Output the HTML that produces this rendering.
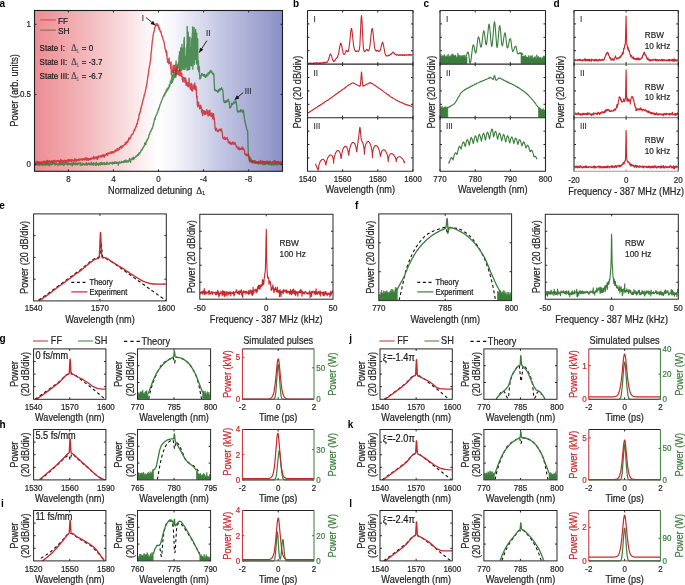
<!DOCTYPE html><html><head><meta charset="utf-8"><style>html,body{margin:0;padding:0;background:#fff;}svg{display:block;will-change:transform;font-family:"Liberation Sans", sans-serif;}</style></head><body><svg width="685" height="585" viewBox="0 0 685 585"><rect width="685" height="585" fill="#fff"/><defs><linearGradient id="ga" x1="0" y1="0" x2="1" y2="0"><stop offset="0" stop-color="#ec8d93"/><stop offset="0.2" stop-color="#f2b5b9"/><stop offset="0.35" stop-color="#f8d9db"/><stop offset="0.45" stop-color="#fdf3f4"/><stop offset="0.5" stop-color="#ffffff"/><stop offset="0.56" stop-color="#f6f6fb"/><stop offset="0.75" stop-color="#c4c7e3"/><stop offset="1" stop-color="#8a90c6"/></linearGradient></defs>
<rect x="34.5" y="10.5" width="248.0" height="160.8" fill="url(#ga)"/>
<polyline points="35.1,164.2 35.4,164.8 35.6,163.0 36.1,165.0 36.6,163.7 36.9,163.9 37.1,162.9 37.4,163.2 37.6,164.6 37.9,164.2 38.1,165.1 38.4,164.0 38.6,164.1 38.9,162.3 39.4,165.6 39.6,164.6 39.9,164.1 40.1,165.0 40.6,164.4 40.9,163.9 41.4,164.8 41.6,163.6 41.9,164.5 42.1,164.5 42.4,165.1 42.6,164.7 42.9,163.7 43.1,165.2 43.4,164.2 43.6,163.6 43.9,164.4 44.1,163.9 44.4,164.9 44.6,163.2 44.9,163.3 45.1,163.9 45.4,165.3 45.6,164.8 45.9,163.4 46.1,162.9 46.4,163.9 46.6,163.2 46.9,164.5 47.6,163.8 47.9,165.1 48.1,163.4 48.4,163.1 48.6,164.9 48.9,165.0 49.1,163.8 49.4,164.5 49.6,165.7 49.9,163.5 50.4,164.4 50.6,162.6 50.9,163.9 51.1,164.6 51.4,164.0 51.6,164.8 51.9,164.6 52.1,163.7 52.4,164.4 52.6,164.3 52.9,162.8 53.1,163.4 53.9,163.7 54.1,163.0 54.4,164.0 54.6,162.7 54.9,164.7 55.1,164.2 55.4,165.0 56.1,163.0 56.4,164.4 56.6,164.0 57.4,164.8 57.6,163.9 57.9,165.2 58.1,163.9 58.4,164.0 58.6,164.4 59.1,164.9 59.4,162.7 59.6,164.9 59.9,162.9 60.6,164.8 60.9,163.2 61.1,162.7 61.4,164.6 61.6,164.2 61.9,163.2 62.1,163.7 62.4,162.5 62.6,164.3 62.9,163.6 63.1,164.8 63.4,162.5 63.6,164.5 63.9,165.5 64.1,164.0 64.3,164.0 64.6,162.6 64.8,164.2 65.3,163.5 65.6,162.8 65.8,164.0 66.1,163.2 66.6,164.1 66.8,163.9 67.1,163.9 67.3,164.6 67.6,163.1 67.8,164.9 68.1,163.1 68.3,163.3 68.8,164.5 69.3,163.6 69.6,163.4 69.8,163.7 70.1,163.2 70.3,164.3 70.6,163.8 70.8,165.0 71.1,163.4 71.6,164.2 71.8,163.1 72.1,163.5 72.3,165.9 72.6,163.9 72.8,165.0 73.1,163.2 73.3,162.2 73.6,164.3 73.8,163.9 74.1,164.1 74.8,163.0 75.1,164.6 75.3,162.8 75.6,164.6 76.1,163.1 76.3,163.4 76.6,164.6 77.1,164.3 77.3,164.0 77.6,163.1 77.8,164.8 78.1,163.6 78.3,163.5 78.8,163.6 79.1,162.9 79.3,163.6 79.6,163.3 79.8,163.5 80.1,162.7 80.3,165.3 80.6,163.0 80.8,164.1 81.1,164.1 81.6,165.2 81.8,164.2 82.1,164.4 82.3,163.6 82.6,165.0 82.8,162.9 83.1,163.7 83.6,164.4 83.8,164.5 84.1,164.7 84.6,163.9 84.8,164.1 85.1,164.9 85.3,164.1 85.6,164.6 86.1,162.6 86.8,165.1 87.1,164.9 87.3,165.1 87.6,163.4 87.8,164.5 88.1,163.9 88.3,164.4 88.6,163.9 88.8,163.0 89.1,164.4 89.3,164.2 89.6,164.5 89.8,163.3 90.1,164.7 90.6,164.9 90.8,164.9 91.3,162.1 91.6,164.6 91.8,163.3 92.1,163.8 92.3,164.7 92.6,164.1 92.8,164.1 93.1,164.4 93.3,162.6 93.6,165.3 93.8,163.7 94.1,163.7 94.3,164.3 94.8,163.3 95.1,163.8 95.6,163.5 95.8,165.4 96.1,162.9 96.3,162.3 96.6,163.3 96.8,163.2 97.1,164.9 97.3,164.0 97.6,164.5 97.8,164.4 98.1,163.3 98.3,164.5 98.6,164.0 98.8,165.3 99.1,164.1 99.3,163.9 99.6,164.4 99.8,164.4 100.1,162.6 100.3,164.8 100.8,164.5 101.1,163.1 101.3,162.4 101.6,163.7 101.8,164.4 102.1,164.2 102.3,163.1 102.6,164.5 102.8,162.8 103.1,162.8 103.3,163.8 103.6,163.3 103.8,163.3 104.1,162.7 104.3,164.5 104.6,162.9 104.8,164.0 105.1,164.2 105.3,163.6 105.6,163.8 106.1,164.7 106.3,164.2 106.6,162.5 106.8,162.1 107.1,163.0 107.3,162.6 107.6,163.8 108.1,163.2 108.3,164.1 108.6,164.0 108.8,163.3 109.1,163.5 109.3,164.0 109.6,163.0 109.8,163.4 110.1,162.5 110.3,163.2 110.6,163.4 110.8,163.0 111.3,163.6 111.6,163.3 111.8,162.5 112.1,162.6 112.3,162.1 112.6,164.2 112.8,163.2 113.1,163.2 113.3,162.8 113.6,163.2 113.8,163.2 114.1,162.3 114.3,162.7 114.6,163.6 114.8,161.9 115.1,162.1 115.3,163.2 115.6,162.2 115.8,163.3 116.1,161.9 116.3,162.9 116.6,163.2 116.8,162.9 117.1,163.2 117.3,162.5 117.8,162.6 118.1,163.0 118.3,165.1 118.6,162.5 118.8,163.9 119.1,162.3 119.3,161.7 119.8,162.7 120.3,162.5 120.6,162.8 120.8,162.8 121.1,163.0 121.3,161.5 121.6,162.3 121.8,161.6 122.1,162.4 122.3,162.1 122.6,162.3 123.1,161.5 123.6,162.5 123.8,162.5 124.1,160.8 124.3,162.1 124.6,162.1 124.8,160.8 125.3,161.4 125.6,162.0 125.8,160.0 126.1,161.3 126.3,161.1 126.6,161.5 126.8,162.3 127.1,162.2 127.3,160.9 127.6,160.8 128.1,161.8 128.3,161.9 128.6,161.0 128.8,161.7 129.1,159.9 129.3,159.7 129.6,158.4 130.1,160.6 130.3,160.6 130.6,162.3 130.8,160.2 131.1,159.8 131.3,158.9 131.6,159.0 131.8,158.9 132.1,159.0 132.6,157.9 132.8,159.5 133.1,159.0 133.3,159.5 133.6,157.2 133.8,157.3 134.1,157.5 134.3,158.8 134.6,157.6 134.8,157.8 135.1,157.4 135.3,157.4 135.6,156.7 135.8,157.1 136.1,156.0 136.6,156.4 136.8,156.0 137.1,156.0 137.3,154.9 137.6,155.3 137.8,154.7 138.1,154.9 138.3,155.3 138.6,153.4 138.8,154.4 139.1,152.9 139.3,152.8 139.6,153.9 140.1,152.4 140.6,152.2 140.8,150.6 141.1,150.9 141.3,150.1 141.6,150.4 141.8,149.5 142.1,149.9 142.6,148.2 143.3,148.1 143.6,146.8 143.8,146.3 144.3,146.2 144.8,142.9 145.1,144.4 145.3,143.5 145.6,143.0 145.8,144.6 146.1,142.2 146.3,142.3 146.6,140.3 146.8,140.9 147.1,140.8 147.6,139.1 147.8,139.0 148.1,138.1 148.3,138.5 149.1,134.4 149.3,134.7 149.6,134.4 149.8,133.1 150.1,132.6 150.3,131.5 150.6,131.3 150.8,131.5 151.8,128.5 152.1,128.5 152.3,128.7 152.6,126.9 152.8,127.1 153.1,124.9 153.3,124.2 153.6,124.6 153.8,122.1 154.1,121.2 154.3,121.0 154.6,119.1 154.8,118.2 155.1,119.6 155.3,117.2 155.6,116.9 156.1,115.1 156.3,115.5 157.1,113.4 157.3,112.3 157.6,112.5 157.8,111.6 158.1,109.8 158.3,109.5 158.6,108.6 158.8,109.5 159.1,108.0 159.6,106.2 159.8,106.0 160.1,104.3 160.3,104.3 160.8,103.0 161.1,101.9 161.3,102.1 161.6,100.4 161.8,100.2 162.3,99.3 162.8,97.5 163.1,96.9 163.3,96.8 163.6,95.9 163.8,95.8 164.1,94.5 164.3,94.9 164.6,95.8 164.8,92.9 165.3,93.8 165.6,92.7 165.8,92.7 166.1,90.2 166.6,91.9 166.8,89.9 167.1,90.1 167.3,88.1 167.6,89.7 167.8,90.1 168.1,88.0 168.3,87.9 168.6,87.5 168.8,88.3 169.1,86.0 169.3,84.7 169.6,86.8 169.8,84.2 170.0,85.1 170.2,82.8 170.3,82.8 170.5,81.3 170.7,81.9 171.0,80.0 171.2,79.9 171.5,83.4 171.7,78.4 172.0,75.7 172.2,81.1 172.4,82.3 172.7,74.8 172.9,81.0 173.1,76.1 173.2,78.3 173.4,70.1 173.6,77.3 173.7,79.0 173.9,71.7 174.1,77.1 174.2,76.0 174.4,77.4 174.6,75.6 174.8,77.4 174.9,76.8 175.1,71.3 175.3,75.3 175.6,63.9 175.9,75.4 176.1,60.9 176.3,74.4 176.8,66.2 177.0,70.7 177.1,69.1 177.3,64.8 177.6,69.4 177.8,67.0 178.0,68.0 178.2,68.2 178.3,62.7 178.7,66.0 179.0,55.8 179.3,67.9 179.5,51.6 179.7,71.1 179.9,55.1 180.0,66.5 180.2,64.9 180.4,53.0 180.5,58.1 180.7,48.0 180.9,50.7 181.0,69.9 181.4,53.7 181.6,70.3 181.9,44.4 182.1,68.0 182.2,69.0 182.4,65.9 182.6,64.8 182.7,65.4 182.9,61.9 183.1,48.2 183.3,59.2 183.4,55.5 183.6,69.6 183.8,69.0 183.9,39.9 184.1,62.1 184.3,37.4 184.4,62.4 184.6,49.8 184.8,47.8 185.0,68.9 185.1,69.6 185.3,56.5 185.5,66.9 185.6,62.4 185.8,66.2 186.1,56.1 186.3,61.4 186.5,61.7 186.8,45.0 187.0,70.1 187.2,26.5 187.3,56.9 187.5,30.8 187.7,69.4 187.8,70.0 188.0,68.2 188.2,32.4 188.4,58.0 188.5,37.1 188.7,46.0 188.9,69.6 189.0,60.6 189.2,61.6 189.4,56.6 189.5,44.6 189.7,69.3 189.9,37.1 190.1,57.9 190.2,62.3 190.4,48.5 190.6,64.2 190.7,48.0 190.9,59.3 191.1,56.2 191.2,65.9 191.4,64.9 191.6,38.6 191.8,52.3 191.9,57.1 192.3,33.2 192.4,65.9 192.6,26.9 192.8,69.2 192.9,46.8 193.1,61.9 193.3,62.3 193.6,46.8 193.8,54.9 194.1,27.5 194.3,64.6 194.5,61.4 194.6,46.9 194.8,56.1 195.0,59.3 195.5,30.9 195.7,29.5 195.8,37.3 196.0,59.4 196.2,34.8 196.5,63.9 196.7,33.1 196.9,62.1 197.0,47.0 197.2,47.4 197.4,38.4 197.5,50.4 197.7,39.2 197.9,68.9 198.0,69.3 198.2,67.5 198.4,60.6 198.7,71.7 198.9,69.9 199.1,66.2 199.2,69.4 199.4,67.4 199.6,75.4 199.8,78.9 200.1,78.8 200.3,78.4 200.6,78.2 200.8,77.7 201.1,75.4 201.3,75.8 201.8,73.5 202.3,74.7 202.6,73.9 202.8,75.4 203.1,74.7 203.3,75.4 203.6,75.8 203.8,75.1 204.1,76.3 204.3,74.4 204.6,76.3 204.8,74.7 205.1,77.0 205.3,76.0 205.6,77.4 205.8,77.3 206.1,76.0 206.3,75.3 206.6,76.4 206.8,74.5 207.1,75.6 207.3,74.7 207.8,73.8 208.1,75.3 208.3,72.6 208.8,73.4 209.3,73.6 209.6,73.0 209.8,71.3 210.3,72.0 210.6,71.7 210.8,70.4 211.1,72.0 211.3,72.3 211.6,71.2 212.6,74.0 212.8,73.9 213.1,73.6 213.3,73.6 213.6,73.4 213.8,74.3 214.6,89.5 214.8,90.5 215.1,89.6 215.3,90.1 215.8,90.0 216.1,90.9 216.3,91.1 216.6,90.6 216.8,90.6 217.1,91.4 217.3,90.8 217.8,92.3 218.1,91.4 218.3,89.9 218.6,91.5 218.8,90.0 219.3,89.4 219.6,90.8 219.8,88.6 220.1,89.7 220.3,89.8 220.6,89.6 220.8,88.8 221.1,89.0 221.3,89.0 221.6,87.8 221.8,89.1 222.1,89.8 222.3,89.1 222.6,89.8 222.8,90.2 223.3,96.3 223.6,100.8 223.8,100.0 224.1,102.2 224.3,101.2 224.6,101.7 224.8,102.7 225.1,102.2 225.3,101.0 225.6,102.2 225.8,102.4 226.1,101.3 226.6,100.9 226.8,102.0 227.3,100.3 227.6,101.4 227.8,101.3 228.3,99.1 228.6,100.6 228.8,101.2 229.1,101.3 229.8,107.9 230.1,108.0 230.3,107.9 230.6,106.8 230.8,107.2 231.1,106.1 231.3,106.0 231.6,103.2 232.1,104.8 232.3,104.4 232.6,103.6 232.8,104.2 233.1,103.4 233.3,103.3 233.6,102.0 233.8,102.8 234.3,103.2 234.6,103.0 234.8,102.1 235.1,102.0 235.3,101.0 235.6,102.1 235.8,100.9 236.3,102.4 237.3,111.1 237.6,111.8 237.8,111.4 238.1,112.1 238.3,112.0 238.6,112.1 238.8,110.9 239.3,111.6 239.6,111.6 239.8,110.9 240.1,111.0 240.3,111.8 240.6,109.9 240.8,110.9 241.1,111.1 241.3,110.0 241.6,110.3 241.8,111.1 242.1,110.6 242.3,111.7 242.6,111.4 242.8,112.5 243.1,110.0 243.3,112.2 243.6,111.1 244.1,116.1 244.8,120.8 245.1,121.5 245.3,123.4 245.6,123.9 245.8,125.8 246.1,125.8 246.6,128.4 247.6,131.3 247.8,134.9 248.3,154.3 248.6,156.9 248.8,157.0 249.1,156.3 249.3,159.9 249.6,158.8 249.8,158.1 250.1,160.1 250.3,157.4 250.6,161.4 250.8,158.7 251.1,158.9 251.6,160.5 251.8,160.3 252.1,161.4 252.3,160.3 252.6,161.8 253.1,160.6 253.3,162.3 253.8,161.7 254.1,162.9 254.3,161.2 254.6,161.9 254.8,163.3 255.1,162.3 255.3,162.9 255.6,163.0 255.8,162.5 256.1,163.2 256.4,162.1 256.6,163.4 256.9,162.3 257.1,163.1 257.4,162.5 257.6,163.6 257.9,163.7 258.1,164.2 258.4,163.0 258.6,162.7 258.9,161.9 259.4,163.2 259.6,163.6 259.9,163.1 260.1,163.4 260.4,162.4 260.6,162.8 260.9,164.0 261.1,163.9 261.4,162.5 261.6,163.2 261.9,163.6 262.1,162.6 262.4,163.7 262.6,163.7 262.9,163.8 263.1,164.8 263.4,162.9 263.6,164.3 263.9,163.9 264.1,164.0 264.4,163.0 264.6,163.5 264.9,163.5 265.1,164.7 265.4,163.6 265.6,164.5 265.9,163.3 266.1,163.3 266.4,163.5 266.6,162.1 266.9,163.2 267.1,163.1 267.6,163.7 267.9,162.9 268.1,162.8 268.4,164.5 268.6,162.8 268.9,163.2 269.1,162.9 269.4,163.2 269.6,164.4 269.9,164.4 270.1,162.3 270.6,164.6 270.9,163.4 271.1,163.9 271.4,164.9 271.6,165.2 271.9,164.7 272.1,163.4 272.6,163.8 273.1,163.2 273.4,165.1 273.6,163.9 274.1,164.5 274.6,163.7 274.9,163.9 275.1,164.7 275.4,164.0 275.6,162.3 275.9,164.4 276.1,164.9 276.4,163.5 276.6,163.3 276.9,163.4 277.1,164.5 277.4,163.0 277.6,164.3 277.9,164.5 278.4,163.8 278.6,163.2 278.9,163.3 279.1,163.8 279.4,163.1 279.6,163.7 279.9,163.1 280.1,164.7 280.4,164.9 280.6,163.2 280.9,164.7 281.1,164.0 281.4,163.8 281.6,164.1 281.9,164.1 282.1,162.8" fill="none" stroke="#2f7a35" stroke-width="1.35" stroke-linejoin="round" stroke-opacity="0.82"/>
<polyline points="35.1,162.2 35.4,162.0 35.9,162.8 36.1,162.5 36.4,162.9 36.9,161.2 37.1,162.5 37.4,162.6 37.6,161.8 38.1,162.1 38.4,162.8 38.9,161.6 39.1,163.1 39.4,162.4 39.6,163.4 39.9,163.0 40.1,163.4 40.4,162.2 40.6,162.9 40.9,161.9 41.1,161.9 41.4,162.2 41.6,163.8 41.9,162.4 42.1,162.0 42.4,161.9 42.6,163.1 42.9,162.3 43.1,162.6 43.4,162.5 43.6,161.2 43.9,162.5 44.4,161.3 44.6,162.3 44.9,162.0 45.1,161.8 45.4,161.8 45.6,162.7 46.1,160.9 46.4,162.9 46.6,161.2 47.1,162.2 47.4,160.4 47.9,162.6 48.1,161.7 48.4,161.3 48.6,161.8 48.9,161.2 49.1,161.7 49.6,160.7 49.9,162.1 50.1,161.5 50.4,161.9 50.6,161.5 50.9,162.4 51.4,161.7 51.6,160.9 51.9,160.7 52.1,162.5 52.4,162.1 52.6,161.1 52.9,162.9 53.1,161.8 53.4,161.5 53.6,160.6 53.9,161.0 54.1,161.7 54.4,161.7 54.6,161.6 54.9,160.3 55.1,161.7 55.4,161.6 55.6,161.1 55.9,161.4 56.1,161.4 56.4,162.1 56.6,161.3 56.9,161.6 57.1,160.4 57.6,161.2 57.9,160.7 58.1,161.4 58.4,160.4 58.6,161.2 58.9,160.7 59.1,162.0 59.4,160.9 59.6,162.3 59.9,162.5 60.1,161.3 60.4,161.7 60.6,160.9 60.9,159.5 61.1,161.6 61.4,161.4 61.6,160.8 61.9,160.6 62.1,161.1 62.4,161.1 62.6,160.4 62.9,160.5 63.1,161.6 63.4,160.9 63.6,160.8 63.9,161.6 64.1,160.7 64.3,161.4 64.6,160.1 64.8,160.7 65.1,160.7 65.3,161.2 65.6,160.8 65.8,162.1 66.1,161.5 66.3,160.4 66.6,162.2 66.8,160.1 67.1,161.9 67.3,160.1 67.6,161.2 67.8,160.1 68.1,160.5 68.3,161.6 68.6,159.7 68.8,159.5 69.1,160.6 69.3,160.7 69.6,160.6 69.8,161.2 70.1,159.7 70.3,160.8 70.6,160.5 70.8,161.0 71.1,160.8 71.3,161.3 71.6,159.5 71.8,160.4 72.1,159.6 72.6,160.8 72.8,160.5 73.1,160.6 73.3,160.2 73.6,160.5 73.8,160.4 74.1,161.1 74.3,160.7 74.6,159.0 74.8,160.6 75.1,160.8 75.6,159.1 75.8,161.1 76.1,160.2 76.3,160.5 76.6,161.2 76.8,159.5 77.1,160.0 77.3,159.9 77.6,160.4 77.8,159.6 78.1,160.2 78.3,159.9 78.6,160.6 78.8,160.7 79.1,158.8 79.3,160.1 79.6,159.5 80.1,160.0 80.3,160.0 80.6,159.2 80.8,159.8 81.3,159.6 81.6,158.7 82.1,159.2 82.6,160.4 82.8,158.8 83.1,158.7 83.3,159.5 83.6,159.0 83.8,158.8 84.3,158.6 84.6,159.6 84.8,158.2 85.1,160.1 85.3,158.6 85.6,158.8 85.8,158.5 86.1,157.8 86.3,158.0 86.6,159.8 86.8,160.2 87.1,158.4 87.3,159.7 87.8,158.3 88.1,160.0 88.3,160.3 88.6,158.6 89.1,158.9 89.3,158.6 89.8,159.7 90.1,158.7 90.6,159.6 90.8,158.1 91.1,158.4 91.3,158.1 91.6,159.0 91.8,158.7 92.1,158.9 92.3,158.8 92.6,158.0 92.8,158.6 93.1,157.8 93.3,157.8 93.6,156.5 93.8,158.9 94.1,157.2 94.3,157.9 94.6,157.8 94.8,158.7 95.3,157.1 95.6,157.6 95.8,157.4 96.1,157.7 96.3,156.6 96.6,157.4 96.8,158.8 97.1,157.7 97.6,159.4 98.1,156.1 98.6,157.7 98.8,157.5 99.1,156.0 99.3,156.6 99.8,156.7 100.1,156.5 100.3,155.9 100.6,156.0 100.8,156.2 101.1,157.0 101.3,155.9 101.6,156.6 101.8,155.3 102.1,156.9 102.3,156.0 102.6,155.9 102.8,156.7 103.1,154.5 103.3,154.6 103.6,155.9 103.8,154.9 104.1,155.1 104.3,157.2 104.6,155.1 104.8,155.2 105.1,155.0 105.3,155.7 105.6,155.1 105.8,154.9 106.1,153.9 106.3,154.4 106.6,154.6 106.8,153.4 107.1,154.8 107.3,154.6 107.6,155.5 107.8,153.0 108.1,153.3 108.3,153.3 108.6,153.3 108.8,153.6 109.1,153.5 109.3,153.7 109.8,153.3 110.1,152.2 110.6,153.1 110.8,153.4 111.1,153.3 111.3,151.6 111.6,152.3 112.1,152.7 112.3,153.1 112.8,151.5 113.1,152.3 113.6,151.9 113.8,151.6 114.1,152.7 114.3,151.6 114.6,151.9 114.8,150.6 115.1,151.6 115.6,149.8 115.8,150.9 116.1,151.0 116.3,150.3 116.6,150.3 116.8,150.9 117.3,148.5 117.6,149.9 117.8,149.8 118.1,150.2 118.3,149.1 118.6,150.0 118.8,149.8 119.1,148.0 119.3,149.3 119.6,147.8 119.8,147.3 120.1,148.0 120.3,147.6 120.6,146.5 120.8,147.8 121.1,147.9 121.3,148.3 121.8,145.9 122.1,146.1 122.3,147.2 122.8,146.5 123.1,145.7 123.3,145.9 123.6,145.4 123.8,145.1 124.1,145.3 124.6,144.4 124.8,144.4 125.1,143.7 125.3,142.5 125.6,143.1 125.8,143.2 126.1,144.2 126.3,142.4 126.6,143.8 126.8,143.1 127.1,141.2 127.3,141.0 127.6,141.3 127.8,142.1 128.1,140.8 128.3,140.7 128.8,137.9 129.1,139.0 129.3,139.4 129.6,139.3 129.8,138.1 130.1,137.9 130.3,138.2 130.6,136.9 130.8,137.4 131.1,135.5 131.6,134.7 131.8,135.3 132.1,134.2 132.3,134.2 132.6,133.9 132.8,133.5 133.1,133.7 133.3,133.3 133.6,131.2 133.8,131.4 134.3,129.6 134.6,130.9 135.1,128.5 135.3,127.8 135.6,127.8 135.8,126.3 136.1,126.2 136.3,126.6 136.6,125.8 136.8,123.9 137.1,123.4 137.3,124.3 137.6,121.3 137.8,120.9 138.1,119.5 138.3,119.7 138.6,118.6 138.8,118.1 139.1,114.4 139.3,115.2 139.6,112.9 139.8,113.4 140.1,111.8 140.3,112.1 140.8,108.2 141.1,108.7 141.3,106.0 141.6,105.5 141.8,105.5 142.6,101.7 143.1,100.2 143.3,98.9 143.6,98.5 143.8,97.8 144.3,94.4 144.6,95.2 144.8,93.2 145.3,91.9 145.6,89.6 145.8,89.4 146.1,86.8 146.3,87.2 146.6,85.0 147.1,82.7 147.3,80.1 147.6,78.9 147.8,76.7 148.3,74.3 149.1,67.8 149.3,67.6 149.6,65.5 149.8,65.1 150.1,61.8 150.3,61.2 150.6,59.8 151.1,53.0 151.3,52.2 152.3,41.1 152.6,39.8 153.1,35.2 153.3,34.7 153.6,32.6 153.8,32.4 154.1,31.5 154.3,31.0 154.6,27.6 154.8,28.3 155.1,27.1 155.6,25.7 155.8,25.3 156.1,23.7 156.3,25.5 156.6,25.6 156.8,25.1 157.1,25.2 157.3,23.8 157.6,24.0 157.8,25.6 158.1,26.4 158.3,26.1 158.6,25.4 158.8,29.0 159.1,27.3 159.3,29.1 159.6,28.2 159.8,30.3 160.1,30.4 160.3,31.9 160.6,32.1 160.8,31.1 161.8,36.2 162.1,35.9 162.3,36.4 162.8,38.2 163.1,39.9 163.3,40.1 163.6,41.1 163.8,41.2 164.1,41.9 164.6,46.0 164.8,46.6 165.3,49.4 165.6,50.1 165.8,52.0 166.1,49.9 166.3,50.6 166.6,55.4 166.8,51.8 167.1,58.5 167.3,58.7 167.6,62.3 167.8,60.7 168.1,60.4 168.3,59.7 168.6,63.8 168.8,58.7 169.1,57.9 169.3,62.3 169.6,63.3 169.8,63.4 170.1,63.6 170.3,62.9 170.6,68.2 170.8,67.2 171.1,61.9 171.3,74.8 171.6,69.1 171.8,71.7 172.1,72.7 172.3,69.2 172.6,71.8 172.8,69.3 173.1,65.2 173.3,72.3 173.6,69.8 173.8,71.1 174.1,65.7 174.3,65.5 174.6,70.1 174.8,68.3 175.1,70.3 175.3,69.0 175.6,69.3 175.8,77.3 176.1,69.0 176.3,73.6 176.6,71.3 176.8,66.8 177.1,73.7 177.3,74.2 177.6,70.0 177.8,71.0 178.1,70.4 178.3,73.9 178.6,74.8 179.1,70.5 179.3,72.0 179.6,69.8 179.8,75.7 180.3,71.0 180.6,69.9 180.8,76.1 181.1,74.4 181.3,75.7 181.6,76.1 181.8,73.2 182.1,77.6 182.3,79.7 182.6,76.7 182.8,81.8 183.1,82.0 183.3,77.3 183.6,81.0 183.8,78.0 184.1,77.4 184.3,78.0 184.6,80.6 184.8,79.4 185.1,82.6 185.3,81.6 185.6,77.9 185.8,79.4 186.1,85.4 186.3,80.8 186.6,84.6 186.8,85.1 187.1,85.2 187.3,82.7 187.6,82.6 187.8,86.5 188.1,84.4 188.3,85.7 188.6,83.7 188.8,86.9 189.1,78.1 189.3,85.8 189.6,85.1 189.8,83.5 190.1,84.7 190.3,89.1 190.6,85.4 190.8,86.2 191.1,89.4 191.3,84.5 191.6,83.3 191.8,90.8 192.1,89.8 192.3,91.0 192.6,90.9 192.8,87.0 193.1,87.6 193.3,84.8 193.6,88.6 194.1,85.4 194.3,89.1 194.6,85.2 194.8,83.0 195.3,89.6 195.8,90.1 196.1,86.3 196.6,96.5 196.8,98.1 197.1,96.2 197.3,105.2 197.6,101.4 197.8,106.7 198.1,103.0 198.3,104.9 198.6,102.3 198.8,106.4 199.1,105.4 199.6,108.8 199.8,106.3 200.1,106.8 200.3,105.1 200.6,108.4 200.8,105.5 201.1,107.2 201.3,107.1 201.6,112.3 201.8,110.3 202.1,109.7 202.3,111.5 202.6,115.7 202.8,110.0 203.1,111.9 203.3,113.0 203.6,113.3 203.8,113.2 204.1,110.7 204.3,114.6 204.6,113.7 204.8,111.4 205.1,111.5 205.3,113.1 205.6,112.9 205.8,114.4 206.3,111.0 206.6,113.3 206.8,109.7 207.3,113.2 207.6,111.1 208.1,116.2 208.3,115.1 208.8,110.9 209.1,112.3 209.3,112.0 209.6,115.2 209.8,110.1 210.1,115.3 210.6,113.3 210.8,115.3 211.3,116.5 211.6,113.4 211.8,112.9 212.1,113.9 212.6,118.3 213.1,115.3 213.3,119.2 213.6,113.6 213.8,117.4 214.1,119.0 214.3,117.9 215.1,128.6 215.3,128.8 215.6,130.5 215.8,128.4 216.1,129.3 216.6,128.3 217.1,131.2 217.3,130.7 217.6,131.0 218.1,130.4 218.3,131.7 218.6,129.9 218.8,131.0 219.1,129.6 219.3,129.7 219.6,129.7 219.8,129.3 220.3,129.9 220.6,130.9 221.1,128.8 221.3,129.0 221.8,130.3 222.1,132.9 222.3,133.3 222.6,136.3 222.8,137.9 223.1,138.2 223.3,138.0 223.6,138.5 223.8,138.4 224.1,139.2 224.3,138.8 224.6,137.1 224.8,138.8 225.1,139.0 225.3,138.4 225.6,138.2 225.8,139.5 226.3,138.0 226.6,138.4 226.8,138.4 227.1,137.4 227.3,139.0 227.6,139.1 227.8,140.2 228.1,139.5 228.3,142.5 228.6,142.3 228.8,142.7 229.1,142.0 229.3,142.1 229.6,141.6 229.8,143.7 230.1,142.2 230.3,143.0 230.6,143.3 230.8,142.5 231.3,144.5 231.6,143.3 231.8,144.2 232.3,142.9 232.6,142.9 232.8,142.0 233.3,144.1 233.6,143.5 234.1,143.7 234.3,142.6 234.8,144.2 235.1,142.6 235.3,143.9 235.6,144.3 235.8,145.2 236.1,145.6 236.3,146.8 236.6,146.2 236.8,146.9 237.3,147.2 237.6,148.6 237.8,147.8 238.1,148.0 238.3,147.8 238.6,149.0 238.8,147.1 239.3,149.3 239.6,149.8 239.8,148.9 240.1,148.9 240.3,149.3 240.6,148.7 240.8,149.2 241.1,148.4 241.3,149.3 241.8,148.0 242.1,146.9 242.3,149.4 242.6,149.0 242.8,149.3 243.1,148.1 243.3,149.5 243.8,148.7 244.6,151.2 244.8,153.7 245.1,154.6 245.3,154.5 245.6,154.2 245.8,154.5 246.1,155.7 246.6,154.0 246.8,154.3 247.3,155.5 247.6,154.5 247.8,155.4 248.1,155.9 248.3,155.7 248.6,154.2 248.8,156.6 249.1,157.5 249.3,160.2 249.6,160.8 249.8,161.9 250.1,161.6 250.3,159.8 250.8,161.9 251.3,161.4 251.6,160.8 252.1,163.0 252.3,162.0 252.6,161.8 252.8,161.8 253.1,160.9 253.3,161.7 253.6,161.4 253.8,162.7 254.3,160.6 254.6,161.5 254.8,161.9 255.1,162.0 255.3,160.9 255.6,162.8 256.1,161.8 256.4,161.6 256.6,162.4 256.9,161.9 257.1,162.3 257.4,162.0 257.6,162.2 257.9,162.9 258.4,161.5 258.6,162.8 259.1,161.7 259.4,162.9 259.6,162.0 259.9,162.9 260.1,161.3 260.4,160.5 260.6,160.7 260.9,162.3 261.1,161.6 261.4,162.1 261.6,162.1 261.9,161.1 262.1,163.1 262.4,161.4 262.6,162.2 262.9,161.2 263.4,162.6 263.6,162.0 263.9,161.6 264.1,162.1 264.4,161.8 264.9,163.7 265.1,161.5 265.4,161.7 265.6,162.1 265.9,162.1 266.1,161.4 266.4,162.5 266.6,162.7 266.9,162.3 267.1,161.3 267.4,163.2 267.6,161.3 267.9,162.6 268.1,163.0 268.4,161.3 268.9,163.1 269.4,161.5 269.6,161.4 269.9,162.5 270.1,161.9 270.4,161.7 270.6,162.6 270.9,161.9 271.4,162.6 271.6,162.5 271.9,162.2 272.1,162.2 272.4,162.6 272.6,162.5 272.9,161.4 273.1,162.1 273.4,161.6 273.6,161.4 273.9,161.8 274.1,160.6 274.4,162.8 274.6,161.6 274.9,162.4 275.1,160.9 275.4,161.0 275.6,163.6 276.1,161.8 276.4,161.7 276.6,161.7 276.9,162.3 277.1,161.9 277.4,161.8 277.6,162.3 277.9,161.5 278.1,163.8 278.4,161.8 278.6,163.0 278.9,161.6 279.1,162.4 279.4,162.9 279.6,162.0 279.9,162.9 280.1,162.9 280.4,163.3 280.6,162.3 281.1,161.5 281.4,162.4 281.6,161.5 281.9,162.2 282.1,162.3" fill="none" stroke="#cc2229" stroke-width="1.35" stroke-linejoin="round" stroke-opacity="0.82"/>
<rect x="34.5" y="10.5" width="248" height="160.8" stroke="#1c1c1c" stroke-width="1.1" fill="none"/>
<line x1="68.34" y1="171.3" x2="68.34" y2="169.3" stroke="#262626" stroke-width="1.0" />
<line x1="68.34" y1="10.5" x2="68.34" y2="12.5" stroke="#262626" stroke-width="1.0" />
<line x1="113.42" y1="171.3" x2="113.42" y2="169.3" stroke="#262626" stroke-width="1.0" />
<line x1="113.42" y1="10.5" x2="113.42" y2="12.5" stroke="#262626" stroke-width="1.0" />
<line x1="158.5" y1="171.3" x2="158.5" y2="169.3" stroke="#262626" stroke-width="1.0" />
<line x1="158.5" y1="10.5" x2="158.5" y2="12.5" stroke="#262626" stroke-width="1.0" />
<line x1="203.58" y1="171.3" x2="203.58" y2="169.3" stroke="#262626" stroke-width="1.0" />
<line x1="203.58" y1="10.5" x2="203.58" y2="12.5" stroke="#262626" stroke-width="1.0" />
<line x1="248.66" y1="171.3" x2="248.66" y2="169.3" stroke="#262626" stroke-width="1.0" />
<line x1="248.66" y1="10.5" x2="248.66" y2="12.5" stroke="#262626" stroke-width="1.0" />
<line x1="34.5" y1="164.5" x2="36.5" y2="164.5" stroke="#262626" stroke-width="1.0" />
<line x1="282.5" y1="164.5" x2="280.5" y2="164.5" stroke="#262626" stroke-width="1.0" />
<line x1="34.5" y1="94.4" x2="36.5" y2="94.4" stroke="#262626" stroke-width="1.0" />
<line x1="282.5" y1="94.4" x2="280.5" y2="94.4" stroke="#262626" stroke-width="1.0" />
<line x1="34.5" y1="24.3" x2="36.5" y2="24.3" stroke="#262626" stroke-width="1.0" />
<line x1="282.5" y1="24.3" x2="280.5" y2="24.3" stroke="#262626" stroke-width="1.0" />
<text transform="translate(68.34 182) scale(1 1.1)" font-size="8" text-anchor="middle" fill="#262626" font-weight="normal" stroke="#262626" stroke-width="0.2" >8</text>
<text transform="translate(113.42 182) scale(1 1.1)" font-size="8" text-anchor="middle" fill="#262626" font-weight="normal" stroke="#262626" stroke-width="0.2" >4</text>
<text transform="translate(158.5 182) scale(1 1.1)" font-size="8" text-anchor="middle" fill="#262626" font-weight="normal" stroke="#262626" stroke-width="0.2" >0</text>
<text transform="translate(203.58 182) scale(1 1.1)" font-size="8" text-anchor="middle" fill="#262626" font-weight="normal" stroke="#262626" stroke-width="0.2" >-4</text>
<text transform="translate(248.66 182) scale(1 1.1)" font-size="8" text-anchor="middle" fill="#262626" font-weight="normal" stroke="#262626" stroke-width="0.2" >-8</text>
<text transform="translate(31 167.3) scale(1 1.1)" font-size="8" text-anchor="end" fill="#262626" font-weight="normal" stroke="#262626" stroke-width="0.2" >0</text>
<text transform="translate(31 97.2) scale(1 1.1)" font-size="8" text-anchor="end" fill="#262626" font-weight="normal" stroke="#262626" stroke-width="0.2" >0.5</text>
<text transform="translate(31 27.1) scale(1 1.1)" font-size="8" text-anchor="end" fill="#262626" font-weight="normal" stroke="#262626" stroke-width="0.2" >1</text>
<text transform="translate(156.5 193.5) scale(1 1.1)" font-size="9.2" text-anchor="middle" fill="#262626" font-weight="normal" stroke="#262626" stroke-width="0.2" >Normalized detuning <tspan font-family="Liberation Serif" dx="1.5">&#916;</tspan><tspan font-size="5" dy="1.2">1</tspan></text>
<text transform="translate(17.8 90.4) rotate(-90) scale(1 1.1)" font-size="9.2" text-anchor="middle" fill="#262626" font-weight="normal" stroke="#262626" stroke-width="0.2" >Power (arb. units)</text>
<line x1="40.1" y1="19.9" x2="55.9" y2="19.9" stroke="#de6268" stroke-width="1.6" />
<line x1="40.1" y1="30.2" x2="55.9" y2="30.2" stroke="#a07f62" stroke-width="1.6" />
<text transform="translate(57.9 23.9) scale(1 1.1)" font-size="8.4" text-anchor="start" fill="#1a1a1a" font-weight="normal" stroke="#1a1a1a" stroke-width="0.2" >FF</text>
<text transform="translate(57.9 34.2) scale(1 1.1)" font-size="8.4" text-anchor="start" fill="#1a1a1a" font-weight="normal" stroke="#1a1a1a" stroke-width="0.2" >SH</text>
<text transform="translate(39.6 51.2) scale(1 1.1)" font-size="8" text-anchor="start" fill="#1a1a1a" font-weight="normal" stroke="#1a1a1a" stroke-width="0.2" >State I:</text>
<text transform="translate(71.3 51.2) scale(1 1.1)" font-size="8.5" text-anchor="start" fill="#444" font-weight="normal" stroke="#444" stroke-width="0.2" font-family="Liberation Serif">&#916;</text>
<text transform="translate(76.6 53) scale(1 1.1)" font-size="4.5" text-anchor="start" fill="#777" font-weight="normal" stroke="#777" stroke-width="0.2" >1</text>
<text transform="translate(81.8 51.2) scale(1 1.1)" font-size="8" text-anchor="start" fill="#1a1a1a" font-weight="normal" stroke="#1a1a1a" stroke-width="0.2" >= 0</text>
<text transform="translate(39.6 65) scale(1 1.1)" font-size="8" text-anchor="start" fill="#1a1a1a" font-weight="normal" stroke="#1a1a1a" stroke-width="0.2" >State II:</text>
<text transform="translate(71.3 65) scale(1 1.1)" font-size="8.5" text-anchor="start" fill="#444" font-weight="normal" stroke="#444" stroke-width="0.2" font-family="Liberation Serif">&#916;</text>
<text transform="translate(76.6 66.8) scale(1 1.1)" font-size="4.5" text-anchor="start" fill="#777" font-weight="normal" stroke="#777" stroke-width="0.2" >1</text>
<text transform="translate(81.8 65) scale(1 1.1)" font-size="8" text-anchor="start" fill="#1a1a1a" font-weight="normal" stroke="#1a1a1a" stroke-width="0.2" >= -3.7</text>
<text transform="translate(39.6 78.8) scale(1 1.1)" font-size="8" text-anchor="start" fill="#1a1a1a" font-weight="normal" stroke="#1a1a1a" stroke-width="0.2" >State III:</text>
<text transform="translate(71.3 78.8) scale(1 1.1)" font-size="8.5" text-anchor="start" fill="#444" font-weight="normal" stroke="#444" stroke-width="0.2" font-family="Liberation Serif">&#916;</text>
<text transform="translate(76.6 80.6) scale(1 1.1)" font-size="4.5" text-anchor="start" fill="#777" font-weight="normal" stroke="#777" stroke-width="0.2" >1</text>
<text transform="translate(81.8 78.8) scale(1 1.1)" font-size="8" text-anchor="start" fill="#1a1a1a" font-weight="normal" stroke="#1a1a1a" stroke-width="0.2" >= -6.7</text>
<text transform="translate(142.9 21) scale(1 1.1)" font-size="8" text-anchor="middle" fill="#1a1a1a" font-weight="normal" stroke="#1a1a1a" stroke-width="0.08" >I</text>
<line x1="146.1" y1="17.6" x2="155.3" y2="25.3" stroke="#111" stroke-width="0.9" />
<polygon points="155.30,25.30 150.49,23.88 153.06,20.81" fill="#111"/>
<text transform="translate(208.3 36.4) scale(1 1.1)" font-size="8" text-anchor="middle" fill="#1a1a1a" font-weight="normal" stroke="#1a1a1a" stroke-width="0.08" >II</text>
<line x1="206.9" y1="40.6" x2="199.2" y2="52.6" stroke="#111" stroke-width="0.9" />
<polygon points="199.20,52.60 200.00,47.65 203.37,49.81" fill="#111"/>
<text transform="translate(248.1 93.8) scale(1 1.1)" font-size="8" text-anchor="middle" fill="#1a1a1a" font-weight="normal" stroke="#1a1a1a" stroke-width="0.08" >III</text>
<line x1="243.2" y1="92.6" x2="234.6" y2="99.8" stroke="#111" stroke-width="0.9" />
<polygon points="234.60,99.80 236.84,95.31 239.41,98.38" fill="#111"/>
<text transform="translate(2.2 7) scale(1 1.1)" font-size="10" text-anchor="middle" fill="#000" font-weight="bold" >a</text>
<polyline points="308.1,63.5 308.4,63.4 308.6,63.5 308.9,63.5 309.1,63.1 309.4,63.5 309.9,63.5 310.1,63.1 310.4,63.5 310.9,63.1 311.1,63.5 311.6,63.2 312.1,63.5 312.4,63.5 312.6,63.4 313.1,63.5 313.4,62.9 313.6,63.1 313.9,63.0 314.4,63.5 314.6,63.4 314.9,62.9 315.4,63.4 315.6,63.0 316.1,63.2 316.4,62.7 316.6,63.3 316.9,63.2 317.1,63.3 317.4,62.9 317.9,62.9 318.1,63.1 318.6,63.1 318.9,63.5 319.1,63.4 319.4,62.8 319.6,62.9 319.9,63.4 320.1,62.9 320.4,63.3 320.6,63.4 320.9,62.8 321.4,63.0 321.6,62.7 321.9,62.7 322.1,62.8 322.4,63.1 322.6,62.8 322.9,62.8 323.1,62.7 323.4,62.5 323.6,63.1 323.9,62.2 324.4,62.8 324.6,62.3 324.9,62.8 325.1,62.9 325.4,62.3 325.6,62.5 325.9,62.2 326.1,62.5 326.6,62.3 326.9,62.5 327.1,62.1 327.4,62.1 327.6,61.6 327.9,60.8 328.1,60.6 328.4,60.0 328.6,58.8 328.9,58.6 329.6,55.3 330.4,54.0 330.6,54.2 330.9,54.0 331.1,55.4 331.4,55.5 331.6,56.1 332.4,59.3 332.6,59.5 332.9,60.3 333.1,60.4 333.4,61.4 333.6,61.1 333.9,61.6 334.1,60.8 334.4,61.1 334.6,60.6 334.9,60.7 335.1,60.4 335.4,59.5 335.6,59.3 336.1,58.5 336.4,58.4 336.9,57.5 337.1,57.6 337.4,57.3 337.6,56.4 338.1,55.3 338.9,52.1 339.6,47.3 339.9,46.5 340.4,43.8 340.6,43.3 340.9,43.6 341.1,43.5 341.9,46.6 342.6,50.5 342.9,51.3 343.1,53.2 343.6,54.1 343.9,54.2 344.1,54.5 344.4,54.5 344.9,53.9 345.1,53.0 345.4,52.8 345.9,51.1 346.1,50.6 346.6,50.8 346.9,50.4 347.1,51.4 347.4,51.7 347.6,51.5 347.9,51.5 348.1,51.4 348.4,51.2 349.1,47.3 349.9,40.7 350.6,32.8 351.1,29.3 351.4,28.4 351.6,28.7 351.9,29.7 353.6,45.6 354.1,48.2 354.6,50.1 355.4,50.9 355.6,51.4 355.9,51.1 356.1,51.6 356.4,51.5 356.6,51.2 356.9,51.4 357.4,51.0 357.6,51.2 357.9,51.0 358.1,51.4 358.4,51.2 358.6,51.3 358.9,51.1 359.1,49.6 359.4,49.4 359.9,44.8 361.1,19.1 361.4,16.2 361.6,15.5 362.1,22.9 362.9,40.8 363.1,44.2 363.6,49.1 363.9,50.5 364.4,51.5 364.6,51.3 364.9,51.7 365.4,50.8 365.9,50.3 366.1,50.2 366.6,49.4 366.9,49.4 367.1,49.5 367.4,50.2 367.6,49.9 367.9,50.5 368.1,50.8 368.4,50.4 368.6,50.6 368.9,50.3 369.4,48.8 369.9,46.1 370.6,39.7 370.9,36.2 371.6,30.0 371.9,29.0 372.1,28.4 372.4,29.0 372.9,31.6 373.9,41.4 374.6,47.6 375.1,49.6 375.4,49.7 375.6,50.7 375.9,50.4 376.1,50.7 376.4,51.2 376.6,50.4 376.9,50.8 377.6,50.4 377.9,50.9 378.1,50.8 378.4,51.3 378.6,51.5 378.9,51.0 379.1,51.2 379.4,51.3 379.9,50.7 380.1,50.6 381.1,47.3 381.6,44.6 381.9,44.2 382.4,42.2 382.6,42.2 382.9,43.0 383.1,43.3 383.9,47.6 384.1,48.3 384.9,53.0 385.1,53.6 385.4,53.9 385.6,54.9 385.9,55.4 386.4,55.6 386.9,56.1 387.1,55.9 387.4,56.0 388.1,55.5 388.4,55.7 388.6,55.4 388.9,55.4 389.1,55.6 389.4,55.3 389.6,55.3 389.9,54.6 390.1,55.0 390.4,54.6 390.9,54.1 391.1,54.4 391.9,53.0 392.1,53.0 392.4,52.7 392.6,53.0 392.9,52.2 393.1,52.0 393.4,52.5 393.9,52.9 394.4,53.9 394.6,53.6 394.9,53.8 395.1,53.7 395.4,54.4 395.6,54.8 395.9,54.6 396.1,55.1 396.4,54.9 396.6,55.3 397.1,54.7 397.4,54.8 397.6,54.6 397.9,54.6 398.1,55.1 398.6,55.5 398.9,55.0 399.1,54.9 399.4,54.7 399.6,55.2 400.1,54.9 400.4,55.2 400.6,55.1 400.9,54.5 401.1,55.2 401.6,54.9 401.9,54.9 402.1,55.4 402.4,55.4 402.6,55.5 402.9,54.7 403.1,54.8 403.4,55.2 403.6,54.7 403.9,54.8 404.1,54.5 404.4,55.5 405.4,54.9 405.6,54.9 405.9,55.2 406.1,54.8 406.4,55.3 406.6,54.9 406.9,54.8 407.1,55.3 407.4,55.0 407.6,55.1 407.9,54.9 408.1,54.4 408.4,55.1 408.6,54.7 408.9,55.3 409.1,54.6 409.4,54.5 409.6,55.1 410.1,55.0 410.4,54.7 410.6,55.2 410.9,54.6 411.1,54.9 411.4,54.8 411.6,54.9 411.9,55.2 412.1,54.8 412.4,55.1" fill="none" stroke="#c8282d" stroke-width="1.1" stroke-linejoin="round" />
<polyline points="308.1,113.1 308.4,112.6 309.4,112.2 309.6,111.8 309.9,111.9 310.1,111.8 310.6,111.2 310.9,111.2 311.1,111.0 311.4,110.9 311.6,110.7 311.9,110.6 312.1,110.3 312.4,110.4 312.6,109.8 313.1,109.8 313.4,109.4 313.6,109.5 313.9,109.1 314.1,109.1 314.4,108.8 314.9,108.6 315.4,108.2 315.6,108.3 316.1,107.6 316.4,107.7 317.1,107.3 317.4,106.8 317.6,106.9 318.4,106.3 318.6,105.8 319.1,106.0 319.4,105.4 320.4,105.2 320.6,104.6 321.1,104.6 321.4,104.2 321.9,104.2 322.4,103.7 322.6,103.2 322.9,103.3 323.6,102.8 323.9,103.0 324.1,102.5 324.4,102.2 324.6,102.2 325.1,101.8 325.6,101.6 326.1,101.0 326.6,100.9 326.9,100.6 327.1,100.7 327.6,100.1 328.1,100.1 328.6,99.5 328.9,99.5 329.4,98.9 329.6,98.9 330.6,98.2 330.9,97.9 331.4,97.7 331.6,97.4 331.9,97.4 332.1,96.9 332.4,96.8 332.6,96.9 332.9,96.8 333.6,95.9 333.9,95.9 334.1,95.7 334.4,95.3 334.6,95.4 335.1,95.0 335.4,94.6 335.6,94.6 335.9,94.2 336.1,94.4 336.6,93.7 336.9,93.8 337.1,93.6 337.4,93.2 337.6,93.4 337.9,92.8 338.4,92.7 338.6,92.1 338.9,92.3 339.6,91.6 339.9,91.5 340.1,91.2 340.6,90.9 340.9,90.6 341.1,90.8 341.4,90.3 342.4,89.8 343.1,89.1 343.9,88.7 344.4,88.0 344.6,88.3 345.9,87.0 346.4,86.8 346.9,86.3 347.4,86.1 347.6,85.8 347.9,85.7 348.1,85.3 348.4,85.4 349.1,84.7 349.4,84.8 349.6,84.5 349.9,84.5 350.1,84.3 350.4,84.2 350.9,83.7 351.1,83.7 351.4,83.5 351.6,83.5 351.9,83.2 352.6,82.9 352.9,82.7 354.6,83.6 354.9,84.0 355.1,83.9 356.1,84.5 356.6,84.5 356.9,84.9 357.1,84.8 357.4,85.1 358.1,85.7 358.9,85.7 359.4,86.1 359.6,85.9 359.9,86.2 360.1,86.0 360.4,85.3 360.6,83.4 361.4,72.5 361.6,72.0 362.4,82.8 362.6,84.9 363.1,86.2 363.4,85.9 363.6,86.0 364.1,85.5 364.4,85.6 364.6,85.4 365.1,85.2 365.6,84.8 365.9,84.8 366.9,84.1 367.9,83.9 368.1,83.5 368.4,83.6 368.6,83.2 369.1,83.2 369.4,82.8 369.6,82.8 369.9,82.9 370.6,82.6 370.9,83.1 371.1,83.0 371.4,83.0 371.6,83.5 372.1,83.6 372.4,83.9 372.6,83.9 373.1,84.2 373.4,84.2 373.6,84.6 374.1,84.7 374.6,85.3 374.9,85.3 375.4,85.7 375.6,85.8 375.9,85.8 376.1,86.2 376.9,86.9 377.1,86.9 377.6,87.4 377.9,87.3 378.1,87.7 378.6,87.9 378.9,88.2 379.4,88.3 379.6,88.7 380.4,89.1 380.6,89.4 381.1,89.6 381.6,90.1 381.9,90.1 382.6,90.7 383.4,91.6 384.4,92.3 384.6,92.3 384.9,92.6 386.1,93.4 386.4,93.4 386.6,93.8 387.6,94.6 387.9,94.6 388.1,94.8 388.6,94.9 388.9,95.2 389.1,95.8 389.4,95.5 389.9,96.3 390.1,96.2 390.4,96.7 390.6,96.8 390.9,96.9 391.1,97.2 391.6,97.2 391.9,97.5 392.4,97.6 392.6,97.7 392.9,98.3 393.1,98.1 393.9,98.7 394.9,99.1 395.6,100.0 395.9,100.0 396.1,100.2 396.9,100.2 397.1,100.5 397.4,100.4 397.9,101.1 398.1,101.1 398.4,101.3 398.9,101.2 399.4,101.6 399.9,102.2 400.1,102.0 400.6,102.2 401.1,102.3 401.4,102.6 401.9,102.9 402.1,102.8 402.4,103.0 402.6,102.9 402.9,103.3 403.1,103.2 403.4,103.4 404.4,103.7 404.6,104.2 404.9,104.1 405.1,104.2 405.4,104.6 405.6,104.4 405.9,104.6 406.1,104.6 406.4,104.9 407.1,104.9 407.6,105.2 407.9,104.9 408.1,105.2 408.6,105.4 408.9,105.3 409.1,105.7 409.4,105.6 409.6,105.7 410.1,105.7 410.4,105.9 410.6,105.8 411.1,106.2 411.9,106.4 412.1,106.8 412.4,106.7" fill="none" stroke="#c8282d" stroke-width="1.1" stroke-linejoin="round" />
<polyline points="315.4,164.0 318.2,170.2 318.6,166.6 319.0,164.8 319.8,162.4 320.4,161.2 321.0,160.4 321.6,159.8 322.4,159.4 323.2,159.4 323.8,159.8 324.4,160.4 325.0,161.5 325.4,162.7 325.8,164.9 326.0,164.9 326.2,163.3 326.6,161.3 327.2,159.3 327.8,157.8 328.4,156.7 329.0,155.9 329.8,155.2 330.4,155.0 330.8,155.0 331.2,155.1 331.8,155.6 332.4,156.5 332.8,157.5 333.2,158.9 333.4,160.0 333.6,163.2 333.8,159.8 334.4,156.6 335.4,153.5 336.4,151.6 337.2,150.7 337.8,150.5 338.2,150.5 338.6,150.7 339.2,151.3 339.8,152.5 340.2,153.6 340.6,155.3 341.0,158.5 341.2,158.4 341.4,156.3 341.8,153.8 342.2,152.0 342.8,149.9 343.4,148.4 344.0,147.3 344.6,146.6 345.2,146.3 345.8,146.4 346.2,146.6 346.8,147.4 347.2,148.2 347.6,149.3 348.0,150.8 348.4,153.1 348.6,155.1 348.8,155.1 349.0,152.9 349.4,150.3 349.8,148.4 350.4,146.3 351.0,144.7 351.6,143.6 352.2,142.8 352.8,142.5 353.4,142.5 354.0,142.8 354.6,143.6 355.2,144.8 356.0,147.5 356.4,149.8 356.6,151.8 356.8,151.7 357.0,149.5 359.0,134.4 359.6,128.5 359.8,127.3 360.0,127.3 360.2,128.6 360.8,135.8 361.2,139.0 361.6,140.4 362.8,143.0 363.6,145.9 364.2,149.8 364.4,154.3 364.6,150.0 365.0,147.3 365.4,145.6 366.0,143.8 366.8,142.4 367.4,141.7 367.8,141.5 368.2,141.5 368.6,141.6 369.0,141.9 369.8,143.0 370.6,144.9 371.2,147.0 371.8,149.9 372.2,153.0 372.4,157.6 372.6,153.1 373.0,150.5 373.4,148.8 374.0,147.2 374.6,146.2 375.2,145.6 375.6,145.5 376.0,145.4 376.6,145.7 377.4,146.5 378.0,147.4 378.6,148.7 379.2,150.4 379.8,152.6 380.2,154.8 380.4,156.5 380.6,156.5 381.0,153.9 381.4,152.4 381.8,151.4 382.4,150.4 383.0,149.9 383.4,149.7 383.8,149.7 384.6,150.0 385.4,150.8 386.4,152.6 387.4,155.4 388.0,158.4 388.2,161.6 388.4,158.5 388.6,157.4 389.0,156.1 389.4,155.2 390.0,154.3 390.6,153.8 391.4,153.5 392.2,153.7 393.0,154.2 393.8,155.1 394.6,156.2 395.2,157.3 395.8,158.8 396.0,159.6 396.2,161.6 396.4,159.7 396.6,159.0 397.0,158.2 397.4,157.6 398.0,157.1 398.4,156.9 399.0,156.7 399.8,156.8 400.6,157.1 401.6,157.9 402.4,158.7 403.2,159.8 403.8,161.0 404.0,161.6 404.2,163.0 404.4,161.7 404.8,160.9" fill="none" stroke="#c8282d" stroke-width="1.1" stroke-linejoin="round" />
<line x1="307.5" y1="23.9" x2="309.5" y2="23.9" stroke="#262626" stroke-width="1.0" />
<line x1="413" y1="23.9" x2="411" y2="23.9" stroke="#262626" stroke-width="1.0" />
<line x1="307.5" y1="37.3" x2="309.5" y2="37.3" stroke="#262626" stroke-width="1.0" />
<line x1="413" y1="37.3" x2="411" y2="37.3" stroke="#262626" stroke-width="1.0" />
<line x1="307.5" y1="50.7" x2="309.5" y2="50.7" stroke="#262626" stroke-width="1.0" />
<line x1="413" y1="50.7" x2="411" y2="50.7" stroke="#262626" stroke-width="1.0" />
<line x1="307.5" y1="77.5" x2="309.5" y2="77.5" stroke="#262626" stroke-width="1.0" />
<line x1="413" y1="77.5" x2="411" y2="77.5" stroke="#262626" stroke-width="1.0" />
<line x1="307.5" y1="90.9" x2="309.5" y2="90.9" stroke="#262626" stroke-width="1.0" />
<line x1="413" y1="90.9" x2="411" y2="90.9" stroke="#262626" stroke-width="1.0" />
<line x1="307.5" y1="104.3" x2="309.5" y2="104.3" stroke="#262626" stroke-width="1.0" />
<line x1="413" y1="104.3" x2="411" y2="104.3" stroke="#262626" stroke-width="1.0" />
<line x1="307.5" y1="131.1" x2="309.5" y2="131.1" stroke="#262626" stroke-width="1.0" />
<line x1="413" y1="131.1" x2="411" y2="131.1" stroke="#262626" stroke-width="1.0" />
<line x1="307.5" y1="144.5" x2="309.5" y2="144.5" stroke="#262626" stroke-width="1.0" />
<line x1="413" y1="144.5" x2="411" y2="144.5" stroke="#262626" stroke-width="1.0" />
<line x1="307.5" y1="157.9" x2="309.5" y2="157.9" stroke="#262626" stroke-width="1.0" />
<line x1="413" y1="157.9" x2="411" y2="157.9" stroke="#262626" stroke-width="1.0" />
<line x1="307.5" y1="64.1" x2="413" y2="64.1" stroke="#262626" stroke-width="1.1" />
<line x1="307.5" y1="64.1" x2="307.5" y2="62.1" stroke="#262626" stroke-width="1.0" />
<line x1="307.5" y1="64.1" x2="307.5" y2="66.1" stroke="#262626" stroke-width="1.0" />
<line x1="342.6" y1="64.1" x2="342.6" y2="62.1" stroke="#262626" stroke-width="1.0" />
<line x1="342.6" y1="64.1" x2="342.6" y2="66.1" stroke="#262626" stroke-width="1.0" />
<line x1="377.8" y1="64.1" x2="377.8" y2="62.1" stroke="#262626" stroke-width="1.0" />
<line x1="377.8" y1="64.1" x2="377.8" y2="66.1" stroke="#262626" stroke-width="1.0" />
<line x1="413" y1="64.1" x2="413" y2="62.1" stroke="#262626" stroke-width="1.0" />
<line x1="413" y1="64.1" x2="413" y2="66.1" stroke="#262626" stroke-width="1.0" />
<line x1="307.5" y1="117.7" x2="413" y2="117.7" stroke="#262626" stroke-width="1.1" />
<line x1="307.5" y1="117.7" x2="307.5" y2="115.7" stroke="#262626" stroke-width="1.0" />
<line x1="307.5" y1="117.7" x2="307.5" y2="119.7" stroke="#262626" stroke-width="1.0" />
<line x1="342.6" y1="117.7" x2="342.6" y2="115.7" stroke="#262626" stroke-width="1.0" />
<line x1="342.6" y1="117.7" x2="342.6" y2="119.7" stroke="#262626" stroke-width="1.0" />
<line x1="377.8" y1="117.7" x2="377.8" y2="115.7" stroke="#262626" stroke-width="1.0" />
<line x1="377.8" y1="117.7" x2="377.8" y2="119.7" stroke="#262626" stroke-width="1.0" />
<line x1="413" y1="117.7" x2="413" y2="115.7" stroke="#262626" stroke-width="1.0" />
<line x1="413" y1="117.7" x2="413" y2="119.7" stroke="#262626" stroke-width="1.0" />
<line x1="307.5" y1="10.5" x2="413" y2="10.5" stroke="#262626" stroke-width="1.1" />
<line x1="307.5" y1="171.3" x2="413" y2="171.3" stroke="#262626" stroke-width="1.1" />
<line x1="307.5" y1="10.5" x2="307.5" y2="171.3" stroke="#262626" stroke-width="1.1" />
<line x1="413" y1="10.5" x2="413" y2="171.3" stroke="#262626" stroke-width="1.1" />
<line x1="307.5" y1="10.5" x2="307.5" y2="12.5" stroke="#262626" stroke-width="1.0" />
<line x1="307.5" y1="171.3" x2="307.5" y2="169.3" stroke="#262626" stroke-width="1.0" />
<line x1="342.6" y1="10.5" x2="342.6" y2="12.5" stroke="#262626" stroke-width="1.0" />
<line x1="342.6" y1="171.3" x2="342.6" y2="169.3" stroke="#262626" stroke-width="1.0" />
<line x1="377.8" y1="10.5" x2="377.8" y2="12.5" stroke="#262626" stroke-width="1.0" />
<line x1="377.8" y1="171.3" x2="377.8" y2="169.3" stroke="#262626" stroke-width="1.0" />
<line x1="413" y1="10.5" x2="413" y2="12.5" stroke="#262626" stroke-width="1.0" />
<line x1="413" y1="171.3" x2="413" y2="169.3" stroke="#262626" stroke-width="1.0" />
<text transform="translate(307.5 181.8) scale(1 1.1)" font-size="8" text-anchor="middle" fill="#262626" font-weight="normal" stroke="#262626" stroke-width="0.2" >1540</text>
<text transform="translate(342.6 181.8) scale(1 1.1)" font-size="8" text-anchor="middle" fill="#262626" font-weight="normal" stroke="#262626" stroke-width="0.2" >1560</text>
<text transform="translate(377.8 181.8) scale(1 1.1)" font-size="8" text-anchor="middle" fill="#262626" font-weight="normal" stroke="#262626" stroke-width="0.2" >1580</text>
<text transform="translate(413 181.8) scale(1 1.1)" font-size="8" text-anchor="middle" fill="#262626" font-weight="normal" stroke="#262626" stroke-width="0.2" >1600</text>
<text transform="translate(360.25 193.4) scale(1 1.1)" font-size="9.2" text-anchor="middle" fill="#262626" font-weight="normal" stroke="#262626" stroke-width="0.2" >Wavelength (nm)</text>
<text transform="translate(301.4 92.1) rotate(-90) scale(1 1.1)" font-size="9.2" text-anchor="middle" fill="#262626" font-weight="normal" stroke="#262626" stroke-width="0.2" >Power (20 dB/div)</text>
<text transform="translate(296 7.2) scale(1 1.1)" font-size="10" text-anchor="middle" fill="#000" font-weight="bold" >b</text>
<text transform="translate(313.4 21.9) scale(1 1.1)" font-size="8.2" text-anchor="start" fill="#262626" font-weight="normal" stroke="#262626" stroke-width="0.08" >I</text>
<text transform="translate(313.4 75.5) scale(1 1.1)" font-size="8.2" text-anchor="start" fill="#262626" font-weight="normal" stroke="#262626" stroke-width="0.08" >II</text>
<text transform="translate(313.4 129.1) scale(1 1.1)" font-size="8.2" text-anchor="start" fill="#262626" font-weight="normal" stroke="#262626" stroke-width="0.08" >III</text>
<polygon points="440.60,63.50 440.60,55.31 441.00,54.34 441.40,56.88 441.80,56.35 442.20,56.37 442.60,55.33 443.00,56.41 443.40,55.87 443.80,56.36 444.20,54.29 444.60,55.03 445.00,55.39 445.40,58.36 445.80,56.16 446.20,56.75 446.60,56.57 447.00,55.18 447.40,56.25 447.80,56.81 448.20,53.83 448.60,57.43 449.00,56.41 449.40,56.40 449.80,55.71 450.20,55.89 450.60,57.99 451.00,54.63 451.40,54.78 451.80,56.11 452.20,53.90 452.60,53.82 453.00,55.96 453.40,54.45 453.80,55.56 454.20,55.41 454.60,55.54 455.00,55.94 455.40,54.82 455.80,55.58 456.20,56.56 456.60,57.21 457.00,57.54 457.40,57.33 457.80,52.89 458.20,54.48 458.60,55.05 459.00,56.61 459.40,54.92 459.80,57.72 460.20,56.79 460.60,55.42 461.00,56.80 461.40,55.86 461.80,55.43 462.20,56.98 462.60,55.75 463.00,55.12 463.40,56.14 463.80,55.54 464.20,55.38 464.60,56.59 465.00,54.85 465.40,58.18 465.80,57.61 466.20,55.90 466.60,56.49 467.00,57.62 467.00,63.50" fill="#3b7d3b" stroke="#3b7d3b" stroke-width="0.6" stroke-linejoin="round"/>
<polygon points="521.00,63.50 521.00,53.22 521.40,53.39 521.80,55.51 522.20,55.89 522.60,55.90 523.00,57.29 523.40,55.85 523.80,56.08 524.20,55.80 524.60,55.96 525.00,57.29 525.40,54.96 525.80,56.23 526.20,56.29 526.60,57.67 527.00,57.04 527.40,57.76 527.80,57.04 528.20,56.72 528.60,55.52 529.00,55.78 529.40,57.39 529.80,58.95 530.20,55.56 530.60,59.05 531.00,56.98 531.40,55.87 531.80,56.30 532.20,55.22 532.60,58.14 533.00,58.33 533.40,57.62 533.80,58.94 534.20,56.65 534.60,57.21 535.00,58.49 535.40,56.43 535.80,58.87 536.20,59.08 536.60,54.72 537.00,54.89 537.40,57.39 537.80,58.46 538.20,55.92 538.60,57.69 539.00,56.85 539.40,57.76 539.80,57.66 540.20,57.57 540.60,57.32 541.00,57.64 541.40,59.93 541.80,58.23 542.20,57.27 542.60,57.43 543.00,58.92 543.40,55.82 543.80,58.06 544.20,56.51 544.60,55.84 545.00,58.91 545.00,63.50" fill="#3b7d3b" stroke="#3b7d3b" stroke-width="0.6" stroke-linejoin="round"/>
<polyline points="466.5,55.8 466.9,54.0 467.1,53.8 467.5,52.4 467.9,52.1 468.3,52.3 468.7,54.2 469.7,62.3 469.9,63.2 470.1,63.3 470.5,62.5 470.7,61.8 471.3,57.6 472.3,49.2 472.9,45.5 473.1,45.7 473.3,44.7 473.7,45.3 474.1,46.7 475.1,52.1 475.3,52.2 475.5,53.0 475.9,52.8 476.3,51.1 476.5,49.8 477.5,41.4 477.9,38.7 478.3,37.2 478.5,36.9 478.7,37.0 479.3,38.8 480.3,45.4 480.7,46.9 480.9,47.2 481.1,47.0 481.5,46.0 481.7,44.8 482.1,42.0 483.1,33.3 483.3,32.0 483.5,31.7 483.7,30.5 484.1,31.5 484.5,33.5 485.3,40.4 485.9,44.4 486.3,44.9 486.7,43.4 487.1,40.3 488.5,26.7 488.9,24.5 489.1,24.1 489.3,24.7 489.7,27.0 490.5,35.8 490.7,39.0 491.3,44.6 491.7,46.7 492.1,45.4 492.3,44.2 492.7,40.3 493.9,24.9 494.3,22.0 494.5,21.7 494.9,23.3 495.1,25.1 496.7,46.1 496.9,47.2 497.1,47.5 497.3,46.9 497.7,44.6 499.1,28.3 499.3,26.9 499.7,25.6 499.9,26.0 500.3,28.6 500.7,32.2 501.1,37.6 501.7,43.8 502.1,45.5 502.3,45.8 502.7,44.7 503.3,41.5 503.7,38.2 503.9,37.4 504.3,34.7 504.5,34.2 504.7,33.0 504.9,33.3 505.1,32.8 505.7,35.7 506.5,43.5 506.9,46.5 507.1,47.6 507.3,48.0 507.9,47.5 508.1,46.8 508.5,44.7 508.7,44.3 508.9,42.7 509.1,42.1 509.5,39.9 509.9,38.9 510.3,38.9 510.5,38.7 511.1,41.7 511.5,45.3 512.1,49.3 512.3,50.4 512.7,51.5 512.9,51.6 513.3,50.5 513.5,50.4 513.7,49.7 514.3,48.8 514.7,47.2 514.9,47.1 515.1,46.2 515.3,46.2 515.5,46.5 515.9,46.3 516.1,46.9 516.9,51.1 517.3,52.4 517.5,53.6 517.7,53.6 518.1,53.5 518.3,53.8 518.5,53.5 518.7,53.7 518.9,53.5 519.1,53.7 519.7,52.8 519.9,52.9 520.3,53.6 520.5,52.8 520.7,52.8 520.9,53.1 521.1,53.1 521.3,53.0 521.5,53.2 521.7,53.0 522.3,54.1 522.5,53.9 522.7,54.1 523.1,54.7 523.3,54.8" fill="none" stroke="#3b7d3b" stroke-width="1.1" stroke-linejoin="round" />
<polygon points="440.60,117.20 440.60,106.35 441.00,107.39 441.40,107.99 441.80,106.54 442.20,106.03 442.60,107.73 443.00,107.65 443.40,108.24 443.80,107.51 444.20,106.90 444.60,107.14 445.00,106.66 445.40,106.78 445.80,107.17 446.20,107.29 446.60,108.78 447.00,106.73 447.40,107.84 447.80,107.40 447.80,117.20" fill="#3b7d3b" stroke="#3b7d3b" stroke-width="0.6" stroke-linejoin="round"/>
<polygon points="538.50,117.20 538.50,108.96 538.90,108.01 539.30,107.58 539.70,108.79 540.10,108.26 540.50,107.92 540.90,109.87 541.30,109.27 541.70,110.33 542.10,109.96 542.50,109.76 542.90,109.33 543.30,108.38 543.70,110.13 544.10,109.70 544.50,110.38 544.90,109.92 544.90,117.20" fill="#3b7d3b" stroke="#3b7d3b" stroke-width="0.6" stroke-linejoin="round"/>
<polyline points="446.0,108.4 446.2,108.2 446.5,108.4 446.8,108.4 447.0,108.0 447.5,108.0 447.8,107.6 448.0,107.5 448.2,107.3 448.5,107.5 449.2,106.7 449.8,106.9 450.0,106.5 450.2,106.4 450.5,106.4 450.8,106.0 451.2,105.9 451.5,105.6 451.8,105.4 452.0,105.4 453.0,104.7 453.2,104.3 454.2,103.9 454.5,103.3 454.8,103.3 455.2,102.5 456.0,101.7 456.2,100.9 456.5,100.7 457.0,99.7 457.2,99.5 457.8,98.2 458.2,97.5 458.5,96.8 458.8,96.7 459.5,95.3 459.8,95.1 460.2,93.9 460.5,93.9 460.8,93.2 461.2,92.4 461.5,92.5 461.8,92.1 463.0,90.9 463.2,90.8 463.5,90.6 463.8,90.7 464.0,90.1 464.5,89.8 464.8,90.0 465.0,89.4 465.2,89.6 465.5,89.5 465.8,89.2 466.0,89.1 466.2,88.6 466.5,88.7 466.8,88.4 467.0,88.5 467.5,88.1 467.8,88.3 468.8,87.4 469.0,87.5 469.2,87.7 469.5,87.1 469.8,87.1 470.0,86.9 470.2,86.9 470.8,86.5 471.0,86.1 471.5,86.3 471.8,86.0 472.0,86.0 472.5,85.4 472.8,85.6 473.2,85.2 473.8,85.0 474.0,84.8 474.2,84.8 474.5,84.6 474.8,84.2 475.0,84.4 475.5,84.0 475.8,84.1 476.0,83.8 476.5,83.8 477.0,83.2 477.5,83.3 478.0,82.8 478.5,82.8 479.0,82.6 479.2,82.2 480.0,82.0 480.2,81.6 480.5,81.7 480.8,81.4 481.0,81.7 481.2,81.6 481.5,81.5 482.0,81.0 482.2,81.1 482.5,80.8 482.8,80.8 483.0,80.5 483.2,80.4 483.8,80.6 484.0,80.2 484.2,80.4 484.5,80.4 484.8,79.7 485.0,79.8 485.2,79.5 485.5,79.5 485.8,79.4 486.2,79.4 486.5,79.3 487.0,79.0 488.2,78.5 488.5,78.1 488.8,78.3 489.0,78.4 489.5,77.7 489.8,78.1 490.2,77.3 490.5,77.7 490.8,77.8 491.0,77.8 491.8,78.2 492.0,78.2 492.8,79.5 493.2,79.3 493.5,78.9 494.0,76.5 494.2,75.8 494.5,75.6 494.8,75.9 495.0,76.7 495.2,78.3 495.8,80.0 496.0,80.2 496.2,80.3 496.5,80.3 496.8,79.9 497.0,79.9 497.2,79.7 497.5,79.2 497.8,79.1 498.0,78.6 498.2,78.6 498.8,78.0 499.0,78.1 499.5,78.0 500.0,78.4 500.2,78.2 500.5,78.4 500.8,78.2 501.2,78.9 502.2,79.1 502.5,79.3 502.8,79.3 503.0,79.5 503.2,79.9 503.5,79.8 503.8,80.4 504.0,80.0 504.2,80.4 504.5,80.4 504.8,80.7 505.0,80.6 505.2,80.9 505.8,81.1 506.2,81.6 506.5,81.4 506.8,81.8 507.2,81.9 507.5,82.3 507.8,81.8 508.0,82.1 508.2,82.1 508.5,82.4 508.8,82.5 509.0,83.3 509.2,82.9 509.5,83.2 509.8,83.2 510.0,83.1 510.5,83.7 510.8,83.6 511.2,83.8 511.5,83.7 512.2,84.4 512.5,84.3 513.5,85.0 514.0,85.2 514.2,85.1 514.8,85.6 515.0,85.5 515.2,85.9 515.8,86.0 516.0,86.4 516.2,86.4 516.5,86.5 517.0,86.9 517.2,87.4 517.5,86.9 517.8,87.3 518.0,87.4 518.2,87.8 518.8,87.6 519.0,88.3 519.2,88.1 519.5,88.4 519.8,88.4 520.2,88.8 520.5,89.2 520.8,89.3 521.0,89.3 521.2,89.6 521.5,89.6 522.2,90.3 522.5,90.3 523.0,90.8 523.5,91.0 523.8,91.5 524.0,91.4 524.2,91.8 524.5,91.9 524.8,92.2 525.0,91.9 525.2,92.7 525.5,92.6 525.8,92.7 526.2,93.6 526.8,93.5 527.2,94.3 527.5,94.2 528.0,94.8 528.2,95.4 528.5,95.3 528.8,95.8 529.0,95.8 529.2,96.0 529.5,96.5 529.8,96.7 530.0,96.7 530.2,97.3 530.5,97.6 530.8,97.7 531.2,98.4 531.5,98.6 532.2,99.5 532.5,99.6 532.8,100.1 533.0,100.2 533.2,100.7 533.8,101.2 534.2,102.2 534.5,102.4 534.8,102.3 535.0,103.0 535.8,103.8 536.2,104.8 537.0,105.6 537.8,107.0 538.0,106.9 538.2,107.4 538.8,107.9 539.0,108.4 539.2,108.7 539.5,108.7 539.8,109.1 540.0,109.7 540.2,109.8" fill="none" stroke="#3b7d3b" stroke-width="1.1" stroke-linejoin="round" />
<polyline points="448.4,162.5 448.5,162.4 448.8,163.0 449.1,162.8 449.2,162.7 449.4,161.9 449.5,162.0 449.7,160.8 450.2,159.7 450.3,159.0 450.4,158.7 450.6,158.9 450.7,158.5 450.9,158.1 451.0,158.2 451.2,157.6 451.3,158.0 451.4,157.6 451.6,158.0 451.8,157.6 451.9,158.0 452.0,158.0 452.2,158.4 452.4,158.3 452.5,158.5 452.7,159.3 453.0,159.1 453.1,159.9 453.4,158.0 453.7,157.3 453.8,156.6 453.9,156.7 454.3,154.9 454.9,153.5 455.1,153.2 455.2,153.3 455.5,152.7 455.7,153.2 455.8,152.8 456.3,153.5 456.4,153.4 456.7,154.1 457.0,154.6 457.4,153.4 457.8,151.2 458.1,149.7 458.2,149.5 458.7,147.6 458.8,147.7 459.0,147.0 459.1,146.9 459.2,146.4 459.7,146.4 459.9,147.0 460.0,146.8 460.3,147.2 460.4,148.0 460.6,148.1 460.8,148.4 460.9,148.4 461.1,149.1 461.6,147.4 461.8,145.8 462.1,145.4 462.4,143.5 462.6,143.6 462.8,142.5 462.9,142.5 463.0,142.8 463.2,142.1 463.3,141.9 463.4,142.3 463.5,142.3 463.6,142.6 463.8,142.2 463.9,142.4 464.4,144.1 464.5,144.0 464.8,145.7 465.1,146.2 465.2,146.4 465.3,146.4 465.6,145.7 465.9,143.3 466.4,141.4 466.8,140.3 466.9,140.3 467.0,139.9 467.1,139.8 467.2,140.0 467.4,139.7 467.5,139.8 467.7,140.0 467.8,140.3 468.0,140.3 468.2,141.5 468.6,142.2 468.9,144.1 469.3,145.3 470.4,139.7 470.5,139.6 470.8,138.2 471.3,137.4 471.4,137.8 471.7,137.8 472.0,139.1 472.2,138.9 472.4,140.4 472.5,140.5 472.6,141.3 472.8,141.0 472.9,142.3 473.1,142.6 473.2,143.5 473.4,143.6 474.3,138.6 474.7,137.4 474.8,137.4 474.9,137.1 475.0,136.2 475.3,135.8 475.4,135.8 475.5,136.2 475.6,136.0 475.8,136.2 476.2,137.6 477.3,142.3 477.4,141.7 477.6,141.6 477.7,140.6 477.8,140.4 478.2,138.1 478.6,136.3 478.8,135.5 479.0,135.1 479.1,134.5 479.2,134.8 479.5,134.2 479.8,135.2 480.0,135.2 480.1,135.9 480.7,137.9 480.9,139.3 481.3,140.4 481.4,141.3 482.2,137.2 482.4,136.1 482.8,134.8 483.0,133.8 483.1,133.9 483.4,133.8 483.6,133.3 483.7,133.5 483.8,133.5 483.9,134.1 484.0,134.0 484.2,134.8 484.4,135.6 484.5,135.6 484.8,137.3 484.9,137.4 485.2,139.6 485.5,140.1 486.2,136.6 486.3,135.5 486.4,135.5 486.6,134.6 486.8,133.7 487.0,133.2 487.2,132.5 487.4,132.3 487.5,132.3 487.6,132.0 487.8,132.4 488.2,133.2 488.6,135.3 488.7,135.3 489.2,137.9 489.4,138.8 489.6,138.9 489.8,138.1 490.0,136.1 490.2,135.9 490.5,133.5 490.6,133.0 490.8,132.9 491.1,131.1 491.2,130.8 491.4,130.7 491.5,129.9 491.6,129.6 491.7,129.7 491.8,129.0 492.1,129.4 492.2,129.2 492.3,129.3 492.6,129.9 493.4,136.1 493.6,136.8 494.1,135.5 494.2,134.7 494.6,133.5 494.7,132.8 494.8,132.9 495.0,132.2 495.4,131.3 495.6,131.8 495.7,131.6 495.8,131.7 495.9,132.2 496.0,132.1 496.2,132.7 496.4,133.3 496.9,135.7 497.1,137.4 497.6,139.4 498.1,137.7 498.2,136.6 498.4,136.0 498.7,134.8 498.8,134.7 498.9,133.9 499.2,133.9 499.3,133.0 499.4,133.3 499.8,133.2 499.9,133.5 500.0,133.5 500.2,134.6 500.4,134.8 501.1,138.3 501.3,139.0 501.6,141.0 502.0,139.7 502.8,136.3 502.9,136.2 503.2,135.0 503.4,135.1 503.5,134.6 503.6,134.8 503.7,134.2 504.0,135.2 504.1,135.2 504.2,135.6 504.3,135.6 504.4,136.6 504.7,137.3 505.0,139.3 505.3,139.9 505.6,142.0 505.9,141.6 506.2,139.6 506.7,137.9 506.8,137.8 507.0,137.0 507.2,136.3 507.7,135.5 507.8,136.2 507.9,136.1 508.0,136.5 508.2,136.5 508.3,136.8 508.5,137.7 508.6,137.8 508.8,138.8 508.9,138.9 509.1,140.7 509.2,140.8 509.4,141.7 509.5,141.9 509.7,143.0 509.8,142.9 510.2,141.4 510.3,140.5 510.6,139.9 510.9,138.2 511.4,137.3 511.5,137.5 511.8,136.7 511.9,137.2 512.1,137.5 512.2,137.4 512.4,138.2 512.7,138.9 513.1,141.0 513.3,141.5 513.7,143.4 513.8,143.4 513.9,143.3 514.2,142.4 515.0,138.9 515.2,139.0 515.4,138.6 515.8,138.0 516.0,138.5 516.2,138.7 516.6,139.5 517.0,141.1 517.3,142.3 517.5,142.8 517.6,143.7 517.8,143.7 517.9,144.7 518.4,142.6 518.7,141.4 519.1,140.7 519.3,139.7 519.4,139.9 519.6,139.7 519.8,140.1 519.9,140.1 520.0,140.0 520.3,140.6 520.4,140.5 521.0,142.3 521.6,145.0 521.7,145.4 521.8,145.4 522.0,145.9 522.1,145.3 522.2,145.3 522.7,143.6 523.2,142.6 523.3,142.2 523.4,142.3 523.5,141.9 523.6,142.2 523.8,142.1 523.9,142.2 524.0,142.1 524.1,142.9 524.2,142.4 524.5,142.8 524.6,143.6 524.7,143.6 524.8,144.2 525.0,144.3 525.7,147.2 525.8,147.3 526.0,148.0 526.2,147.2 526.3,147.5 526.5,146.6 526.8,146.4 526.9,145.9 527.0,145.8 527.1,145.8 527.5,145.2 527.6,145.1 527.7,145.2 527.8,145.5 528.1,145.7 528.2,146.1 528.3,146.0 528.4,146.3 528.7,147.4 528.8,147.0 529.3,149.6 529.6,150.3 529.8,151.0 530.0,151.7 530.1,151.7 530.2,151.4 530.5,151.5 530.8,150.4 531.0,150.8 531.3,150.3 531.4,150.5 531.6,150.2 531.7,150.6 531.8,150.3 532.0,150.8 532.2,150.7 532.4,151.6 532.5,151.5 532.6,152.2 532.8,152.3 532.9,152.9 533.4,154.1 533.7,156.0 533.8,156.3 534.0,156.3 534.1,156.9 534.3,156.6 534.6,156.7 534.7,156.4 534.9,156.4 535.0,156.2 535.2,156.4 535.5,156.3 535.8,156.9 536.0,156.8 536.1,157.4 536.2,157.5 536.5,158.2 536.6,158.1 537.0,159.2" fill="none" stroke="#3b7d3b" stroke-width="1.1" stroke-linejoin="round" />
<line x1="440" y1="23.9" x2="442" y2="23.9" stroke="#262626" stroke-width="1.0" />
<line x1="545.5" y1="23.9" x2="543.5" y2="23.9" stroke="#262626" stroke-width="1.0" />
<line x1="440" y1="37.3" x2="442" y2="37.3" stroke="#262626" stroke-width="1.0" />
<line x1="545.5" y1="37.3" x2="543.5" y2="37.3" stroke="#262626" stroke-width="1.0" />
<line x1="440" y1="50.7" x2="442" y2="50.7" stroke="#262626" stroke-width="1.0" />
<line x1="545.5" y1="50.7" x2="543.5" y2="50.7" stroke="#262626" stroke-width="1.0" />
<line x1="440" y1="77.5" x2="442" y2="77.5" stroke="#262626" stroke-width="1.0" />
<line x1="545.5" y1="77.5" x2="543.5" y2="77.5" stroke="#262626" stroke-width="1.0" />
<line x1="440" y1="90.9" x2="442" y2="90.9" stroke="#262626" stroke-width="1.0" />
<line x1="545.5" y1="90.9" x2="543.5" y2="90.9" stroke="#262626" stroke-width="1.0" />
<line x1="440" y1="104.3" x2="442" y2="104.3" stroke="#262626" stroke-width="1.0" />
<line x1="545.5" y1="104.3" x2="543.5" y2="104.3" stroke="#262626" stroke-width="1.0" />
<line x1="440" y1="131.1" x2="442" y2="131.1" stroke="#262626" stroke-width="1.0" />
<line x1="545.5" y1="131.1" x2="543.5" y2="131.1" stroke="#262626" stroke-width="1.0" />
<line x1="440" y1="144.5" x2="442" y2="144.5" stroke="#262626" stroke-width="1.0" />
<line x1="545.5" y1="144.5" x2="543.5" y2="144.5" stroke="#262626" stroke-width="1.0" />
<line x1="440" y1="157.9" x2="442" y2="157.9" stroke="#262626" stroke-width="1.0" />
<line x1="545.5" y1="157.9" x2="543.5" y2="157.9" stroke="#262626" stroke-width="1.0" />
<line x1="440" y1="64.1" x2="545.5" y2="64.1" stroke="#262626" stroke-width="1.1" />
<line x1="440" y1="64.1" x2="440" y2="62.1" stroke="#262626" stroke-width="1.0" />
<line x1="440" y1="64.1" x2="440" y2="66.1" stroke="#262626" stroke-width="1.0" />
<line x1="475.2" y1="64.1" x2="475.2" y2="62.1" stroke="#262626" stroke-width="1.0" />
<line x1="475.2" y1="64.1" x2="475.2" y2="66.1" stroke="#262626" stroke-width="1.0" />
<line x1="510.3" y1="64.1" x2="510.3" y2="62.1" stroke="#262626" stroke-width="1.0" />
<line x1="510.3" y1="64.1" x2="510.3" y2="66.1" stroke="#262626" stroke-width="1.0" />
<line x1="545.5" y1="64.1" x2="545.5" y2="62.1" stroke="#262626" stroke-width="1.0" />
<line x1="545.5" y1="64.1" x2="545.5" y2="66.1" stroke="#262626" stroke-width="1.0" />
<line x1="440" y1="117.7" x2="545.5" y2="117.7" stroke="#262626" stroke-width="1.1" />
<line x1="440" y1="117.7" x2="440" y2="115.7" stroke="#262626" stroke-width="1.0" />
<line x1="440" y1="117.7" x2="440" y2="119.7" stroke="#262626" stroke-width="1.0" />
<line x1="475.2" y1="117.7" x2="475.2" y2="115.7" stroke="#262626" stroke-width="1.0" />
<line x1="475.2" y1="117.7" x2="475.2" y2="119.7" stroke="#262626" stroke-width="1.0" />
<line x1="510.3" y1="117.7" x2="510.3" y2="115.7" stroke="#262626" stroke-width="1.0" />
<line x1="510.3" y1="117.7" x2="510.3" y2="119.7" stroke="#262626" stroke-width="1.0" />
<line x1="545.5" y1="117.7" x2="545.5" y2="115.7" stroke="#262626" stroke-width="1.0" />
<line x1="545.5" y1="117.7" x2="545.5" y2="119.7" stroke="#262626" stroke-width="1.0" />
<line x1="440" y1="10.5" x2="545.5" y2="10.5" stroke="#262626" stroke-width="1.1" />
<line x1="440" y1="171.3" x2="545.5" y2="171.3" stroke="#262626" stroke-width="1.1" />
<line x1="440" y1="10.5" x2="440" y2="171.3" stroke="#262626" stroke-width="1.1" />
<line x1="545.5" y1="10.5" x2="545.5" y2="171.3" stroke="#262626" stroke-width="1.1" />
<line x1="440" y1="10.5" x2="440" y2="12.5" stroke="#262626" stroke-width="1.0" />
<line x1="440" y1="171.3" x2="440" y2="169.3" stroke="#262626" stroke-width="1.0" />
<line x1="475.2" y1="10.5" x2="475.2" y2="12.5" stroke="#262626" stroke-width="1.0" />
<line x1="475.2" y1="171.3" x2="475.2" y2="169.3" stroke="#262626" stroke-width="1.0" />
<line x1="510.3" y1="10.5" x2="510.3" y2="12.5" stroke="#262626" stroke-width="1.0" />
<line x1="510.3" y1="171.3" x2="510.3" y2="169.3" stroke="#262626" stroke-width="1.0" />
<line x1="545.5" y1="10.5" x2="545.5" y2="12.5" stroke="#262626" stroke-width="1.0" />
<line x1="545.5" y1="171.3" x2="545.5" y2="169.3" stroke="#262626" stroke-width="1.0" />
<text transform="translate(440 181.8) scale(1 1.1)" font-size="8" text-anchor="middle" fill="#262626" font-weight="normal" stroke="#262626" stroke-width="0.2" >770</text>
<text transform="translate(475.2 181.8) scale(1 1.1)" font-size="8" text-anchor="middle" fill="#262626" font-weight="normal" stroke="#262626" stroke-width="0.2" >780</text>
<text transform="translate(510.3 181.8) scale(1 1.1)" font-size="8" text-anchor="middle" fill="#262626" font-weight="normal" stroke="#262626" stroke-width="0.2" >790</text>
<text transform="translate(545.5 181.8) scale(1 1.1)" font-size="8" text-anchor="middle" fill="#262626" font-weight="normal" stroke="#262626" stroke-width="0.2" >800</text>
<text transform="translate(492.75 193.4) scale(1 1.1)" font-size="9.2" text-anchor="middle" fill="#262626" font-weight="normal" stroke="#262626" stroke-width="0.2" >Wavelength (nm)</text>
<text transform="translate(434.8 92.1) rotate(-90) scale(1 1.1)" font-size="9.2" text-anchor="middle" fill="#262626" font-weight="normal" stroke="#262626" stroke-width="0.2" >Power (20 dB/div)</text>
<text transform="translate(426.4 7.2) scale(1 1.1)" font-size="10" text-anchor="middle" fill="#000" font-weight="bold" >c</text>
<text transform="translate(445.9 21.9) scale(1 1.1)" font-size="8.2" text-anchor="start" fill="#262626" font-weight="normal" stroke="#262626" stroke-width="0.08" >I</text>
<text transform="translate(445.9 75.5) scale(1 1.1)" font-size="8.2" text-anchor="start" fill="#262626" font-weight="normal" stroke="#262626" stroke-width="0.08" >II</text>
<text transform="translate(445.9 129.1) scale(1 1.1)" font-size="8.2" text-anchor="start" fill="#262626" font-weight="normal" stroke="#262626" stroke-width="0.08" >III</text>
<polyline points="574.6,61.2 574.8,60.6 575.0,59.2 575.3,60.4 575.5,59.9 575.7,60.7 575.9,60.2 576.1,60.1 576.6,60.3 577.0,60.0 577.2,60.1 577.5,60.4 577.7,59.6 577.9,60.1 578.3,59.9 578.6,60.5 578.8,59.5 579.0,59.9 579.2,59.7 579.4,60.4 579.7,59.9 580.1,60.3 580.3,59.3 580.5,60.4 580.8,59.7 581.0,60.0 581.2,60.1 581.4,60.5 581.6,60.5 581.9,61.0 582.1,60.2 582.3,59.9 582.5,59.9 583.0,60.9 583.4,59.8 583.6,60.3 584.1,60.1 584.3,59.7 584.5,58.8 584.9,60.7 585.2,60.2 585.4,59.0 585.6,60.1 585.8,59.2 586.0,61.1 586.5,59.5 586.7,60.5 586.9,59.7 587.1,60.4 587.4,60.1 587.6,59.5 587.8,60.4 588.0,59.4 588.2,60.8 588.9,59.2 589.1,60.9 589.3,60.8 589.6,59.4 589.8,60.9 590.0,60.2 590.2,60.0 590.4,60.0 590.7,59.9 590.9,60.8 591.3,59.1 591.5,61.2 592.0,59.5 592.2,59.9 592.4,59.6 592.6,60.1 592.9,60.3 593.1,60.2 593.3,59.8 593.5,59.7 593.7,60.5 594.0,60.0 594.2,61.2 594.4,59.6 594.6,60.5 595.1,59.7 595.3,60.8 595.7,59.6 595.9,59.9 596.2,60.6 596.4,59.4 596.6,60.7 597.0,59.9 597.3,60.7 597.5,60.9 597.7,60.3 597.9,60.1 598.1,61.0 598.4,60.8 598.6,59.5 598.8,59.9 599.0,59.9 599.2,59.8 599.5,59.2 599.7,60.5 599.9,60.0 600.1,60.0 600.3,60.7 600.6,59.7 601.0,60.1 601.2,59.7 601.4,59.9 601.7,60.3 601.9,59.9 602.1,60.6 602.3,59.5 602.5,60.0 602.8,59.1 603.0,59.7 603.2,59.3 603.4,60.3 603.9,59.5 604.1,59.9 604.5,58.7 605.0,56.7 605.2,57.0 605.6,55.5 605.8,55.1 606.1,53.8 606.3,54.9 606.5,53.1 606.7,52.9 606.9,53.3 607.2,52.0 607.4,53.3 607.6,53.4 607.8,53.0 608.0,52.9 608.3,53.7 608.5,53.5 608.7,55.7 608.9,55.6 609.1,55.7 609.4,56.2 609.8,58.4 610.0,57.4 610.2,58.1 610.5,57.7 610.7,59.2 610.9,59.1 611.1,60.4 611.3,59.2 611.8,59.0 612.0,59.9 612.2,58.6 612.4,59.8 613.1,58.9 613.3,59.9 613.5,60.3 613.8,59.1 614.2,60.2 614.4,58.9 614.6,58.9 615.3,56.2 615.5,56.0 615.7,57.0 616.2,58.1 616.4,58.3 616.6,59.1 616.8,58.4 617.1,58.2 617.3,58.9 617.5,58.8 617.7,58.0 617.9,58.0 618.2,58.5 618.4,58.3 618.6,57.6 618.8,58.0 619.0,57.7 619.3,58.2 619.5,57.0 619.7,57.8 619.9,57.4 620.1,56.4 620.4,57.3 620.6,57.0 620.8,55.6 621.0,57.1 621.2,55.1 621.5,54.9 621.7,54.9 621.9,55.1 622.1,54.9 622.3,52.4 622.6,54.7 622.8,53.4 623.0,53.4 623.2,53.8 623.7,48.4 623.9,49.5 624.1,49.1 624.5,47.1 624.8,44.6 625.0,45.7 625.2,44.0 625.4,42.0 626.1,16.1 626.5,35.6 626.7,42.6 627.0,45.5 627.2,45.1 627.4,47.0 627.8,49.3 628.1,47.0 628.5,50.8 628.7,50.4 628.9,49.6 629.2,52.0 629.4,51.1 629.8,53.9 630.0,53.9 630.3,54.5 630.5,56.4 630.7,56.0 630.9,55.0 631.1,55.9 631.4,55.6 631.6,55.6 632.0,58.2 632.2,57.9 632.5,57.3 632.7,57.2 633.1,58.3 633.3,57.1 633.6,57.0 633.8,59.1 634.0,58.3 634.2,59.1 634.4,58.5 634.7,59.2 634.9,58.2 635.3,59.5 635.5,59.3 635.8,58.5 636.0,59.3 636.2,58.5 636.4,58.2 636.6,59.3 636.9,59.8 637.1,59.6 637.3,58.4 637.5,59.6 637.7,59.6 638.0,59.0 638.2,57.9 638.4,59.8 638.6,59.8 638.8,59.6 639.1,58.4 639.3,58.6 639.5,59.9 639.9,59.6 640.2,59.1 640.4,59.4 640.6,58.8 640.8,58.8 641.0,58.3 641.3,58.7 641.5,58.0 641.7,58.4 641.9,57.9 642.1,56.6 642.4,57.6 642.6,55.4 642.8,55.8 643.0,55.6 643.2,55.2 643.5,52.9 643.7,54.3 644.1,54.1 644.3,52.1 644.6,53.0 644.8,53.5 645.0,53.7 645.2,55.0 645.4,54.4 645.7,56.0 645.9,56.2 646.1,55.6 647.0,58.8 647.2,58.5 647.4,59.4 647.6,58.3 647.9,57.7 648.1,59.3 648.3,59.9 648.7,59.2 649.2,60.9 649.4,59.8 649.6,59.5 649.8,59.5 650.1,61.0 650.3,59.9 650.7,60.6 650.9,60.6 651.2,59.5 651.4,60.5 651.8,60.3 652.0,60.5 652.3,59.7 652.5,60.0 652.7,59.7 652.9,60.4 653.1,59.6 653.4,60.2 653.6,59.4 653.8,59.9 654.0,59.8 654.5,60.1 654.7,59.9 654.9,59.9 655.1,58.9 655.3,60.6 655.6,59.7 655.8,59.9 656.0,59.6 656.2,60.6 656.4,59.5 656.7,60.3 657.1,61.0 657.5,60.4 657.8,59.4 658.0,60.8 658.4,60.5 658.6,60.5 659.1,59.8 659.3,60.7 659.5,60.8 659.7,59.5 660.0,60.6 660.2,60.2 660.4,60.6 660.6,60.2 660.8,60.7 661.3,60.6 661.5,59.3 661.7,60.5 662.2,59.5 662.4,60.5 662.6,59.4 662.8,60.6 663.0,61.0 663.3,59.8 663.5,60.6 663.7,60.4 663.9,60.5 664.1,59.4 664.4,60.4 664.6,60.2 664.8,60.5 665.0,60.1 665.2,60.7 665.5,60.3 665.9,60.9 666.1,60.2 666.3,60.7 666.6,60.3 666.8,60.4 667.0,59.8 667.2,60.6 667.4,60.8 667.7,60.1 667.9,60.6 668.1,60.4 668.3,59.5 668.8,60.9 669.2,59.2 669.4,60.3 669.6,59.8 669.9,61.2 670.1,60.1 670.3,60.1 670.5,59.8 670.7,60.3 671.0,59.8 671.2,59.7 671.4,60.1 671.6,59.7 671.8,60.9 672.1,59.5 672.3,60.1 672.7,59.4 672.9,61.1 673.2,59.0 673.4,60.9 673.6,59.4 674.0,61.4 674.3,59.0 674.5,59.4 674.7,60.9 675.1,59.9 675.4,60.1 675.6,59.6 676.0,61.0 676.2,60.0 676.5,60.2 676.9,61.2 677.1,59.8 677.3,60.3 677.6,59.9 677.8,59.8" fill="none" stroke="#c8282d" stroke-width="1.1" stroke-linejoin="round" />
<polyline points="574.6,114.0 574.8,114.1 575.3,113.9 575.7,112.9 575.9,114.3 576.1,114.8 576.4,113.7 576.6,114.5 576.8,114.0 577.0,114.3 577.2,113.8 577.5,114.1 577.7,114.1 577.9,112.9 578.1,114.3 578.3,114.1 578.6,112.9 578.8,114.5 579.0,114.2 579.4,114.4 579.9,113.6 580.1,113.9 580.3,113.9 580.5,115.3 580.8,115.1 581.0,113.9 581.2,113.9 581.4,114.3 581.6,114.5 581.9,113.8 582.1,113.6 582.3,115.2 582.5,114.7 582.7,113.3 583.0,113.2 583.4,114.3 583.6,114.4 584.1,113.3 584.3,114.2 584.5,114.4 584.9,113.9 585.2,114.4 585.6,113.5 585.8,114.2 586.0,113.4 586.3,114.6 586.5,114.3 586.7,113.6 587.1,114.8 587.4,112.9 587.8,115.0 588.0,113.2 588.2,114.0 588.5,113.3 588.7,114.0 588.9,112.8 589.6,114.1 590.0,114.3 590.2,114.6 590.4,114.4 590.7,114.4 590.9,113.5 591.1,113.9 591.3,115.7 591.8,114.4 592.0,114.4 592.2,114.5 592.4,113.8 592.6,115.0 592.9,113.8 593.1,113.9 593.3,115.1 593.5,112.8 593.7,114.1 594.0,113.0 594.2,113.6 594.4,113.9 594.6,113.7 594.8,114.0 595.1,113.5 595.3,113.8 595.5,113.3 595.7,113.7 595.9,113.1 596.2,114.2 596.4,113.2 596.6,114.2 596.8,113.6 597.0,113.6 597.3,114.4 597.5,113.8 597.7,112.7 597.9,113.9 598.1,112.0 598.4,113.7 598.8,112.7 599.0,113.4 599.2,113.2 599.5,114.4 599.7,113.0 599.9,114.2 600.1,113.8 600.3,112.7 600.6,112.5 600.8,113.6 601.0,112.7 601.2,112.8 601.4,112.5 601.7,111.9 601.9,112.3 602.3,111.6 602.8,113.2 603.0,113.1 603.2,112.1 603.6,112.2 603.9,112.6 604.3,111.4 604.5,111.3 605.0,112.7 605.2,110.8 605.4,109.9 605.6,111.4 605.8,110.8 606.1,110.8 606.3,111.3 606.7,109.7 606.9,109.3 607.2,110.3 607.4,109.6 607.6,110.4 607.8,109.5 608.0,110.0 608.3,109.4 608.5,110.0 608.7,110.0 609.1,111.1 609.4,110.3 609.6,110.0 609.8,111.6 610.0,110.8 610.5,111.1 610.7,111.6 611.1,111.3 611.3,111.3 611.6,110.5 612.0,110.9 612.2,111.0 612.4,111.0 612.7,111.1 613.1,110.5 613.3,109.8 613.5,111.0 613.8,110.8 614.0,109.9 614.2,110.5 614.6,110.0 614.9,108.8 615.3,109.1 615.5,110.1 615.7,108.5 616.2,108.4 616.6,107.1 616.8,105.1 617.1,104.5 617.3,107.5 617.7,104.4 617.9,104.8 618.2,103.2 618.4,100.4 618.6,100.5 618.8,99.8 619.3,96.5 619.5,98.0 619.7,97.2 619.9,97.3 620.1,97.9 620.4,97.7 620.6,99.5 620.8,99.8 621.0,100.8 621.2,99.3 621.5,101.9 621.9,101.3 622.1,102.2 622.3,101.5 622.6,101.8 622.8,101.7 623.4,100.5 623.7,98.8 623.9,100.8 624.1,100.5 624.3,101.3 624.5,101.5 624.8,100.4 625.0,100.0 625.2,98.7 625.4,99.1 625.6,94.4 626.1,69.7 626.3,76.8 626.5,95.0 627.0,100.9 627.2,101.2 627.4,98.0 627.6,99.1 627.8,101.2 628.1,98.9 628.3,101.1 628.7,99.7 628.9,100.9 629.2,100.4 629.4,100.7 629.8,99.8 630.3,104.1 630.5,99.7 630.7,100.7 630.9,99.8 631.1,97.8 631.4,97.8 631.6,97.4 631.8,96.4 632.0,97.1 632.2,96.7 632.5,98.0 632.7,96.7 632.9,98.1 633.1,97.8 633.3,100.3 633.6,100.2 633.8,99.8 634.0,102.8 634.4,103.1 634.7,105.6 634.9,104.6 635.3,107.7 635.8,107.1 636.0,110.8 636.2,108.9 636.4,108.9 636.9,110.5 637.1,110.0 637.3,108.7 637.5,109.6 637.7,109.4 638.0,109.5 638.2,109.0 638.4,109.5 638.6,109.1 638.8,109.9 639.1,109.7 639.3,108.9 639.5,108.7 639.9,110.0 640.2,109.9 640.4,109.6 640.6,107.8 640.8,109.3 641.0,109.2 641.3,109.4 641.5,108.9 641.7,109.4 641.9,109.2 642.1,111.1 642.4,110.0 642.6,109.5 643.0,109.5 643.2,109.7 643.5,109.4 643.7,109.6 643.9,110.3 644.1,110.2 644.3,110.0 644.6,110.7 645.0,109.6 645.2,109.3 645.4,109.9 646.1,111.3 646.3,110.5 646.5,110.5 646.8,111.5 647.0,111.8 647.2,111.0 647.6,112.3 647.9,111.8 648.1,111.7 648.3,110.7 648.5,112.6 649.4,111.6 649.6,112.4 649.8,112.5 650.1,113.2 650.3,112.1 650.5,113.6 650.7,112.9 650.9,113.7 651.2,112.6 651.6,113.9 652.0,112.6 652.5,113.8 652.7,112.8 652.9,112.8 653.1,113.8 653.4,113.2 653.6,114.2 653.8,113.2 654.0,112.9 654.2,113.5 654.5,114.8 654.7,113.6 654.9,114.1 655.1,114.3 655.3,113.6 655.6,114.8 655.8,114.3 656.0,114.4 656.2,113.3 656.4,113.2 656.7,112.7 656.9,114.1 657.1,114.1 657.5,115.0 657.8,114.0 658.0,114.0 658.4,115.0 658.6,113.7 658.9,114.5 659.1,114.0 659.3,114.0 659.5,114.6 659.7,113.7 660.0,113.6 660.2,114.5 660.4,114.2 660.6,114.0 660.8,114.1 661.1,114.5 661.3,114.0 661.5,114.6 661.7,114.4 661.9,115.0 662.4,114.7 662.6,114.1 662.8,114.2 663.0,113.9 663.3,115.7 663.5,114.1 663.9,114.9 664.1,113.4 664.6,114.0 664.8,113.6 665.0,113.5 665.2,113.9 665.5,114.9 665.9,114.2 666.1,114.2 666.3,113.3 666.6,114.6 666.8,114.4 667.0,113.6 667.2,114.3 667.9,113.6 668.1,113.8 668.3,113.7 668.5,114.4 669.0,114.4 669.4,114.0 669.6,115.3 669.9,113.2 670.1,114.8 670.3,114.4 670.7,113.9 671.0,114.1 671.2,113.5 671.4,113.4 671.6,114.1 671.8,113.3 672.1,114.6 672.3,114.8 672.5,112.3 672.9,114.3 673.4,114.2 673.8,114.6 674.0,114.7 674.3,115.2 674.5,114.2 674.7,114.7 674.9,113.3 675.1,114.1 675.4,113.5 675.6,115.0 675.8,115.5 676.2,113.5 676.5,114.1 676.9,114.3 677.1,114.8 677.3,114.7 677.6,112.7 677.8,114.9" fill="none" stroke="#c8282d" stroke-width="1.1" stroke-linejoin="round" />
<polyline points="574.6,166.9 574.8,166.0 575.0,166.3 575.3,167.6 575.5,167.3 575.7,166.7 575.9,166.7 576.1,167.0 576.4,166.0 576.6,167.3 576.8,166.8 577.0,168.0 577.2,166.4 577.5,167.5 577.7,166.6 577.9,167.6 578.1,166.5 578.3,167.4 578.6,166.8 578.8,166.5 579.2,167.3 579.4,167.2 579.7,167.9 579.9,167.4 580.1,165.6 580.3,166.8 580.5,165.9 581.0,167.3 581.2,166.3 581.4,166.3 581.6,167.1 581.9,166.8 582.1,167.9 582.3,167.2 582.5,167.3 582.7,168.0 583.0,166.7 583.2,167.0 583.4,166.4 583.6,167.1 583.8,167.6 584.1,167.7 584.3,167.0 584.5,166.6 584.7,166.6 584.9,166.2 585.4,167.7 585.6,165.7 585.8,165.8 586.0,167.8 586.3,166.1 586.5,167.2 586.7,166.3 586.9,167.4 587.1,167.4 587.4,167.1 587.6,167.4 587.8,167.0 588.0,167.3 588.2,168.0 588.5,167.6 588.7,166.6 588.9,166.5 589.1,166.9 589.3,166.9 589.6,167.0 589.8,166.7 590.0,167.3 590.2,167.0 590.4,167.2 590.7,167.0 590.9,167.3 591.1,166.3 591.3,167.8 591.5,167.2 592.0,167.3 592.2,167.6 592.4,167.4 592.9,166.9 593.1,166.1 593.3,167.1 593.5,166.8 593.7,166.8 594.0,168.3 594.2,166.0 594.6,167.6 594.8,167.5 595.1,167.7 595.3,166.3 595.5,166.4 595.7,167.3 595.9,166.8 596.2,167.9 596.4,167.1 596.6,167.1 596.8,167.2 597.0,166.8 597.3,167.0 597.5,166.6 597.7,166.9 597.9,166.7 598.1,167.1 598.4,166.2 598.6,166.1 598.8,167.2 599.0,167.1 599.2,166.4 599.5,166.8 599.7,166.4 599.9,168.1 600.1,166.1 600.3,167.9 600.6,166.5 600.8,167.2 601.0,166.8 601.2,166.7 601.4,167.4 601.7,167.4 602.1,166.4 602.3,168.1 602.5,167.7 602.8,167.0 603.0,166.8 603.2,167.1 603.4,167.0 603.6,167.6 603.9,166.4 604.1,166.9 604.3,166.5 604.5,167.6 604.7,167.9 605.0,166.8 605.4,167.7 605.6,166.7 605.8,166.4 606.1,167.5 606.5,166.8 606.7,167.7 607.2,165.9 607.4,167.0 607.6,166.8 607.8,167.9 608.0,166.8 608.3,166.7 608.5,167.1 608.7,167.0 608.9,166.0 609.1,166.9 609.4,166.6 609.8,168.1 610.0,166.2 610.7,166.4 610.9,166.4 611.3,167.3 611.6,166.0 612.0,165.7 612.2,167.3 612.4,167.4 612.7,165.8 612.9,165.8 613.1,166.7 613.3,167.3 613.5,167.2 613.8,166.7 614.0,167.0 614.2,166.8 614.4,166.3 614.6,167.6 615.1,165.9 615.3,166.2 615.5,165.6 616.0,167.0 616.2,165.7 616.4,167.0 616.6,167.5 617.1,165.7 617.5,166.0 617.7,165.5 617.9,165.5 618.2,166.0 618.4,166.0 618.6,166.3 618.8,165.3 619.0,166.9 619.3,166.4 619.5,166.3 619.7,165.3 619.9,166.6 620.1,165.1 620.4,166.6 620.6,165.7 621.0,165.3 621.2,166.1 621.5,165.2 621.7,165.3 621.9,164.3 622.6,164.3 622.8,164.7 623.0,163.2 623.2,162.4 623.4,162.9 623.7,163.9 623.9,162.4 624.1,163.6 624.3,163.5 624.5,161.8 625.0,160.6 625.2,160.9 625.4,160.6 625.6,154.8 626.1,130.3 626.3,137.6 626.5,152.3 626.7,158.0 627.0,160.4 627.2,160.5 627.4,161.7 627.6,161.9 627.8,162.3 628.1,161.5 628.3,161.9 628.5,162.0 628.7,162.6 628.9,162.6 629.4,164.2 629.6,162.8 629.8,162.8 630.0,165.2 630.3,164.2 630.5,165.1 630.7,164.2 630.9,166.2 631.6,165.4 631.8,164.0 632.0,165.2 632.2,165.7 632.5,165.2 632.7,165.6 633.1,165.5 633.3,166.3 633.8,165.4 634.2,166.2 634.4,167.3 634.7,166.4 634.9,167.1 635.1,166.6 635.3,165.1 635.5,166.6 635.8,165.9 636.0,165.7 636.2,165.8 636.4,167.4 636.6,165.6 636.9,166.2 637.1,167.2 637.3,166.9 637.5,165.6 637.7,166.5 638.0,166.3 638.2,166.5 638.4,167.0 638.6,166.3 638.8,166.5 639.1,167.5 639.3,165.7 639.7,167.0 639.9,166.0 640.2,166.4 640.4,166.0 640.6,166.8 640.8,166.4 641.0,167.2 641.3,167.3 641.5,166.8 641.7,166.6 641.9,166.9 642.1,166.8 642.4,166.1 642.6,167.4 642.8,166.9 643.0,167.3 643.2,166.1 643.5,167.3 643.7,168.0 644.1,166.0 644.3,166.9 644.6,166.8 644.8,167.0 645.0,166.7 645.2,167.1 645.4,166.6 645.7,167.0 645.9,166.5 646.3,167.4 646.5,166.6 646.8,167.3 647.0,166.4 647.2,166.7 647.4,166.8 647.6,167.6 647.9,166.5 648.1,167.6 648.3,166.1 648.7,167.4 649.0,167.3 649.2,166.4 649.4,166.2 649.6,167.4 649.8,166.2 650.1,167.3 650.3,166.6 650.5,166.9 650.7,168.2 651.2,167.4 651.4,166.2 651.6,167.1 652.0,166.9 652.3,167.7 652.5,166.0 652.7,167.1 652.9,167.0 653.1,166.5 653.4,167.9 653.6,166.3 653.8,167.0 654.0,167.0 654.2,165.7 654.7,166.4 654.9,167.4 655.1,167.5 655.6,167.1 655.8,165.7 656.0,167.1 656.2,166.7 656.4,167.6 656.7,167.7 656.9,168.2 657.1,167.4 657.3,167.4 657.5,166.4 657.8,167.0 658.0,166.3 658.2,167.5 658.4,166.3 658.6,166.9 658.9,166.5 659.1,166.7 659.3,167.2 659.5,166.7 659.7,167.1 660.0,166.4 660.2,167.8 660.4,166.6 660.8,168.2 661.1,165.6 661.7,167.6 661.9,166.7 662.2,167.2 662.4,166.6 662.6,167.3 662.8,166.3 663.0,167.5 663.3,165.3 663.5,165.9 663.7,168.0 664.1,166.5 664.4,168.2 664.6,167.6 664.8,167.6 665.0,166.8 665.2,167.3 665.5,167.3 665.7,166.1 665.9,167.3 666.1,166.9 666.3,167.7 666.6,167.7 666.8,166.6 667.0,166.7 667.4,167.4 667.7,166.8 667.9,166.9 668.1,167.3 668.3,167.2 668.5,167.7 669.2,166.0 669.4,167.5 669.6,166.8 670.1,166.8 670.3,166.1 670.5,166.8 670.7,165.5 671.0,166.8 671.2,166.5 671.4,168.0 671.6,167.3 671.8,166.9 672.3,167.4 672.5,166.6 672.7,166.9 672.9,166.8 673.2,168.4 673.6,165.9 674.0,168.5 674.3,166.5 674.5,169.0 674.7,167.0 674.9,167.6 675.1,166.7 675.4,166.9 675.6,166.3 675.8,166.4 676.0,165.8 676.2,167.7 676.5,166.4 676.7,167.2 676.9,167.2 677.1,166.6 677.3,167.0 677.8,166.7" fill="none" stroke="#c8282d" stroke-width="1.1" stroke-linejoin="round" />
<text transform="translate(644.8 38.4) scale(1 1.1)" font-size="8.2" text-anchor="start" fill="#262626" font-weight="normal" stroke="#262626" stroke-width="0.2" >RBW</text>
<text transform="translate(644.8 48.7) scale(1 1.1)" font-size="8.2" text-anchor="start" fill="#262626" font-weight="normal" stroke="#262626" stroke-width="0.2" >10 kHz</text>
<text transform="translate(644.8 89.7) scale(1 1.1)" font-size="8.2" text-anchor="start" fill="#262626" font-weight="normal" stroke="#262626" stroke-width="0.2" >RBW</text>
<text transform="translate(644.8 100) scale(1 1.1)" font-size="8.2" text-anchor="start" fill="#262626" font-weight="normal" stroke="#262626" stroke-width="0.2" >10 kHz</text>
<text transform="translate(644.8 143.3) scale(1 1.1)" font-size="8.2" text-anchor="start" fill="#262626" font-weight="normal" stroke="#262626" stroke-width="0.2" >RBW</text>
<text transform="translate(644.8 153.5) scale(1 1.1)" font-size="8.2" text-anchor="start" fill="#262626" font-weight="normal" stroke="#262626" stroke-width="0.2" >10 kHz</text>
<line x1="574" y1="23.9" x2="576" y2="23.9" stroke="#262626" stroke-width="1.0" />
<line x1="678.3" y1="23.9" x2="676.3" y2="23.9" stroke="#262626" stroke-width="1.0" />
<line x1="574" y1="37.3" x2="576" y2="37.3" stroke="#262626" stroke-width="1.0" />
<line x1="678.3" y1="37.3" x2="676.3" y2="37.3" stroke="#262626" stroke-width="1.0" />
<line x1="574" y1="50.7" x2="576" y2="50.7" stroke="#262626" stroke-width="1.0" />
<line x1="678.3" y1="50.7" x2="676.3" y2="50.7" stroke="#262626" stroke-width="1.0" />
<line x1="574" y1="77.5" x2="576" y2="77.5" stroke="#262626" stroke-width="1.0" />
<line x1="678.3" y1="77.5" x2="676.3" y2="77.5" stroke="#262626" stroke-width="1.0" />
<line x1="574" y1="90.9" x2="576" y2="90.9" stroke="#262626" stroke-width="1.0" />
<line x1="678.3" y1="90.9" x2="676.3" y2="90.9" stroke="#262626" stroke-width="1.0" />
<line x1="574" y1="104.3" x2="576" y2="104.3" stroke="#262626" stroke-width="1.0" />
<line x1="678.3" y1="104.3" x2="676.3" y2="104.3" stroke="#262626" stroke-width="1.0" />
<line x1="574" y1="131.1" x2="576" y2="131.1" stroke="#262626" stroke-width="1.0" />
<line x1="678.3" y1="131.1" x2="676.3" y2="131.1" stroke="#262626" stroke-width="1.0" />
<line x1="574" y1="144.5" x2="576" y2="144.5" stroke="#262626" stroke-width="1.0" />
<line x1="678.3" y1="144.5" x2="676.3" y2="144.5" stroke="#262626" stroke-width="1.0" />
<line x1="574" y1="157.9" x2="576" y2="157.9" stroke="#262626" stroke-width="1.0" />
<line x1="678.3" y1="157.9" x2="676.3" y2="157.9" stroke="#262626" stroke-width="1.0" />
<line x1="574" y1="64.1" x2="678.3" y2="64.1" stroke="#8c8c8c" stroke-width="1.3" />
<line x1="574" y1="64.1" x2="574" y2="62.1" stroke="#262626" stroke-width="1.0" />
<line x1="574" y1="64.1" x2="574" y2="66.1" stroke="#262626" stroke-width="1.0" />
<line x1="626.1" y1="64.1" x2="626.1" y2="62.1" stroke="#262626" stroke-width="1.0" />
<line x1="626.1" y1="64.1" x2="626.1" y2="66.1" stroke="#262626" stroke-width="1.0" />
<line x1="678.3" y1="64.1" x2="678.3" y2="62.1" stroke="#262626" stroke-width="1.0" />
<line x1="678.3" y1="64.1" x2="678.3" y2="66.1" stroke="#262626" stroke-width="1.0" />
<line x1="574" y1="117.7" x2="678.3" y2="117.7" stroke="#8c8c8c" stroke-width="1.3" />
<line x1="574" y1="117.7" x2="574" y2="115.7" stroke="#262626" stroke-width="1.0" />
<line x1="574" y1="117.7" x2="574" y2="119.7" stroke="#262626" stroke-width="1.0" />
<line x1="626.1" y1="117.7" x2="626.1" y2="115.7" stroke="#262626" stroke-width="1.0" />
<line x1="626.1" y1="117.7" x2="626.1" y2="119.7" stroke="#262626" stroke-width="1.0" />
<line x1="678.3" y1="117.7" x2="678.3" y2="115.7" stroke="#262626" stroke-width="1.0" />
<line x1="678.3" y1="117.7" x2="678.3" y2="119.7" stroke="#262626" stroke-width="1.0" />
<line x1="574" y1="10.5" x2="678.3" y2="10.5" stroke="#262626" stroke-width="1.1" />
<line x1="574" y1="171.3" x2="678.3" y2="171.3" stroke="#9a9a9a" stroke-width="1.1" />
<line x1="574" y1="10.5" x2="574" y2="171.3" stroke="#262626" stroke-width="1.1" />
<line x1="678.3" y1="10.5" x2="678.3" y2="171.3" stroke="#262626" stroke-width="1.1" />
<line x1="574" y1="10.5" x2="574" y2="12.5" stroke="#262626" stroke-width="1.0" />
<line x1="574" y1="171.3" x2="574" y2="169.3" stroke="#9a9a9a" stroke-width="1.0" />
<line x1="626.1" y1="10.5" x2="626.1" y2="12.5" stroke="#262626" stroke-width="1.0" />
<line x1="626.1" y1="171.3" x2="626.1" y2="169.3" stroke="#9a9a9a" stroke-width="1.0" />
<line x1="678.3" y1="10.5" x2="678.3" y2="12.5" stroke="#262626" stroke-width="1.0" />
<line x1="678.3" y1="171.3" x2="678.3" y2="169.3" stroke="#9a9a9a" stroke-width="1.0" />
<text transform="translate(574 183) scale(1 1.1)" font-size="8" text-anchor="middle" fill="#262626" font-weight="normal" stroke="#262626" stroke-width="0.2" >-20</text>
<text transform="translate(626.1 183) scale(1 1.1)" font-size="8" text-anchor="middle" fill="#262626" font-weight="normal" stroke="#262626" stroke-width="0.2" >0</text>
<text transform="translate(678.3 183) scale(1 1.1)" font-size="8" text-anchor="middle" fill="#262626" font-weight="normal" stroke="#262626" stroke-width="0.2" >20</text>
<text transform="translate(626.15 194.84) scale(1 1.1)" font-size="9.2" text-anchor="middle" fill="#262626" font-weight="normal" stroke="#262626" stroke-width="0.2" >Frequency - 387 MHz (MHz)</text>
<text transform="translate(564.4 92.1) rotate(-90) scale(1 1.1)" font-size="9.2" text-anchor="middle" fill="#262626" font-weight="normal" stroke="#262626" stroke-width="0.2" >Power (20 dB/div)</text>
<text transform="translate(556.5 7.2) scale(1 1.1)" font-size="10" text-anchor="middle" fill="#000" font-weight="bold" >d</text>
<text transform="translate(579.9 21.9) scale(1 1.1)" font-size="8.2" text-anchor="start" fill="#262626" font-weight="normal" stroke="#262626" stroke-width="0.08" >I</text>
<text transform="translate(579.9 75.5) scale(1 1.1)" font-size="8.2" text-anchor="start" fill="#262626" font-weight="normal" stroke="#262626" stroke-width="0.08" >II</text>
<text transform="translate(579.9 129.1) scale(1 1.1)" font-size="8.2" text-anchor="start" fill="#262626" font-weight="normal" stroke="#262626" stroke-width="0.08" >III</text>
<polyline points="38.3,300.1 41.9,297.9 46.4,294.8 58.7,285.6 80.6,269.6 83.3,267.4 89.3,262.3 92.0,260.3 93.8,259.1 95.6,258.2 97.1,257.6 99.2,257.1 99.5,256.9 99.8,256.4 100.1,254.6 101.0,243.7 101.3,243.1 101.6,245.9 102.2,253.9 102.5,256.2 102.8,257.1 103.1,257.5 104.6,257.8 113.0,262.6 165.5,300.3 165.8,300.4" fill="none" stroke="#111" stroke-width="1.1" stroke-linejoin="round" stroke-dasharray="3.2 2.4" />
<polyline points="38.9,300.5 39.2,300.5 39.8,300.3 40.4,299.7 41.3,299.4 41.6,299.0 41.9,298.9 42.2,298.5 42.5,298.4 42.8,298.7 43.1,298.1 44.3,297.1 44.6,297.1 44.9,296.8 45.2,296.8 45.5,296.3 46.1,296.2 46.4,295.6 46.7,295.6 47.0,295.2 47.6,295.1 48.5,294.2 49.1,293.9 49.4,293.6 50.3,293.0 50.6,292.5 50.9,292.5 51.2,292.2 51.8,291.9 52.1,291.6 52.4,291.4 52.7,291.0 53.9,290.2 54.5,289.6 55.4,289.1 55.7,288.8 56.0,288.7 56.6,287.9 56.9,287.9 57.2,287.5 57.5,287.5 57.8,287.4 59.0,286.1 59.3,286.1 59.9,285.5 60.2,285.5 61.1,285.0 61.7,284.3 62.3,284.0 62.6,283.6 62.9,283.6 63.8,282.8 64.1,283.0 64.4,282.5 65.0,282.1 65.6,281.5 65.9,281.4 66.2,281.0 66.5,280.9 66.8,280.5 67.1,280.4 67.4,280.2 67.7,279.8 68.0,279.9 68.3,279.4 68.6,279.4 68.9,279.0 69.2,278.9 69.5,278.6 69.8,278.7 70.1,278.3 70.4,278.1 71.6,277.1 71.9,276.9 72.8,276.1 73.4,275.8 74.6,274.8 75.8,274.0 76.1,273.9 76.7,273.2 77.0,273.2 77.6,272.7 77.9,272.8 78.5,272.1 79.1,271.7 79.4,271.5 79.7,271.2 80.3,270.7 80.6,270.7 80.9,270.5 81.2,270.1 81.5,270.0 81.8,269.6 82.1,269.5 82.4,269.1 82.7,269.0 83.0,268.7 83.9,267.9 84.5,267.3 84.8,267.3 85.4,266.5 86.0,265.8 86.6,265.8 86.9,265.2 87.2,265.1 87.5,264.7 87.8,264.7 88.4,264.1 89.0,263.7 89.9,262.7 90.5,262.2 90.8,262.3 91.1,261.9 91.7,261.5 92.0,261.5 92.3,261.0 92.6,261.0 93.5,260.1 93.8,260.2 94.1,259.9 95.0,259.5 95.3,259.4 95.6,259.1 96.8,258.8 97.1,258.6 97.4,258.7 98.0,258.2 98.6,258.3 98.9,257.8 99.2,256.5 99.5,253.1 100.4,232.5 100.7,233.5 101.3,248.9 101.6,254.3 101.9,257.0 102.2,257.6 102.5,257.9 102.8,257.6 103.1,257.9 103.7,257.5 104.0,257.8 104.6,257.6 104.9,257.7 105.2,257.6 105.5,257.9 106.1,258.0 106.4,258.3 106.7,258.3 107.3,258.5 107.9,259.0 108.2,259.0 108.5,259.2 108.8,259.6 109.4,259.9 109.7,260.4 110.0,260.3 110.3,260.6 110.6,260.7 111.5,261.6 111.8,261.6 112.1,262.0 112.7,262.3 113.0,262.8 113.3,262.7 113.6,262.8 113.9,263.1 114.2,263.0 114.5,263.5 115.1,263.7 116.0,264.5 116.3,264.4 116.9,264.6 117.2,265.0 117.5,265.0 118.1,265.6 118.7,265.8 119.0,266.2 119.3,266.3 119.9,266.8 120.2,266.7 120.5,266.9 120.8,267.5 121.1,267.4 121.4,267.5 121.7,267.7 122.3,268.0 123.5,269.0 123.8,268.9 124.1,269.2 124.4,269.6 124.7,269.7 125.0,270.0 125.6,270.1 125.9,270.5 126.2,270.6 127.1,271.5 127.4,271.5 128.3,272.2 128.6,272.0 129.2,272.7 129.5,272.9 129.8,273.0 130.4,273.6 131.3,274.0 132.2,274.8 132.5,274.8 132.8,274.9 133.1,275.1 133.4,275.5 134.6,276.2 135.2,276.4 136.1,277.1 136.7,277.4 137.0,277.8 137.3,277.8 137.6,278.0 138.5,278.4 139.1,278.9 139.4,279.2 139.7,279.2 140.3,279.8 140.6,279.9 141.2,280.3 141.5,280.2 141.8,280.5 142.1,280.5 142.4,280.9 142.7,280.9 143.3,281.4 143.6,281.3 144.2,281.6 144.5,281.7 144.8,281.9 145.4,282.1 146.6,282.4 146.9,282.4 147.2,282.7 147.5,282.8 148.1,282.9 149.0,283.2 149.3,283.5 149.6,283.3 150.2,283.6 151.1,283.6 152.0,284.0 152.3,283.8 153.2,284.0 153.5,284.0 154.1,284.1 154.4,283.9 154.7,284.0 155.0,283.9 155.3,283.9 155.6,284.0 155.9,283.9 156.2,284.1 156.5,284.2 156.8,284.1 158.3,284.1 158.9,284.0 159.5,284.2 159.8,284.1 160.1,284.3 160.4,284.1 160.7,284.2 161.0,284.0 161.6,284.2 162.2,284.1 162.5,284.3 162.8,284.1 163.4,284.0 163.7,284.3 164.3,284.1 164.6,283.9 164.9,284.1 165.2,284.1 165.8,284.2" fill="none" stroke="#c8282d" stroke-width="1.3" stroke-linejoin="round" />
<rect x="33.6" y="213.9" width="132.7" height="87" stroke="#262626" stroke-width="1.0" fill="none"/>
<line x1="99.95" y1="300.9" x2="99.95" y2="298.9" stroke="#262626" stroke-width="1.0" />
<line x1="99.95" y1="213.9" x2="99.95" y2="215.9" stroke="#262626" stroke-width="1.0" />
<line x1="33.6" y1="235.65" x2="35.6" y2="235.65" stroke="#262626" stroke-width="1.0" />
<line x1="166.3" y1="235.65" x2="164.3" y2="235.65" stroke="#262626" stroke-width="1.0" />
<line x1="33.6" y1="257.4" x2="35.6" y2="257.4" stroke="#262626" stroke-width="1.0" />
<line x1="166.3" y1="257.4" x2="164.3" y2="257.4" stroke="#262626" stroke-width="1.0" />
<line x1="33.6" y1="279.15" x2="35.6" y2="279.15" stroke="#262626" stroke-width="1.0" />
<line x1="166.3" y1="279.15" x2="164.3" y2="279.15" stroke="#262626" stroke-width="1.0" />
<line x1="71.3" y1="282.4" x2="87.4" y2="282.4" stroke="#111" stroke-width="1.1" stroke-dasharray="3.0 2.6"/>
<text transform="translate(89.4 285.3) scale(1 1.1)" font-size="7.5" text-anchor="start" fill="#1a1a1a" font-weight="normal" stroke="#1a1a1a" stroke-width="0.2" >Theory</text>
<line x1="71.3" y1="291.9" x2="87.4" y2="291.9" stroke="#c8282d" stroke-width="1.2" />
<text transform="translate(89.4 294.8) scale(1 1.1)" font-size="7.5" text-anchor="start" fill="#1a1a1a" font-weight="normal" stroke="#1a1a1a" stroke-width="0.2" >Experiment</text>
<text transform="translate(33.6 311.4) scale(1 1.1)" font-size="8" text-anchor="middle" fill="#262626" font-weight="normal" stroke="#262626" stroke-width="0.2" >1540</text>
<text transform="translate(99.95 311.4) scale(1 1.1)" font-size="8" text-anchor="middle" fill="#262626" font-weight="normal" stroke="#262626" stroke-width="0.2" >1570</text>
<text transform="translate(166.3 311.4) scale(1 1.1)" font-size="8" text-anchor="middle" fill="#262626" font-weight="normal" stroke="#262626" stroke-width="0.2" >1600</text>
<text transform="translate(99.95 322.6) scale(1 1.1)" font-size="9.2" text-anchor="middle" fill="#262626" font-weight="normal" stroke="#262626" stroke-width="0.2" >Wavelength (nm)</text>
<text transform="translate(28 257.4) rotate(-90) scale(1 1.1)" font-size="9.2" text-anchor="middle" fill="#262626" font-weight="normal" stroke="#262626" stroke-width="0.2" >Power (20 dB/div)</text>
<text transform="translate(2 208.7) scale(1 1.1)" font-size="10" text-anchor="middle" fill="#000" font-weight="bold" >e</text>
<polyline points="200.3,291.9 200.9,294.0 201.8,291.5 202.1,292.0 202.4,291.2 202.7,294.2 203.3,291.3 203.6,292.9 203.9,291.2 204.2,288.6 204.5,294.4 204.8,294.4 205.1,290.9 205.7,293.1 206.0,292.3 206.3,294.0 206.6,292.2 206.9,292.5 207.2,292.1 207.5,293.1 208.1,291.8 208.4,292.9 208.7,290.7 209.0,294.7 209.3,290.6 209.6,292.7 209.9,293.3 210.2,293.4 210.5,293.2 210.8,294.5 211.1,291.4 211.4,292.7 211.7,293.0 212.0,292.2 212.3,292.1 212.6,294.5 212.9,291.9 213.5,292.5 213.8,292.5 214.1,293.0 214.4,292.5 214.7,293.3 215.0,293.0 215.3,293.4 215.6,294.6 215.9,291.7 216.2,294.9 216.5,292.2 216.8,293.7 217.4,292.4 217.7,290.2 218.0,294.9 218.3,291.8 218.6,291.8 218.9,297.1 219.2,292.9 219.5,295.2 219.8,295.0 220.1,293.7 220.4,293.1 220.7,293.8 221.0,291.1 221.3,293.0 221.6,293.0 221.9,292.2 222.2,295.8 222.5,290.9 222.8,293.9 223.1,294.4 223.4,291.1 224.3,296.7 224.6,291.4 224.9,291.5 225.2,293.8 225.5,295.1 225.8,293.1 226.1,296.1 226.4,291.7 227.0,293.1 227.3,292.7 227.6,291.8 227.9,295.4 228.2,292.5 228.5,292.5 228.8,294.1 229.1,292.7 229.4,292.4 229.7,293.9 230.0,291.3 230.3,293.6 230.6,294.0 230.9,296.0 231.2,292.4 231.8,292.9 232.1,292.5 232.7,293.8 233.0,292.8 233.6,291.5 233.9,296.0 234.2,295.4 234.8,292.6 235.1,291.9 235.4,292.4 235.7,292.0 236.0,292.3 236.3,289.7 236.9,291.0 237.2,293.1 237.5,292.4 237.8,292.7 238.1,294.0 238.4,291.2 238.7,294.0 239.3,291.6 239.6,294.4 239.9,290.6 240.2,291.0 240.8,292.9 241.1,292.2 241.4,289.7 241.7,294.9 242.0,292.3 242.3,295.6 242.6,297.3 242.9,292.5 243.2,290.9 243.5,292.7 243.8,290.8 244.1,292.5 244.4,292.7 244.7,291.7 245.0,292.5 245.3,291.8 245.6,291.4 245.9,294.1 246.5,291.7 246.8,291.1 247.1,292.3 247.7,293.1 248.0,293.9 248.3,292.5 248.6,290.5 248.9,294.5 249.2,293.3 249.5,292.9 249.8,293.5 250.1,289.8 250.4,291.2 250.7,291.0 251.0,293.1 251.3,290.2 251.9,295.0 252.2,295.4 252.5,290.5 252.8,294.7 253.1,287.3 253.4,293.7 253.7,291.4 254.0,292.4 254.3,290.0 254.6,289.8 254.9,290.0 255.2,289.8 255.5,289.2 255.8,291.5 256.1,292.3 256.4,292.7 256.7,289.1 257.3,291.6 257.6,286.9 257.9,289.3 258.2,288.2 258.5,285.4 258.8,286.7 259.1,288.8 259.4,285.3 259.7,288.0 260.0,289.3 260.6,285.5 260.9,284.6 261.2,286.1 261.5,285.2 261.8,286.7 262.1,285.6 262.4,279.6 262.7,284.9 263.0,284.5 263.3,280.3 263.6,284.5 263.9,283.2 264.2,278.0 264.5,277.5 264.8,273.4 265.1,272.5 265.4,268.3 265.7,258.2 266.0,239.7 266.3,229.4 266.6,257.7 267.2,273.4 267.8,278.1 268.1,277.8 268.4,277.2 268.7,278.6 269.0,284.1 269.3,282.3 269.6,281.1 269.9,281.3 270.2,281.2 270.5,284.8 270.8,284.6 271.1,289.7 271.4,290.5 271.7,288.6 272.0,290.0 272.3,287.1 272.6,288.3 272.9,284.9 273.5,289.0 273.8,292.3 274.1,292.7 274.4,288.7 275.0,290.0 275.3,290.0 275.6,287.4 275.9,288.3 276.5,291.7 276.8,289.7 277.1,292.2 277.4,287.0 277.7,291.6 278.0,291.6 278.3,292.4 278.6,292.1 278.9,290.4 279.2,291.9 279.5,296.7 280.1,289.6 280.4,293.6 280.7,291.5 281.0,296.8 281.3,292.8 281.6,292.1 281.9,290.8 282.2,292.5 282.5,291.4 282.8,290.9 283.1,293.8 283.4,292.3 283.7,289.3 284.0,291.6 284.3,290.8 284.6,290.4 284.9,291.3 285.2,291.4 285.5,292.1 286.1,289.7 286.7,293.3 287.0,290.4 287.3,293.0 287.6,292.8 287.9,291.7 288.2,292.6 288.5,291.3 288.8,291.8 289.1,291.0 289.4,292.9 289.7,294.1 290.0,291.5 290.3,293.9 290.6,289.6 290.9,291.2 291.2,291.1 291.5,294.6 291.8,291.6 292.1,293.4 292.4,289.8 292.7,292.6 293.0,293.2 293.3,292.4 293.6,289.0 293.9,292.7 294.5,294.2 294.8,293.0 295.1,290.3 295.4,292.2 295.7,295.7 296.0,291.5 296.3,293.3 296.6,291.9 297.2,293.5 297.5,291.7 297.8,296.3 298.1,292.8 298.4,293.0 298.7,291.6 299.0,292.7 299.3,292.3 299.6,290.7 299.9,290.6 300.2,293.0 300.5,292.5 300.8,289.2 301.1,289.8 301.4,292.2 301.7,292.6 302.0,296.3 302.3,291.0 302.6,293.4 302.9,292.3 303.2,292.0 303.5,292.5 303.8,293.9 304.1,293.4 304.4,293.8 304.7,291.8 305.0,292.3 305.3,291.2 305.6,292.0 305.9,292.2 306.2,292.1 306.5,293.6 306.8,293.3 307.1,293.7 307.4,292.9 307.7,294.1 308.0,292.9 308.3,294.0 308.6,293.4 308.9,293.7 309.5,291.1 309.8,290.8 310.1,297.7 310.4,293.2 310.7,293.3 311.0,292.5 311.3,292.1 311.6,296.5 311.9,291.3 312.2,292.7 312.5,292.7 312.8,291.3 313.1,291.1 313.4,291.8 313.7,292.3 314.0,292.1 314.3,293.8 314.6,291.2 315.2,294.7 315.5,293.9 316.1,288.9 316.4,293.9 316.7,293.4 317.0,292.0 317.3,294.4 317.6,292.2 317.9,292.9 318.2,291.4 318.5,293.2 318.8,292.2 319.1,292.1 319.4,294.2 319.7,293.1 320.0,290.8 320.3,296.1 320.9,291.7 321.5,292.9 321.8,292.5 322.4,293.6 322.7,292.2 323.0,295.5 323.3,291.9 323.6,292.1 323.9,295.4 324.2,295.9 324.5,292.9 324.8,292.6 325.1,291.4 325.4,294.3 326.0,291.7 326.6,294.6 326.9,293.7 327.2,295.7 327.5,294.3 328.1,292.8 328.7,294.4 329.0,293.9 329.3,294.2 329.6,293.1 329.9,296.9 330.2,294.4 330.5,294.2 330.8,291.1 331.1,295.1 331.7,292.3 332.0,293.1 332.3,292.5 332.6,290.6" fill="none" stroke="#c8282d" stroke-width="1.1" stroke-linejoin="round" />
<rect x="199.8" y="214.3" width="133.2" height="84.9" stroke="#262626" stroke-width="1.0" fill="none"/>
<line x1="266.2" y1="299.2" x2="266.2" y2="297.2" stroke="#262626" stroke-width="1.0" />
<line x1="266.2" y1="214.3" x2="266.2" y2="216.3" stroke="#262626" stroke-width="1.0" />
<line x1="199.8" y1="231.28" x2="201.8" y2="231.28" stroke="#262626" stroke-width="1.0" />
<line x1="333" y1="231.28" x2="331" y2="231.28" stroke="#262626" stroke-width="1.0" />
<line x1="199.8" y1="248.26" x2="201.8" y2="248.26" stroke="#262626" stroke-width="1.0" />
<line x1="333" y1="248.26" x2="331" y2="248.26" stroke="#262626" stroke-width="1.0" />
<line x1="199.8" y1="265.24" x2="201.8" y2="265.24" stroke="#262626" stroke-width="1.0" />
<line x1="333" y1="265.24" x2="331" y2="265.24" stroke="#262626" stroke-width="1.0" />
<line x1="199.8" y1="282.22" x2="201.8" y2="282.22" stroke="#262626" stroke-width="1.0" />
<line x1="333" y1="282.22" x2="331" y2="282.22" stroke="#262626" stroke-width="1.0" />
<text transform="translate(279.6 245.9) scale(1 1.1)" font-size="8.3" text-anchor="start" fill="#262626" font-weight="normal" stroke="#262626" stroke-width="0.2" >RBW</text>
<text transform="translate(279.6 257.1) scale(1 1.1)" font-size="8.3" text-anchor="start" fill="#262626" font-weight="normal" stroke="#262626" stroke-width="0.2" >100 Hz</text>
<text transform="translate(199.8 311.4) scale(1 1.1)" font-size="8" text-anchor="middle" fill="#262626" font-weight="normal" stroke="#262626" stroke-width="0.2" >-50</text>
<text transform="translate(266.2 311.4) scale(1 1.1)" font-size="8" text-anchor="middle" fill="#262626" font-weight="normal" stroke="#262626" stroke-width="0.2" >0</text>
<text transform="translate(333 311.4) scale(1 1.1)" font-size="8" text-anchor="middle" fill="#262626" font-weight="normal" stroke="#262626" stroke-width="0.2" >50</text>
<text transform="translate(266.2 323) scale(1 1.1)" font-size="9.2" text-anchor="middle" fill="#262626" font-weight="normal" stroke="#262626" stroke-width="0.2" >Frequency - 387 MHz (kHz)</text>
<text transform="translate(194.5 256.75) rotate(-90) scale(1 1.1)" font-size="9.2" text-anchor="middle" fill="#262626" font-weight="normal" stroke="#262626" stroke-width="0.2" >Power (20 dB/div)</text>
<polyline points="398.8,300.1 399.1,299.9 399.7,297.8 404.8,275.2 406.0,270.4 406.9,267.3 409.0,261.5 411.4,255.9 413.8,251.0 416.2,246.9 419.2,242.7 422.2,238.9 424.9,236.2 427.3,234.3 430.9,232.2 434.8,230.4 441.7,228.1 443.8,227.6 445.3,227.4 445.9,227.5 446.2,228.0 446.5,229.0 447.1,232.9 447.4,234.2 447.7,233.9 448.6,228.7 448.9,227.8 449.2,227.5 449.8,227.4 452.2,227.7 457.6,228.5 459.4,229.0 461.5,230.0 463.3,231.0 465.4,232.5 468.1,234.5 469.6,235.8 471.1,237.4 472.9,239.4 476.2,243.9 480.1,250.0 482.5,254.5 485.2,260.5 487.9,267.7 490.0,274.5 492.1,282.7 493.3,288.0 495.1,298.0 495.4,299.3 495.7,300.1" fill="none" stroke="#111" stroke-width="1.1" stroke-linejoin="round" stroke-dasharray="3.0 2.6" />
<polygon points="379.30,300.00 379.30,294.83 379.70,294.02 380.10,294.74 380.50,295.01 380.90,292.00 381.30,293.27 381.70,290.05 382.10,294.08 382.50,292.85 382.90,293.86 383.30,293.53 383.70,290.58 384.10,293.27 384.50,292.84 384.90,291.04 385.30,291.67 385.70,292.28 386.10,291.38 386.50,291.48 386.90,290.58 387.30,293.53 387.70,291.77 388.10,294.07 388.50,292.57 388.90,295.03 389.30,291.64 389.70,293.03 390.10,292.79 390.50,290.70 390.90,290.62 391.30,289.00 391.70,291.07 392.10,292.15 392.50,289.26 392.90,289.62 393.30,290.12 393.70,292.21 394.10,292.32 394.50,291.90 394.90,290.32 395.30,287.13 395.70,289.57 396.10,289.06 396.50,287.63 396.90,289.85 397.30,289.72 397.30,300.00" fill="#3b7d3b" stroke="#3b7d3b" stroke-width="0.6" stroke-linejoin="round"/>
<polygon points="497.50,300.00 497.50,291.96 497.90,290.98 498.30,292.23 498.70,292.54 499.10,291.55 499.50,290.37 499.90,291.12 500.30,290.63 500.70,290.17 501.10,292.29 501.50,292.58 501.90,293.61 502.30,291.91 502.70,292.49 503.10,290.67 503.50,290.44 503.90,293.31 504.30,293.86 504.70,290.66 505.10,294.98 505.50,292.94 505.90,292.93 506.30,295.79 506.70,294.00 507.10,291.79 507.50,294.47 507.90,294.44 508.30,294.45 508.70,292.00 509.10,293.13 509.50,294.23 509.90,295.59 510.30,292.22 510.70,294.11 511.10,295.76 511.10,300.00" fill="#3b7d3b" stroke="#3b7d3b" stroke-width="0.6" stroke-linejoin="round"/>
<polyline points="396.7,290.6 398.2,287.4 399.4,285.3 399.7,284.6 400.0,284.1 400.3,283.8 400.6,283.0 400.9,282.8 401.8,280.9 402.1,280.6 403.0,278.7 403.3,278.5 405.1,274.3 405.7,272.4 406.0,272.1 406.9,269.9 407.5,267.9 407.8,267.7 408.4,265.9 409.0,264.9 409.3,264.1 409.9,263.3 411.1,260.6 411.4,260.1 412.3,258.3 412.6,258.1 413.2,256.7 413.8,255.9 414.4,254.6 415.0,253.8 415.6,252.6 416.2,251.9 416.8,250.9 417.4,250.3 418.0,249.3 418.3,249.2 418.6,248.5 418.9,248.2 419.2,247.7 419.5,247.5 420.1,246.5 420.4,246.3 420.7,246.2 421.3,245.3 421.6,245.1 421.9,244.4 424.0,242.5 424.3,242.4 424.6,241.7 425.2,241.3 425.5,240.8 426.1,240.4 426.4,240.0 427.0,239.7 427.6,238.8 427.9,238.8 428.2,238.4 428.5,238.3 428.8,238.0 429.4,237.7 430.6,236.3 430.9,236.2 431.5,236.0 432.4,235.1 433.0,234.7 433.3,234.8 433.6,234.3 433.9,234.4 434.2,234.0 434.5,234.0 435.4,233.5 435.7,233.1 436.0,232.9 436.6,232.6 436.9,232.6 438.1,231.8 438.4,231.8 438.7,231.3 439.0,231.4 439.9,230.8 440.2,230.8 440.8,230.2 441.1,230.1 441.4,230.2 441.7,229.8 442.0,230.0 442.3,229.8 442.6,229.5 442.9,229.5 443.2,229.2 443.8,229.0 444.1,229.0 444.4,228.7 444.7,228.7 445.3,228.6 445.9,227.6 446.2,226.2 446.8,219.8 447.1,218.3 447.4,220.7 448.0,229.6 448.3,231.1 448.6,230.4 448.9,229.0 449.2,228.1 449.5,227.7 450.1,227.9 450.7,227.5 451.0,227.9 451.9,227.9 452.2,228.4 452.5,228.0 452.8,228.0 453.4,228.4 453.7,228.4 454.3,228.7 454.6,228.7 455.2,229.0 455.5,229.0 455.8,229.3 456.1,229.3 456.4,229.7 456.7,229.6 457.0,229.8 457.3,229.8 457.6,230.1 457.9,230.1 458.2,230.6 458.5,230.6 458.8,230.8 459.1,230.7 459.7,231.2 460.0,231.2 460.3,231.7 460.6,231.6 461.5,232.1 461.8,232.4 462.1,232.4 462.7,232.9 463.6,233.3 464.2,233.8 464.8,234.0 465.1,234.4 466.0,235.1 466.3,235.5 466.6,235.4 467.2,236.1 467.5,236.1 467.8,236.6 468.1,236.8 468.4,236.8 468.7,237.4 469.0,237.7 469.6,238.0 469.9,238.5 470.2,238.6 470.8,239.3 471.4,239.7 471.7,240.1 472.6,241.0 472.9,241.5 473.5,241.9 474.4,243.0 475.0,243.5 476.2,245.2 477.4,246.5 478.6,248.1 479.2,249.0 479.5,249.6 480.1,250.3 480.4,250.9 480.7,251.2 481.6,253.0 481.9,253.0 483.1,255.2 483.4,255.5 484.3,257.3 484.6,257.6 484.9,258.2 485.2,259.1 485.8,260.4 486.1,260.8 488.5,266.6 490.0,270.3 490.3,271.2 493.0,277.2 493.3,277.7 494.8,281.5 495.4,282.5 496.9,285.9 497.2,286.2 497.8,287.5 498.1,287.8 498.4,288.5 499.0,289.4 499.3,290.2 499.9,290.8" fill="none" stroke="#3b7d3b" stroke-width="1.3" stroke-linejoin="round" />
<rect x="378.8" y="213.9" width="132.8" height="86.7" stroke="#262626" stroke-width="1.0" fill="none"/>
<line x1="445.2" y1="300.6" x2="445.2" y2="298.6" stroke="#262626" stroke-width="1.0" />
<line x1="445.2" y1="213.9" x2="445.2" y2="215.9" stroke="#262626" stroke-width="1.0" />
<line x1="378.8" y1="242.8" x2="380.8" y2="242.8" stroke="#262626" stroke-width="1.0" />
<line x1="511.6" y1="242.8" x2="509.6" y2="242.8" stroke="#262626" stroke-width="1.0" />
<line x1="378.8" y1="271.7" x2="380.8" y2="271.7" stroke="#262626" stroke-width="1.0" />
<line x1="511.6" y1="271.7" x2="509.6" y2="271.7" stroke="#262626" stroke-width="1.0" />
<line x1="417.3" y1="282.4" x2="433.4" y2="282.4" stroke="#111" stroke-width="1.1" stroke-dasharray="3.0 2.6"/>
<text transform="translate(435.4 285.3) scale(1 1.1)" font-size="7.5" text-anchor="start" fill="#1a1a1a" font-weight="normal" stroke="#1a1a1a" stroke-width="0.2" >Theory</text>
<line x1="417.3" y1="291.9" x2="433.4" y2="291.9" stroke="#3b7d3b" stroke-width="1.2" />
<text transform="translate(435.4 294.8) scale(1 1.1)" font-size="7.5" text-anchor="start" fill="#1a1a1a" font-weight="normal" stroke="#1a1a1a" stroke-width="0.2" >Experiment</text>
<text transform="translate(378.8 311.4) scale(1 1.1)" font-size="8" text-anchor="middle" fill="#262626" font-weight="normal" stroke="#262626" stroke-width="0.2" >770</text>
<text transform="translate(445.2 311.4) scale(1 1.1)" font-size="8" text-anchor="middle" fill="#262626" font-weight="normal" stroke="#262626" stroke-width="0.2" >785</text>
<text transform="translate(511.6 311.4) scale(1 1.1)" font-size="8" text-anchor="middle" fill="#262626" font-weight="normal" stroke="#262626" stroke-width="0.2" >800</text>
<text transform="translate(445.2 322.6) scale(1 1.1)" font-size="9.2" text-anchor="middle" fill="#262626" font-weight="normal" stroke="#262626" stroke-width="0.2" >Wavelength (nm)</text>
<text transform="translate(373.5 257.25) rotate(-90) scale(1 1.1)" font-size="9.2" text-anchor="middle" fill="#262626" font-weight="normal" stroke="#262626" stroke-width="0.2" >Power (20 dB/div)</text>
<text transform="translate(356.7 208.7) scale(1 1.1)" font-size="10" text-anchor="middle" fill="#000" font-weight="bold" >f</text>
<polyline points="545.8,294.0 546.1,295.4 546.7,291.5 547.3,292.9 547.6,296.3 547.9,291.4 548.2,293.9 548.5,293.6 548.8,291.7 549.1,293.5 549.4,291.8 549.7,292.8 550.0,294.6 550.6,291.3 550.9,293.4 551.2,290.1 551.5,292.3 551.8,292.1 552.1,294.7 552.7,292.2 553.0,291.7 553.3,292.8 553.6,292.0 553.9,295.5 554.2,289.3 554.5,292.8 554.8,291.3 555.1,294.0 555.4,291.8 555.7,294.7 556.0,292.1 556.3,294.1 556.6,293.0 556.9,294.2 557.2,294.9 557.5,289.1 557.8,291.8 558.1,290.8 558.4,293.9 559.0,292.7 559.3,293.3 559.6,293.0 559.9,292.0 560.2,295.1 560.5,295.7 560.8,292.5 561.1,290.9 561.7,292.7 562.3,292.1 562.6,292.7 562.9,291.3 563.2,292.7 563.5,290.8 563.8,291.6 564.1,291.8 564.4,293.8 565.0,292.8 565.3,291.3 565.6,293.8 565.9,293.7 566.2,294.2 566.5,290.9 566.8,292.2 567.1,292.8 567.4,293.1 567.7,292.7 568.0,293.5 568.3,290.9 568.6,294.6 568.9,291.3 569.2,292.7 569.5,293.3 569.8,296.6 570.1,293.8 570.4,293.7 570.7,294.2 571.0,292.5 571.6,294.6 571.9,291.7 572.2,290.9 572.5,291.4 572.8,294.4 573.1,294.2 573.4,292.2 573.7,292.9 574.0,293.2 574.3,293.9 574.6,290.3 574.9,291.9 575.2,292.3 575.5,293.0 576.1,292.2 576.4,293.0 576.7,289.4 577.0,296.4 577.3,293.6 577.6,296.8 577.9,291.8 578.2,293.1 578.5,295.1 578.8,294.8 579.4,291.0 579.7,292.8 580.0,292.2 580.3,293.6 580.6,290.9 580.9,292.3 581.2,292.9 581.5,291.9 581.8,293.8 582.1,291.1 582.4,291.0 583.0,293.5 583.3,292.1 583.6,291.7 583.9,293.5 584.5,291.8 584.8,292.6 585.1,292.1 585.4,293.2 585.7,292.6 586.0,291.4 586.3,291.8 586.6,291.8 586.9,292.8 587.2,292.8 587.5,291.3 588.1,292.7 588.4,293.7 588.7,292.6 589.0,294.7 589.3,292.3 589.6,293.1 589.9,291.8 590.2,290.9 590.5,292.3 590.8,292.7 591.4,292.3 592.0,291.0 592.9,293.2 593.2,287.9 593.5,292.7 593.8,293.2 594.1,293.4 594.4,292.3 594.7,295.1 595.0,291.2 595.3,291.6 595.6,292.3 595.9,290.3 596.2,290.6 596.5,291.8 596.8,287.9 597.1,292.2 597.4,290.7 598.0,290.0 598.3,288.3 598.6,290.0 599.2,287.3 599.5,289.8 599.8,289.9 600.1,293.5 600.4,292.4 600.7,287.1 601.0,290.9 601.3,292.8 601.6,288.0 601.9,290.5 602.5,292.5 603.1,287.8 603.4,292.0 603.7,291.4 604.0,288.3 604.3,288.7 604.6,288.0 604.9,285.9 605.2,291.7 605.5,290.4 605.8,285.5 606.1,287.1 606.4,285.3 606.7,287.1 607.0,283.0 607.3,289.4 607.6,282.6 607.9,282.4 608.2,284.7 608.5,281.5 608.8,284.1 609.1,283.3 609.4,279.0 609.7,280.6 610.9,267.6 611.2,257.7 611.5,234.2 611.8,239.8 612.1,263.1 612.4,266.4 613.0,277.0 613.3,277.7 613.9,283.8 614.2,279.1 614.8,285.5 615.1,282.1 615.4,281.4 615.7,285.7 616.0,285.2 616.3,285.7 616.6,288.0 616.9,285.3 617.2,287.8 617.5,287.4 618.1,288.9 618.4,288.3 618.7,290.8 619.0,285.8 619.3,288.8 619.6,287.2 619.9,292.9 620.2,288.3 620.5,290.4 621.1,286.6 621.4,291.4 621.7,290.9 622.0,289.5 622.3,295.8 622.6,291.2 622.9,294.1 623.2,288.7 623.5,290.0 623.8,290.6 624.1,289.4 624.4,291.7 624.7,283.7 625.0,292.7 625.3,291.0 625.6,291.0 625.9,290.5 626.2,292.0 626.5,291.4 626.8,288.8 627.1,289.4 627.4,291.7 627.7,290.9 628.0,291.7 628.3,291.0 628.6,293.7 628.9,289.5 629.5,290.7 629.8,290.2 630.1,292.9 630.4,292.0 630.7,290.3 631.0,292.5 631.3,293.7 631.6,293.5 631.9,294.6 632.5,292.1 632.8,294.4 633.1,293.1 633.4,294.6 634.0,289.6 634.6,292.5 635.2,293.7 635.5,293.6 635.8,290.9 636.1,291.5 636.7,295.1 637.0,292.5 637.3,294.2 637.6,293.8 637.9,291.4 638.2,292.7 638.5,290.3 638.8,292.4 639.1,293.0 639.4,290.3 639.7,294.4 640.0,295.0 640.3,293.1 640.9,294.4 641.2,292.3 641.5,293.8 641.8,293.0 642.1,290.6 642.4,291.4 642.7,291.9 643.0,293.9 643.3,292.7 643.6,293.8 643.9,292.0 644.2,291.0 644.5,295.2 644.8,296.0 645.1,293.1 645.4,292.4 645.7,294.1 646.0,291.2 646.3,292.4 646.6,290.8 646.9,293.2 647.2,293.0 647.5,292.1 647.8,291.8 648.1,290.8 648.4,291.6 648.7,294.2 649.0,292.2 649.3,294.2 649.6,291.6 649.9,292.6 650.2,292.1 650.5,292.4 650.8,296.0 651.1,290.1 651.4,293.6 651.7,293.6 652.0,292.7 652.3,292.8 652.6,292.4 652.9,293.6 653.5,291.7 654.1,293.9 654.4,293.2 654.7,292.8 655.0,293.0 655.3,292.1 655.6,292.2 655.9,290.4 656.5,294.0 656.8,292.3 657.1,291.6 657.4,293.9 657.7,293.0 658.0,292.9 658.6,293.6 659.2,291.7 659.5,294.9 659.8,292.8 660.1,291.8 660.7,294.3 661.0,291.0 661.3,294.4 661.6,292.6 661.9,295.3 662.2,293.6 662.5,292.6 662.8,294.3 663.1,294.4 663.4,295.7 663.7,293.1 664.0,292.1 664.3,293.9 664.6,291.0 664.9,292.6 665.2,290.1 665.5,293.5 665.8,290.0 666.4,293.1 666.7,292.4 667.0,292.2 667.3,291.6 667.6,292.2 667.9,290.6 668.2,293.2 668.5,293.8 668.8,295.3 669.1,292.8 669.4,294.3 669.7,293.4 670.0,294.0 670.6,292.9 670.9,291.9 671.2,289.5 671.5,293.6 672.1,295.3 672.4,290.4 672.7,293.9 673.0,291.6 673.3,292.8 673.6,294.7 673.9,293.3 674.2,292.8 674.5,296.3 674.8,293.0 675.1,293.4 675.4,294.4 676.0,292.7 676.3,294.4 676.6,292.7 676.9,296.5 677.2,292.4 677.5,292.0 677.8,289.1" fill="none" stroke="#3b7d3b" stroke-width="1.1" stroke-linejoin="round" />
<rect x="545.3" y="214.3" width="133" height="84.9" stroke="#262626" stroke-width="1.0" fill="none"/>
<line x1="611.6" y1="299.2" x2="611.6" y2="297.2" stroke="#262626" stroke-width="1.0" />
<line x1="611.6" y1="214.3" x2="611.6" y2="216.3" stroke="#262626" stroke-width="1.0" />
<line x1="545.3" y1="231.28" x2="547.3" y2="231.28" stroke="#262626" stroke-width="1.0" />
<line x1="678.3" y1="231.28" x2="676.3" y2="231.28" stroke="#262626" stroke-width="1.0" />
<line x1="545.3" y1="248.26" x2="547.3" y2="248.26" stroke="#262626" stroke-width="1.0" />
<line x1="678.3" y1="248.26" x2="676.3" y2="248.26" stroke="#262626" stroke-width="1.0" />
<line x1="545.3" y1="265.24" x2="547.3" y2="265.24" stroke="#262626" stroke-width="1.0" />
<line x1="678.3" y1="265.24" x2="676.3" y2="265.24" stroke="#262626" stroke-width="1.0" />
<line x1="545.3" y1="282.22" x2="547.3" y2="282.22" stroke="#262626" stroke-width="1.0" />
<line x1="678.3" y1="282.22" x2="676.3" y2="282.22" stroke="#262626" stroke-width="1.0" />
<text transform="translate(625.1 245.9) scale(1 1.1)" font-size="8.3" text-anchor="start" fill="#262626" font-weight="normal" stroke="#262626" stroke-width="0.2" >RBW</text>
<text transform="translate(625.1 257.1) scale(1 1.1)" font-size="8.3" text-anchor="start" fill="#262626" font-weight="normal" stroke="#262626" stroke-width="0.2" >100 Hz</text>
<text transform="translate(545.3 311.4) scale(1 1.1)" font-size="8" text-anchor="middle" fill="#262626" font-weight="normal" stroke="#262626" stroke-width="0.2" >-50</text>
<text transform="translate(611.6 311.4) scale(1 1.1)" font-size="8" text-anchor="middle" fill="#262626" font-weight="normal" stroke="#262626" stroke-width="0.2" >0</text>
<text transform="translate(678.3 311.4) scale(1 1.1)" font-size="8" text-anchor="middle" fill="#262626" font-weight="normal" stroke="#262626" stroke-width="0.2" >50</text>
<text transform="translate(611.6 323) scale(1 1.1)" font-size="9.2" text-anchor="middle" fill="#262626" font-weight="normal" stroke="#262626" stroke-width="0.2" >Frequency - 387 MHz (kHz)</text>
<text transform="translate(540 256.75) rotate(-90) scale(1 1.1)" font-size="9.2" text-anchor="middle" fill="#262626" font-weight="normal" stroke="#262626" stroke-width="0.2" >Power (20 dB/div)</text>
<polyline points="35.0,398.9 35.6,398.9 40.1,395.7 52.1,387.0 59.3,381.6 60.6,380.4 63.8,377.1 65.3,375.7 66.7,374.6 68.3,373.9 68.7,373.5 69.2,372.6 69.9,369.7 70.2,369.1 70.3,369.1 70.5,369.4 71.3,372.8 71.6,373.5 71.9,373.9 74.8,375.1 76.1,375.8 77.7,377.0 82.9,381.2 87.1,384.3 91.0,387.4 98.4,393.5 104.6,398.8 104.7,398.9 105.2,398.9" fill="none" stroke="#111" stroke-width="1.1" stroke-linejoin="round" stroke-dasharray="3.0 2.6" />
<polyline points="36.5,399.0 36.9,399.0 41.6,395.7 48.2,390.9 55.0,385.7 59.8,381.9 64.1,377.2 65.7,375.7 67.1,374.6 68.9,374.0 69.2,373.2 69.3,372.1 70.0,359.2 70.2,359.2 70.3,361.1 70.9,372.1 71.1,373.2 71.3,374.0 71.6,374.1 72.6,374.2 73.5,374.5 76.7,376.5 80.9,378.5 83.1,379.7 88.0,382.8 92.2,386.0 95.5,387.7 97.1,388.4 98.5,388.7 102.4,389.1 105.8,389.2" fill="none" stroke="#c8282d" stroke-width="1.35" stroke-linejoin="round" />
<rect x="33.6" y="348.9" width="72.3" height="50.4" stroke="#262626" stroke-width="1.0" fill="none"/>
<line x1="69.75" y1="399.3" x2="69.75" y2="397.3" stroke="#262626" stroke-width="1.0" />
<line x1="69.75" y1="348.9" x2="69.75" y2="350.9" stroke="#262626" stroke-width="1.0" />
<line x1="33.6" y1="361.5" x2="35.6" y2="361.5" stroke="#262626" stroke-width="1.0" />
<line x1="105.9" y1="361.5" x2="103.9" y2="361.5" stroke="#262626" stroke-width="1.0" />
<line x1="33.6" y1="374.1" x2="35.6" y2="374.1" stroke="#262626" stroke-width="1.0" />
<line x1="105.9" y1="374.1" x2="103.9" y2="374.1" stroke="#262626" stroke-width="1.0" />
<line x1="33.6" y1="386.7" x2="35.6" y2="386.7" stroke="#262626" stroke-width="1.0" />
<line x1="105.9" y1="386.7" x2="103.9" y2="386.7" stroke="#262626" stroke-width="1.0" />
<text transform="translate(33.6 410) scale(1 1.1)" font-size="8" text-anchor="middle" fill="#262626" font-weight="normal" stroke="#262626" stroke-width="0.2" >1540</text>
<text transform="translate(69.75 410) scale(1 1.1)" font-size="8" text-anchor="middle" fill="#262626" font-weight="normal" stroke="#262626" stroke-width="0.2" >1570</text>
<text transform="translate(105.9 410) scale(1 1.1)" font-size="8" text-anchor="middle" fill="#262626" font-weight="normal" stroke="#262626" stroke-width="0.2" >1600</text>
<text transform="translate(69.75 420.9) scale(1 1.1)" font-size="9.2" text-anchor="middle" fill="#262626" font-weight="normal" stroke="#262626" stroke-width="0.2" >Wavelength (nm)</text>
<text transform="translate(18.3 374.1) rotate(-90) scale(1 1.1)" font-size="9.2" text-anchor="middle" fill="#262626" font-weight="normal" stroke="#262626" stroke-width="0.2" >Power</text>
<text transform="translate(29.3 374.1) rotate(-90) scale(1 1.1)" font-size="9.2" text-anchor="middle" fill="#262626" font-weight="normal" stroke="#262626" stroke-width="0.2" >(20 dB/div)</text>
<text transform="translate(35.4 358.8) scale(1 1.1)" font-size="9.2" text-anchor="start" fill="#1a1a1a" font-weight="normal" stroke="#1a1a1a" stroke-width="0.2" >0 fs/mm</text>
<polyline points="148.6,398.9 148.8,398.5 149.9,393.2 151.0,389.2 152.1,385.4 153.4,381.6 155.2,377.1 157.1,372.8 159.1,368.6 160.6,366.2 161.5,365.0 162.6,363.8 163.8,362.8 165.1,361.7 166.6,360.8 170.1,358.8 171.6,358.0 172.6,357.6 172.9,357.6 173.2,357.8 173.5,358.4 174.3,362.6 174.5,363.0 174.6,363.0 174.9,362.0 175.7,358.2 176.0,357.6 176.2,357.4 176.5,357.3 178.7,357.7 181.2,358.5 184.0,359.5 185.5,360.4 187.1,361.8 188.8,363.7 191.4,367.1 192.9,369.3 194.2,371.7 195.4,374.2 196.6,377.1 197.4,379.6 198.2,382.4 199.1,386.3 201.5,398.9" fill="none" stroke="#111" stroke-width="1.1" stroke-linejoin="round" stroke-dasharray="3.0 2.6" />
<polygon points="138.00,398.80 138.00,394.29 138.40,392.47 138.80,394.45 139.20,394.00 139.60,393.60 140.00,391.93 140.40,391.52 140.80,393.00 141.20,391.37 141.60,393.01 142.00,392.07 142.40,392.04 142.80,389.79 143.20,393.23 143.60,393.26 144.00,393.96 144.40,394.21 144.80,392.24 145.20,392.00 145.60,391.08 146.00,391.75 146.40,392.26 146.80,390.17 147.20,394.18 147.60,393.67 148.00,394.89 148.00,398.80" fill="#3b7d3b" stroke="#3b7d3b" stroke-width="0.6" stroke-linejoin="round"/>
<polygon points="202.63,398.80 202.63,392.10 203.03,390.67 203.43,393.03 203.83,390.92 204.23,391.57 204.63,393.53 205.03,394.14 205.43,391.23 205.83,392.44 206.23,395.56 206.63,393.76 207.03,393.98 207.43,391.57 207.83,391.92 208.23,393.53 208.63,393.19 209.03,392.03 209.43,395.40 209.83,394.86 209.83,398.80" fill="#3b7d3b" stroke="#3b7d3b" stroke-width="0.6" stroke-linejoin="round"/>
<polyline points="148.2,393.8 153.0,380.7 155.0,376.3 156.8,372.9 157.8,371.1 159.4,368.8 161.3,366.4 163.2,364.3 165.1,362.5 166.9,361.0 168.5,359.9 171.6,358.1 173.5,357.1 173.8,356.3 174.3,351.3 174.5,351.3 175.1,356.2 175.4,356.9 178.1,357.4 180.6,357.9 181.9,358.3 183.4,359.1 185.6,360.7 188.2,362.9 189.7,364.5 191.2,366.5 193.5,370.3 195.5,374.2 196.6,376.7 202.6,392.5" fill="none" stroke="#3b7d3b" stroke-width="1.3" stroke-linejoin="round" />
<rect x="137.5" y="348.9" width="73.1" height="50.4" stroke="#262626" stroke-width="1.0" fill="none"/>
<line x1="174.05" y1="399.3" x2="174.05" y2="397.3" stroke="#262626" stroke-width="1.0" />
<line x1="174.05" y1="348.9" x2="174.05" y2="350.9" stroke="#262626" stroke-width="1.0" />
<line x1="137.5" y1="365.7" x2="139.5" y2="365.7" stroke="#262626" stroke-width="1.0" />
<line x1="210.6" y1="365.7" x2="208.6" y2="365.7" stroke="#262626" stroke-width="1.0" />
<line x1="137.5" y1="382.5" x2="139.5" y2="382.5" stroke="#262626" stroke-width="1.0" />
<line x1="210.6" y1="382.5" x2="208.6" y2="382.5" stroke="#262626" stroke-width="1.0" />
<text transform="translate(137.5 410) scale(1 1.1)" font-size="8" text-anchor="middle" fill="#262626" font-weight="normal" stroke="#262626" stroke-width="0.2" >770</text>
<text transform="translate(174.05 410) scale(1 1.1)" font-size="8" text-anchor="middle" fill="#262626" font-weight="normal" stroke="#262626" stroke-width="0.2" >785</text>
<text transform="translate(210.6 410) scale(1 1.1)" font-size="8" text-anchor="middle" fill="#262626" font-weight="normal" stroke="#262626" stroke-width="0.2" >800</text>
<text transform="translate(174.05 420.9) scale(1 1.1)" font-size="9.2" text-anchor="middle" fill="#262626" font-weight="normal" stroke="#262626" stroke-width="0.2" >Wavelength (nm)</text>
<text transform="translate(122.2 374.1) rotate(-90) scale(1 1.1)" font-size="9.2" text-anchor="middle" fill="#262626" font-weight="normal" stroke="#262626" stroke-width="0.2" >Power</text>
<text transform="translate(133.6 374.1) rotate(-90) scale(1 1.1)" font-size="9.2" text-anchor="middle" fill="#262626" font-weight="normal" stroke="#262626" stroke-width="0.2" >(20 dB/div)</text>
<polyline points="242.4,399.3 272.4,399.3 273.4,399.2 274.2,398.9 274.7,398.1 275.1,397.1 275.4,395.2 275.8,392.5 276.3,386.4 277.6,368.2 277.9,365.3 278.1,364.7 278.3,364.7 278.5,365.3 278.8,368.2 280.1,386.4 280.8,394.0 281.2,396.3 281.5,397.7 281.9,398.5 282.2,398.9 283.0,399.2 284.0,399.3 314.0,399.3" fill="none" stroke="#3b7d3b" stroke-width="1.2" stroke-linejoin="round" />
<polyline points="242.4,399.0 263.6,399.0 267.5,399.0 269.1,398.8 270.2,398.5 271.1,398.1 271.8,397.4 272.5,396.3 273.3,394.6 274.0,391.9 274.5,389.0 275.4,382.0 277.2,363.4 277.8,359.8 278.1,358.8 278.3,358.8 278.5,359.1 279.0,361.9 281.0,382.0 281.9,389.0 282.4,391.9 283.1,394.6 283.9,396.3 284.6,397.4 285.3,398.1 286.2,398.5 287.3,398.8 288.9,399.0 292.8,399.0 314.0,399.0" fill="none" stroke="#c8282d" stroke-width="1.2" stroke-linejoin="round" />
<line x1="242.4" y1="348.9" x2="314" y2="348.9" stroke="#262626" stroke-width="1.0" />
<line x1="242.4" y1="399.3" x2="314" y2="399.3" stroke="#555" stroke-width="1.0" />
<line x1="242.4" y1="348.9" x2="242.4" y2="399.3" stroke="#c8282d" stroke-width="1.0" />
<line x1="314" y1="348.9" x2="314" y2="399.3" stroke="#3b7d3b" stroke-width="1.0" />
<line x1="278.2" y1="399.3" x2="278.2" y2="397.3" stroke="#262626" stroke-width="1.0" />
<line x1="278.2" y1="348.9" x2="278.2" y2="350.9" stroke="#262626" stroke-width="1.0" />
<line x1="242.4" y1="399.3" x2="244.4" y2="399.3" stroke="#c8282d" stroke-width="1.0" />
<text transform="translate(240.2 402.2) scale(1 1.1)" font-size="8" text-anchor="end" fill="#c8282d" font-weight="normal" stroke="#c8282d" stroke-width="0.2" >0</text>
<line x1="242.4" y1="357.3" x2="244.4" y2="357.3" stroke="#c8282d" stroke-width="1.0" />
<text transform="translate(240.2 360.2) scale(1 1.1)" font-size="8" text-anchor="end" fill="#c8282d" font-weight="normal" stroke="#c8282d" stroke-width="0.2" >5</text>
<line x1="314" y1="399.3" x2="312" y2="399.3" stroke="#3b7d3b" stroke-width="1.0" />
<text transform="translate(316.2 402.2) scale(1 1.1)" font-size="8" text-anchor="start" fill="#3b7d3b" font-weight="normal" stroke="#3b7d3b" stroke-width="0.2" >0</text>
<line x1="314" y1="367.8" x2="312" y2="367.8" stroke="#3b7d3b" stroke-width="1.0" />
<text transform="translate(316.2 370.7) scale(1 1.1)" font-size="8" text-anchor="start" fill="#3b7d3b" font-weight="normal" stroke="#3b7d3b" stroke-width="0.2" >50</text>
<text transform="translate(242.4 410) scale(1 1.1)" font-size="8" text-anchor="middle" fill="#262626" font-weight="normal" stroke="#262626" stroke-width="0.2" >-2</text>
<text transform="translate(278.2 410) scale(1 1.1)" font-size="8" text-anchor="middle" fill="#262626" font-weight="normal" stroke="#262626" stroke-width="0.2" >0</text>
<text transform="translate(314 410) scale(1 1.1)" font-size="8" text-anchor="middle" fill="#262626" font-weight="normal" stroke="#262626" stroke-width="0.2" >2</text>
<text transform="translate(278.2 420.9) scale(1 1.1)" font-size="9.2" text-anchor="middle" fill="#262626" font-weight="normal" stroke="#262626" stroke-width="0.2" >Time (ps)</text>
<text transform="translate(230.8 374.1) rotate(-90) scale(1 1.1)" font-size="9.2" text-anchor="middle" fill="#c8282d" font-weight="normal" stroke="#c8282d" stroke-width="0.2" >Power (kW)</text>
<text transform="translate(336.4 374.1) rotate(-90) scale(1 1.1)" font-size="9.2" text-anchor="middle" fill="#3b7d3b" font-weight="normal" stroke="#3b7d3b" stroke-width="0.2" >Power (W)</text>
<text transform="translate(278.2 344.3) scale(1 1.1)" font-size="9.2" text-anchor="middle" fill="#262626" font-weight="normal" stroke="#262626" stroke-width="0.2" >Simulated pulses</text>
<text transform="translate(2.5 341.8) scale(1 1.1)" font-size="10" text-anchor="middle" fill="#000" font-weight="bold" >g</text>
<polyline points="40.1,479.5 40.7,479.4 46.8,474.4 55.6,466.5 62.8,459.7 66.4,456.6 68.0,455.4 68.6,455.2 68.9,455.4 69.0,455.7 69.3,456.5 69.9,459.1 70.2,459.7 70.3,459.6 70.6,458.7 71.3,455.1 71.6,454.4 71.8,454.2 72.1,454.0 72.6,454.2 73.5,454.8 76.7,458.0 95.3,474.4 98.2,476.6 101.4,478.9 102.4,479.5 103.0,479.5" fill="none" stroke="#111" stroke-width="1.1" stroke-linejoin="round" stroke-dasharray="3.0 2.6" />
<polyline points="39.4,479.6 39.8,479.5 54.1,467.3 56.9,464.8 64.3,457.4 67.1,454.2 67.9,453.6 68.9,453.1 69.2,452.3 69.3,451.2 70.0,438.8 70.2,438.8 70.3,440.6 70.9,451.2 71.1,452.3 71.3,453.1 72.5,453.6 73.7,454.5 76.5,457.3 81.0,461.2 88.0,467.4 93.8,473.0 96.4,475.2 99.2,477.2 101.6,478.6 104.2,479.6 105.2,479.6" fill="none" stroke="#c8282d" stroke-width="1.35" stroke-linejoin="round" />
<rect x="33.6" y="429.5" width="72.3" height="50.4" stroke="#262626" stroke-width="1.0" fill="none"/>
<line x1="69.75" y1="479.9" x2="69.75" y2="477.9" stroke="#262626" stroke-width="1.0" />
<line x1="69.75" y1="429.5" x2="69.75" y2="431.5" stroke="#262626" stroke-width="1.0" />
<line x1="33.6" y1="442.1" x2="35.6" y2="442.1" stroke="#262626" stroke-width="1.0" />
<line x1="105.9" y1="442.1" x2="103.9" y2="442.1" stroke="#262626" stroke-width="1.0" />
<line x1="33.6" y1="454.7" x2="35.6" y2="454.7" stroke="#262626" stroke-width="1.0" />
<line x1="105.9" y1="454.7" x2="103.9" y2="454.7" stroke="#262626" stroke-width="1.0" />
<line x1="33.6" y1="467.3" x2="35.6" y2="467.3" stroke="#262626" stroke-width="1.0" />
<line x1="105.9" y1="467.3" x2="103.9" y2="467.3" stroke="#262626" stroke-width="1.0" />
<text transform="translate(33.6 490.6) scale(1 1.1)" font-size="8" text-anchor="middle" fill="#262626" font-weight="normal" stroke="#262626" stroke-width="0.2" >1530</text>
<text transform="translate(69.75 490.6) scale(1 1.1)" font-size="8" text-anchor="middle" fill="#262626" font-weight="normal" stroke="#262626" stroke-width="0.2" >1560</text>
<text transform="translate(105.9 490.6) scale(1 1.1)" font-size="8" text-anchor="middle" fill="#262626" font-weight="normal" stroke="#262626" stroke-width="0.2" >1590</text>
<text transform="translate(69.75 501.5) scale(1 1.1)" font-size="9.2" text-anchor="middle" fill="#262626" font-weight="normal" stroke="#262626" stroke-width="0.2" >Wavelength (nm)</text>
<text transform="translate(18.3 454.7) rotate(-90) scale(1 1.1)" font-size="9.2" text-anchor="middle" fill="#262626" font-weight="normal" stroke="#262626" stroke-width="0.2" >Power</text>
<text transform="translate(29.3 454.7) rotate(-90) scale(1 1.1)" font-size="9.2" text-anchor="middle" fill="#262626" font-weight="normal" stroke="#262626" stroke-width="0.2" >(20 dB/div)</text>
<text transform="translate(35.4 439.4) scale(1 1.1)" font-size="9.2" text-anchor="start" fill="#1a1a1a" font-weight="normal" stroke="#1a1a1a" stroke-width="0.2" >5.5 fs/mm</text>
<polyline points="157.2,479.5 157.4,479.2 157.8,476.9 160.3,462.9 162.1,455.5 163.4,451.2 164.4,448.7 165.4,446.6 166.4,444.8 167.3,443.6 168.2,442.6 170.1,441.0 171.1,440.3 172.1,439.9 172.6,439.9 172.9,440.0 173.2,440.5 173.3,440.9 173.6,442.4 174.2,447.1 174.5,448.6 174.6,448.7 174.8,448.3 175.5,443.5 175.8,442.4 176.0,442.1 176.2,442.0 177.1,442.7 178.6,444.3 179.8,446.3 181.9,451.0 184.7,458.0 185.3,459.2 185.9,460.2 187.1,461.4 188.4,462.5 190.6,464.1 193.2,465.6 194.4,466.5 196.4,468.6 198.6,471.4" fill="none" stroke="#111" stroke-width="1.1" stroke-linejoin="round" stroke-dasharray="3.0 2.6" />
<polygon points="138.00,479.40 138.00,472.37 138.40,474.05 138.80,472.54 139.20,476.40 139.60,473.32 140.00,474.08 140.40,473.25 140.80,473.98 141.20,473.02 141.60,474.36 142.00,472.59 142.40,475.79 142.80,473.04 143.20,474.58 143.60,471.90 144.00,473.83 144.40,475.06 144.80,474.71 145.20,473.24 145.60,475.01 146.00,474.30 146.40,474.61 146.80,474.32 147.20,473.85 147.60,472.72 148.00,474.33 148.40,472.26 148.80,473.44 149.20,473.44 149.60,475.40 150.00,471.35 150.40,472.20 150.80,474.60 151.20,472.62 151.60,472.66 152.00,473.40 152.40,469.67 152.80,470.86 153.20,468.88 153.60,469.69 153.60,479.40" fill="#3b7d3b" stroke="#3b7d3b" stroke-width="0.6" stroke-linejoin="round"/>
<polygon points="196.49,479.40 196.49,470.83 196.89,472.59 197.29,471.19 197.69,472.76 198.09,473.45 198.49,474.12 198.89,473.47 199.29,473.98 199.69,475.34 200.09,474.47 200.49,473.36 200.89,474.37 201.29,476.52 201.69,475.13 202.09,475.28 202.49,474.54 202.89,474.69 203.29,474.49 203.69,472.92 204.09,475.11 204.49,474.04 204.89,476.20 205.29,476.24 205.69,475.85 206.09,476.31 206.49,475.02 206.89,472.22 207.29,476.43 207.69,476.09 208.09,476.71 208.49,476.97 208.89,476.06 209.29,476.13 209.69,474.23 210.09,475.95 210.09,479.40" fill="#3b7d3b" stroke="#3b7d3b" stroke-width="0.6" stroke-linejoin="round"/>
<polyline points="153.9,469.8 154.3,469.6 154.9,469.0 155.6,467.7 156.2,466.5 156.8,464.2 159.6,450.4 160.5,447.6 161.5,445.4 162.4,444.0 163.4,442.9 165.3,441.3 167.0,440.2 168.1,439.7 169.1,439.3 171.4,438.9 173.5,438.8 173.6,438.7 173.9,437.4 174.3,433.8 174.5,434.0 175.1,440.2 175.4,441.4 177.4,444.9 184.7,458.1 186.2,460.3 187.4,461.7 188.8,463.1 192.0,465.5 193.3,466.6 194.7,468.1 196.4,470.3" fill="none" stroke="#3b7d3b" stroke-width="1.3" stroke-linejoin="round" />
<rect x="137.5" y="429.5" width="73.1" height="50.4" stroke="#262626" stroke-width="1.0" fill="none"/>
<line x1="174.05" y1="479.9" x2="174.05" y2="477.9" stroke="#262626" stroke-width="1.0" />
<line x1="174.05" y1="429.5" x2="174.05" y2="431.5" stroke="#262626" stroke-width="1.0" />
<line x1="137.5" y1="446.3" x2="139.5" y2="446.3" stroke="#262626" stroke-width="1.0" />
<line x1="210.6" y1="446.3" x2="208.6" y2="446.3" stroke="#262626" stroke-width="1.0" />
<line x1="137.5" y1="463.1" x2="139.5" y2="463.1" stroke="#262626" stroke-width="1.0" />
<line x1="210.6" y1="463.1" x2="208.6" y2="463.1" stroke="#262626" stroke-width="1.0" />
<text transform="translate(137.5 490.6) scale(1 1.1)" font-size="8" text-anchor="middle" fill="#262626" font-weight="normal" stroke="#262626" stroke-width="0.2" >765</text>
<text transform="translate(174.05 490.6) scale(1 1.1)" font-size="8" text-anchor="middle" fill="#262626" font-weight="normal" stroke="#262626" stroke-width="0.2" >780</text>
<text transform="translate(210.6 490.6) scale(1 1.1)" font-size="8" text-anchor="middle" fill="#262626" font-weight="normal" stroke="#262626" stroke-width="0.2" >795</text>
<text transform="translate(174.05 501.5) scale(1 1.1)" font-size="9.2" text-anchor="middle" fill="#262626" font-weight="normal" stroke="#262626" stroke-width="0.2" >Wavelength (nm)</text>
<text transform="translate(122.2 454.7) rotate(-90) scale(1 1.1)" font-size="9.2" text-anchor="middle" fill="#262626" font-weight="normal" stroke="#262626" stroke-width="0.2" >Power</text>
<text transform="translate(133.6 454.7) rotate(-90) scale(1 1.1)" font-size="9.2" text-anchor="middle" fill="#262626" font-weight="normal" stroke="#262626" stroke-width="0.2" >(20 dB/div)</text>
<polyline points="242.4,479.9 272.9,479.9 274.2,479.8 274.9,479.4 275.4,478.7 275.8,477.8 276.1,476.4 276.5,474.4 277.2,468.2 278.5,454.5 278.8,451.9 279.2,450.7 279.4,450.7 279.5,451.1 280.1,454.5 281.3,468.3 282.1,474.4 282.4,476.4 282.8,477.8 283.1,478.7 283.7,479.5 284.4,479.8 285.6,479.9 314.0,479.9" fill="none" stroke="#3b7d3b" stroke-width="1.2" stroke-linejoin="round" />
<polyline points="242.4,478.6 263.6,478.6 267.5,478.6 269.0,478.4 270.0,478.1 270.9,477.6 271.7,476.9 272.4,475.7 273.1,473.7 273.6,471.4 274.2,468.3 274.7,464.1 275.2,458.7 277.0,437.2 277.6,433.7 277.8,433.3 277.9,433.3 278.3,434.5 278.8,438.9 280.4,458.7 281.3,467.0 281.9,470.5 282.6,473.7 283.3,475.7 284.0,476.9 284.7,477.6 285.6,478.1 286.7,478.4 288.2,478.6 292.1,478.6 314.0,478.6" fill="none" stroke="#c8282d" stroke-width="1.2" stroke-linejoin="round" />
<line x1="242.4" y1="429.5" x2="314" y2="429.5" stroke="#262626" stroke-width="1.0" />
<line x1="242.4" y1="479.9" x2="314" y2="479.9" stroke="#555" stroke-width="1.0" />
<line x1="242.4" y1="429.5" x2="242.4" y2="479.9" stroke="#c8282d" stroke-width="1.0" />
<line x1="314" y1="429.5" x2="314" y2="479.9" stroke="#3b7d3b" stroke-width="1.0" />
<line x1="278.2" y1="479.9" x2="278.2" y2="477.9" stroke="#262626" stroke-width="1.0" />
<line x1="278.2" y1="429.5" x2="278.2" y2="431.5" stroke="#262626" stroke-width="1.0" />
<line x1="242.4" y1="479.9" x2="244.4" y2="479.9" stroke="#c8282d" stroke-width="1.0" />
<text transform="translate(240.2 482.8) scale(1 1.1)" font-size="8" text-anchor="end" fill="#c8282d" font-weight="normal" stroke="#c8282d" stroke-width="0.2" >0</text>
<line x1="242.4" y1="454.7" x2="244.4" y2="454.7" stroke="#c8282d" stroke-width="1.0" />
<text transform="translate(240.2 457.6) scale(1 1.1)" font-size="8" text-anchor="end" fill="#c8282d" font-weight="normal" stroke="#c8282d" stroke-width="0.2" >2</text>
<line x1="242.4" y1="429.5" x2="244.4" y2="429.5" stroke="#c8282d" stroke-width="1.0" />
<text transform="translate(240.2 432.4) scale(1 1.1)" font-size="8" text-anchor="end" fill="#c8282d" font-weight="normal" stroke="#c8282d" stroke-width="0.2" >4</text>
<line x1="314" y1="479.9" x2="312" y2="479.9" stroke="#3b7d3b" stroke-width="1.0" />
<text transform="translate(316.2 482.8) scale(1 1.1)" font-size="8" text-anchor="start" fill="#3b7d3b" font-weight="normal" stroke="#3b7d3b" stroke-width="0.2" >0</text>
<line x1="314" y1="449.66" x2="312" y2="449.66" stroke="#3b7d3b" stroke-width="1.0" />
<text transform="translate(316.2 452.56) scale(1 1.1)" font-size="8" text-anchor="start" fill="#3b7d3b" font-weight="normal" stroke="#3b7d3b" stroke-width="0.2" >30</text>
<text transform="translate(242.4 490.6) scale(1 1.1)" font-size="8" text-anchor="middle" fill="#262626" font-weight="normal" stroke="#262626" stroke-width="0.2" >-2</text>
<text transform="translate(278.2 490.6) scale(1 1.1)" font-size="8" text-anchor="middle" fill="#262626" font-weight="normal" stroke="#262626" stroke-width="0.2" >0</text>
<text transform="translate(314 490.6) scale(1 1.1)" font-size="8" text-anchor="middle" fill="#262626" font-weight="normal" stroke="#262626" stroke-width="0.2" >2</text>
<text transform="translate(278.2 501.5) scale(1 1.1)" font-size="9.2" text-anchor="middle" fill="#262626" font-weight="normal" stroke="#262626" stroke-width="0.2" >Time (ps)</text>
<text transform="translate(230.8 451.7) rotate(-90) scale(1 1.1)" font-size="9.2" text-anchor="middle" fill="#c8282d" font-weight="normal" stroke="#c8282d" stroke-width="0.2" >Power (kW)</text>
<text transform="translate(336.4 454.7) rotate(-90) scale(1 1.1)" font-size="9.2" text-anchor="middle" fill="#3b7d3b" font-weight="normal" stroke="#3b7d3b" stroke-width="0.2" >Power (W)</text>
<text transform="translate(2.5 427.7) scale(1 1.1)" font-size="10" text-anchor="middle" fill="#000" font-weight="bold" >h</text>
<polyline points="40.8,558.4 43.6,556.7 46.3,554.9 49.4,552.7 52.4,550.2 55.9,547.0 62.8,539.9 66.0,535.9 67.0,534.8 68.2,533.9 69.9,533.3 70.3,533.2 72.4,533.9 73.2,534.4 76.8,537.1 84.4,541.8 88.5,544.3 90.9,545.9 93.5,548.3 96.8,551.6 100.7,556.0 104.2,560.5 104.5,560.5" fill="none" stroke="#111" stroke-width="1.1" stroke-linejoin="round" stroke-dasharray="3.0 2.6" />
<polyline points="42.3,560.6 42.7,560.6 42.9,560.5 46.6,557.7 50.1,554.8 53.1,551.9 56.3,548.5 62.8,540.9 66.9,535.4 67.7,534.5 68.9,533.6 69.2,532.8 69.3,531.8 69.9,522.0 70.0,520.3 70.2,520.3 70.9,531.4 71.1,532.4 71.3,533.1 72.4,533.4 73.1,533.8 76.8,536.6 83.5,540.3 88.1,543.0 91.0,545.0 93.3,546.7 95.2,548.4 96.5,549.9 104.2,560.5 104.5,560.6" fill="none" stroke="#c8282d" stroke-width="1.35" stroke-linejoin="round" />
<rect x="33.6" y="510.5" width="72.3" height="50.4" stroke="#262626" stroke-width="1.0" fill="none"/>
<line x1="69.75" y1="560.9" x2="69.75" y2="558.9" stroke="#262626" stroke-width="1.0" />
<line x1="69.75" y1="510.5" x2="69.75" y2="512.5" stroke="#262626" stroke-width="1.0" />
<line x1="33.6" y1="523.1" x2="35.6" y2="523.1" stroke="#262626" stroke-width="1.0" />
<line x1="105.9" y1="523.1" x2="103.9" y2="523.1" stroke="#262626" stroke-width="1.0" />
<line x1="33.6" y1="535.7" x2="35.6" y2="535.7" stroke="#262626" stroke-width="1.0" />
<line x1="105.9" y1="535.7" x2="103.9" y2="535.7" stroke="#262626" stroke-width="1.0" />
<line x1="33.6" y1="548.3" x2="35.6" y2="548.3" stroke="#262626" stroke-width="1.0" />
<line x1="105.9" y1="548.3" x2="103.9" y2="548.3" stroke="#262626" stroke-width="1.0" />
<text transform="translate(33.6 571.6) scale(1 1.1)" font-size="8" text-anchor="middle" fill="#262626" font-weight="normal" stroke="#262626" stroke-width="0.2" >1520</text>
<text transform="translate(69.75 571.6) scale(1 1.1)" font-size="8" text-anchor="middle" fill="#262626" font-weight="normal" stroke="#262626" stroke-width="0.2" >1550</text>
<text transform="translate(105.9 571.6) scale(1 1.1)" font-size="8" text-anchor="middle" fill="#262626" font-weight="normal" stroke="#262626" stroke-width="0.2" >1580</text>
<text transform="translate(69.75 582.5) scale(1 1.1)" font-size="9.2" text-anchor="middle" fill="#262626" font-weight="normal" stroke="#262626" stroke-width="0.2" >Wavelength (nm)</text>
<text transform="translate(18.3 535.7) rotate(-90) scale(1 1.1)" font-size="9.2" text-anchor="middle" fill="#262626" font-weight="normal" stroke="#262626" stroke-width="0.2" >Power</text>
<text transform="translate(29.3 535.7) rotate(-90) scale(1 1.1)" font-size="9.2" text-anchor="middle" fill="#262626" font-weight="normal" stroke="#262626" stroke-width="0.2" >(20 dB/div)</text>
<text transform="translate(35.4 520.4) scale(1 1.1)" font-size="9.2" text-anchor="start" fill="#1a1a1a" font-weight="normal" stroke="#1a1a1a" stroke-width="0.2" >11 fs/mm</text>
<polyline points="156.5,545.3 158.3,545.5 159.3,545.8 159.4,546.0 159.9,547.8 160.9,554.6 161.2,555.9 161.3,556.3 161.5,556.4 161.6,556.1 161.9,553.9 163.1,538.2 164.1,531.9 165.1,527.2 166.0,524.5 166.4,523.7 166.9,523.2 167.9,522.1 168.8,521.4 169.7,521.0 170.5,520.9 171.1,521.3 171.7,522.3 172.4,524.1 173.0,526.1 173.5,531.0 174.3,548.0 174.6,551.7 174.8,552.6 174.9,552.7 175.1,552.1 175.4,548.9 176.4,531.2 176.8,526.2 177.1,525.3 178.0,523.9 178.7,523.3 179.3,523.1 179.9,523.2 180.5,523.5 181.2,524.0 181.9,524.8 183.1,526.3 187.2,532.2 191.9,539.8 195.8,546.9 199.8,553.6" fill="none" stroke="#111" stroke-width="1.1" stroke-linejoin="round" stroke-dasharray="3.0 2.6" />
<polygon points="138.00,560.40 138.00,558.44 138.40,558.19 138.80,556.11 139.20,558.36 139.60,554.05 140.00,557.33 140.40,555.25 140.80,554.08 141.20,555.33 141.60,554.71 142.00,556.18 142.40,555.33 142.80,555.71 143.20,555.87 143.60,554.96 144.00,553.51 144.40,557.91 144.80,553.65 145.20,554.76 145.60,555.23 146.00,554.15 146.40,554.19 146.80,555.93 147.20,552.35 147.60,556.28 148.00,555.27 148.40,554.54 148.80,557.19 149.20,556.97 149.60,556.89 150.00,554.84 150.40,554.21 150.80,554.49 151.20,552.62 151.60,557.62 152.00,554.97 152.40,552.48 152.80,555.03 153.20,555.39 153.20,560.40" fill="#3b7d3b" stroke="#3b7d3b" stroke-width="0.6" stroke-linejoin="round"/>
<polygon points="199.78,560.40 199.78,553.72 200.18,555.91 200.58,555.83 200.98,554.57 201.38,554.78 201.78,557.11 202.18,556.23 202.58,556.26 202.98,556.22 203.38,556.44 203.78,556.46 204.18,554.08 204.58,557.61 204.98,558.17 205.38,557.34 205.78,555.97 206.18,554.54 206.58,557.21 206.98,556.02 207.38,558.25 207.78,556.62 208.18,558.26 208.58,557.45 208.98,556.64 209.38,561.25 209.78,556.95 209.78,560.40" fill="#3b7d3b" stroke="#3b7d3b" stroke-width="0.6" stroke-linejoin="round"/>
<polyline points="153.3,554.4 154.0,551.7 154.6,549.9 155.5,548.0 156.2,546.7 156.8,546.0 157.2,545.7 159.1,545.1 159.9,544.7 160.2,544.4 160.5,543.8 161.0,542.0 162.4,537.2 163.7,531.6 164.3,529.4 165.6,526.0 166.7,523.7 168.2,521.6 169.1,520.5 170.0,519.9 170.7,519.9 171.6,520.3 172.6,521.4 172.9,522.1 173.5,524.8 173.6,525.2 173.8,525.2 173.9,524.4 174.3,519.5 174.5,519.4 174.9,524.4 175.1,525.4 175.2,525.9 175.4,525.8 176.0,524.9 178.3,522.0 179.2,521.4 179.9,521.2 180.6,521.5 181.4,522.1 184.1,525.9 186.3,529.4 192.5,540.3 196.1,547.3 199.8,554.7" fill="none" stroke="#3b7d3b" stroke-width="1.3" stroke-linejoin="round" />
<rect x="137.5" y="510.5" width="73.1" height="50.4" stroke="#262626" stroke-width="1.0" fill="none"/>
<line x1="174.05" y1="560.9" x2="174.05" y2="558.9" stroke="#262626" stroke-width="1.0" />
<line x1="174.05" y1="510.5" x2="174.05" y2="512.5" stroke="#262626" stroke-width="1.0" />
<line x1="137.5" y1="527.3" x2="139.5" y2="527.3" stroke="#262626" stroke-width="1.0" />
<line x1="210.6" y1="527.3" x2="208.6" y2="527.3" stroke="#262626" stroke-width="1.0" />
<line x1="137.5" y1="544.1" x2="139.5" y2="544.1" stroke="#262626" stroke-width="1.0" />
<line x1="210.6" y1="544.1" x2="208.6" y2="544.1" stroke="#262626" stroke-width="1.0" />
<text transform="translate(137.5 571.6) scale(1 1.1)" font-size="8" text-anchor="middle" fill="#262626" font-weight="normal" stroke="#262626" stroke-width="0.2" >760</text>
<text transform="translate(174.05 571.6) scale(1 1.1)" font-size="8" text-anchor="middle" fill="#262626" font-weight="normal" stroke="#262626" stroke-width="0.2" >775</text>
<text transform="translate(210.6 571.6) scale(1 1.1)" font-size="8" text-anchor="middle" fill="#262626" font-weight="normal" stroke="#262626" stroke-width="0.2" >790</text>
<text transform="translate(174.05 582.5) scale(1 1.1)" font-size="9.2" text-anchor="middle" fill="#262626" font-weight="normal" stroke="#262626" stroke-width="0.2" >Wavelength (nm)</text>
<text transform="translate(122.2 535.7) rotate(-90) scale(1 1.1)" font-size="9.2" text-anchor="middle" fill="#262626" font-weight="normal" stroke="#262626" stroke-width="0.2" >Power</text>
<text transform="translate(133.6 535.7) rotate(-90) scale(1 1.1)" font-size="9.2" text-anchor="middle" fill="#262626" font-weight="normal" stroke="#262626" stroke-width="0.2" >(20 dB/div)</text>
<polyline points="242.4,560.9 272.5,560.9 273.4,560.9 274.0,560.7 274.3,560.3 274.7,559.4 275.2,556.3 275.8,550.4 276.9,534.4 277.2,532.0 277.4,532.0 277.6,532.8 277.9,536.4 278.8,550.3 279.2,554.6 279.5,557.4 279.7,558.3 279.9,558.9 280.1,559.1 280.3,559.1 280.4,558.8 280.6,558.2 281.0,556.1 282.2,542.7 282.6,540.1 282.8,539.5 283.0,539.6 283.3,541.4 284.4,553.2 284.9,557.6 285.5,559.8 286.0,560.6 286.5,560.8 287.4,560.9 314.0,560.9" fill="none" stroke="#3b7d3b" stroke-width="1.2" stroke-linejoin="round" />
<polyline points="242.4,559.6 263.9,559.6 267.9,559.6 269.3,559.4 270.4,559.1 271.3,558.7 272.0,558.0 272.7,556.9 273.4,555.1 274.2,552.2 274.7,549.0 275.6,541.3 277.2,523.2 277.8,519.2 278.1,518.1 278.3,518.1 278.5,518.5 279.0,521.6 280.8,541.3 281.3,546.3 281.9,550.2 282.4,553.0 283.0,555.1 283.7,556.9 284.4,558.0 285.1,558.7 286.0,559.1 287.1,559.4 288.5,559.6 292.5,559.6 314.0,559.6" fill="none" stroke="#c8282d" stroke-width="1.2" stroke-linejoin="round" />
<line x1="242.4" y1="510.5" x2="314" y2="510.5" stroke="#262626" stroke-width="1.0" />
<line x1="242.4" y1="560.9" x2="314" y2="560.9" stroke="#555" stroke-width="1.0" />
<line x1="242.4" y1="510.5" x2="242.4" y2="560.9" stroke="#c8282d" stroke-width="1.0" />
<line x1="314" y1="510.5" x2="314" y2="560.9" stroke="#3b7d3b" stroke-width="1.0" />
<line x1="278.2" y1="560.9" x2="278.2" y2="558.9" stroke="#262626" stroke-width="1.0" />
<line x1="278.2" y1="510.5" x2="278.2" y2="512.5" stroke="#262626" stroke-width="1.0" />
<line x1="242.4" y1="560.9" x2="244.4" y2="560.9" stroke="#c8282d" stroke-width="1.0" />
<text transform="translate(240.2 563.8) scale(1 1.1)" font-size="8" text-anchor="end" fill="#c8282d" font-weight="normal" stroke="#c8282d" stroke-width="0.2" >0</text>
<line x1="242.4" y1="535.7" x2="244.4" y2="535.7" stroke="#c8282d" stroke-width="1.0" />
<text transform="translate(240.2 538.6) scale(1 1.1)" font-size="8" text-anchor="end" fill="#c8282d" font-weight="normal" stroke="#c8282d" stroke-width="0.2" >2</text>
<line x1="242.4" y1="510.5" x2="244.4" y2="510.5" stroke="#c8282d" stroke-width="1.0" />
<text transform="translate(240.2 513.4) scale(1 1.1)" font-size="8" text-anchor="end" fill="#c8282d" font-weight="normal" stroke="#c8282d" stroke-width="0.2" >4</text>
<line x1="314" y1="560.9" x2="312" y2="560.9" stroke="#3b7d3b" stroke-width="1.0" />
<text transform="translate(316.2 563.8) scale(1 1.1)" font-size="8" text-anchor="start" fill="#3b7d3b" font-weight="normal" stroke="#3b7d3b" stroke-width="0.2" >0</text>
<line x1="314" y1="535.7" x2="312" y2="535.7" stroke="#3b7d3b" stroke-width="1.0" />
<text transform="translate(316.2 538.6) scale(1 1.1)" font-size="8" text-anchor="start" fill="#3b7d3b" font-weight="normal" stroke="#3b7d3b" stroke-width="0.2" >20</text>
<text transform="translate(242.4 571.6) scale(1 1.1)" font-size="8" text-anchor="middle" fill="#262626" font-weight="normal" stroke="#262626" stroke-width="0.2" >-2</text>
<text transform="translate(278.2 571.6) scale(1 1.1)" font-size="8" text-anchor="middle" fill="#262626" font-weight="normal" stroke="#262626" stroke-width="0.2" >0</text>
<text transform="translate(314 571.6) scale(1 1.1)" font-size="8" text-anchor="middle" fill="#262626" font-weight="normal" stroke="#262626" stroke-width="0.2" >2</text>
<text transform="translate(278.2 582.5) scale(1 1.1)" font-size="9.2" text-anchor="middle" fill="#262626" font-weight="normal" stroke="#262626" stroke-width="0.2" >Time (ps)</text>
<text transform="translate(230.8 535.7) rotate(-90) scale(1 1.1)" font-size="9.2" text-anchor="middle" fill="#c8282d" font-weight="normal" stroke="#c8282d" stroke-width="0.2" >Power (kW)</text>
<text transform="translate(336.4 535.7) rotate(-90) scale(1 1.1)" font-size="9.2" text-anchor="middle" fill="#3b7d3b" font-weight="normal" stroke="#3b7d3b" stroke-width="0.2" >Power (W)</text>
<text transform="translate(2.5 507.2) scale(1 1.1)" font-size="10" text-anchor="middle" fill="#000" font-weight="bold" >i</text>
<line x1="33" y1="341" x2="48.2" y2="341" stroke="#c8282d" stroke-width="1.0" />
<text transform="translate(50.8 344.3) scale(1 1.1)" font-size="9.2" text-anchor="start" fill="#262626" font-weight="normal" stroke="#262626" stroke-width="0.2" >FF</text>
<line x1="78" y1="341" x2="92.9" y2="341" stroke="#3b7d3b" stroke-width="1.0" />
<text transform="translate(94.6 344.3) scale(1 1.1)" font-size="9.2" text-anchor="start" fill="#262626" font-weight="normal" stroke="#262626" stroke-width="0.2" >SH</text>
<line x1="124" y1="341.4" x2="140.1" y2="341.4" stroke="#111" stroke-width="1.2" stroke-dasharray="3.3 3.0"/>
<text transform="translate(141.4 344.8) scale(1 1.1)" font-size="9.2" text-anchor="start" fill="#262626" font-weight="normal" stroke="#262626" stroke-width="0.2" >Theory</text>
<polyline points="384.3,398.9 384.9,398.9 389.8,395.4 398.4,389.1 404.7,384.1 406.8,382.3 410.4,378.4 411.7,377.1 413.3,375.8 415.3,374.9 415.7,374.4 416.3,373.4 416.6,373.1 416.9,373.3 417.7,374.9 418.2,375.4 421.1,376.8 422.4,377.6 424.0,378.7 429.6,383.4 434.9,387.5 439.1,390.8 443.6,394.6 448.3,398.9 448.5,398.9" fill="none" stroke="#111" stroke-width="1.1" stroke-linejoin="round" stroke-dasharray="3.0 2.6" />
<polyline points="385.1,399.0 385.5,399.0 389.3,396.3 396.2,391.2 402.3,386.6 406.3,383.3 410.5,378.7 412.1,377.2 413.5,376.2 415.3,375.5 415.6,374.6 415.7,373.4 416.4,359.7 416.6,359.8 416.7,361.8 417.3,373.7 417.6,375.5 417.9,376.0 419.8,376.7 423.1,378.5 426.7,380.1 428.3,381.0 430.2,382.2 432.9,384.3 436.1,387.1 436.8,387.6 437.6,387.9 439.3,388.5 440.7,388.7 446.5,389.1 452.2,389.2" fill="none" stroke="#c8282d" stroke-width="1.35" stroke-linejoin="round" />
<rect x="380" y="348.9" width="72.3" height="50.4" stroke="#262626" stroke-width="1.0" fill="none"/>
<line x1="416.15" y1="399.3" x2="416.15" y2="397.3" stroke="#262626" stroke-width="1.0" />
<line x1="416.15" y1="348.9" x2="416.15" y2="350.9" stroke="#262626" stroke-width="1.0" />
<line x1="380" y1="361.5" x2="382" y2="361.5" stroke="#262626" stroke-width="1.0" />
<line x1="452.3" y1="361.5" x2="450.3" y2="361.5" stroke="#262626" stroke-width="1.0" />
<line x1="380" y1="374.1" x2="382" y2="374.1" stroke="#262626" stroke-width="1.0" />
<line x1="452.3" y1="374.1" x2="450.3" y2="374.1" stroke="#262626" stroke-width="1.0" />
<line x1="380" y1="386.7" x2="382" y2="386.7" stroke="#262626" stroke-width="1.0" />
<line x1="452.3" y1="386.7" x2="450.3" y2="386.7" stroke="#262626" stroke-width="1.0" />
<text transform="translate(380 410) scale(1 1.1)" font-size="8" text-anchor="middle" fill="#262626" font-weight="normal" stroke="#262626" stroke-width="0.2" >1540</text>
<text transform="translate(416.15 410) scale(1 1.1)" font-size="8" text-anchor="middle" fill="#262626" font-weight="normal" stroke="#262626" stroke-width="0.2" >1570</text>
<text transform="translate(452.3 410) scale(1 1.1)" font-size="8" text-anchor="middle" fill="#262626" font-weight="normal" stroke="#262626" stroke-width="0.2" >1600</text>
<text transform="translate(416.15 420.9) scale(1 1.1)" font-size="9.2" text-anchor="middle" fill="#262626" font-weight="normal" stroke="#262626" stroke-width="0.2" >Wavelength (nm)</text>
<text transform="translate(364.7 374.1) rotate(-90) scale(1 1.1)" font-size="9.2" text-anchor="middle" fill="#262626" font-weight="normal" stroke="#262626" stroke-width="0.2" >Power</text>
<text transform="translate(375.7 374.1) rotate(-90) scale(1 1.1)" font-size="9.2" text-anchor="middle" fill="#262626" font-weight="normal" stroke="#262626" stroke-width="0.2" >(20 dB/div)</text>
<text transform="translate(382.8 361.4) scale(1 1.1)" font-size="9.2" text-anchor="start" fill="#1a1a1a" font-weight="normal" stroke="#1a1a1a" stroke-width="0.2" font-family="Liberation Serif">&#958;</text>
<text transform="translate(387.2 361.4) scale(1 1.1)" font-size="9.2" text-anchor="start" fill="#1a1a1a" font-weight="normal" stroke="#1a1a1a" stroke-width="0.2" >=-1.4&#960;</text>
<polyline points="499.3,394.8 500.3,393.1 501.3,392.0 501.9,391.6 502.5,391.4 503.2,391.3 503.8,391.3 504.2,391.6 504.8,392.5 506.6,396.5 507.1,397.6 507.7,398.2 508.0,398.3 508.2,398.1 508.5,396.8 508.8,394.6 509.6,385.8 510.1,382.4 510.7,380.0 511.4,377.6 512.8,373.8 514.2,371.3 516.8,367.2 518.0,365.9 518.5,365.6 519.0,365.5 519.1,365.7 519.3,366.3 519.6,368.2 520.7,379.7 521.0,381.1 521.2,381.2 521.3,380.9 521.6,379.2 522.9,367.1 523.2,365.7 523.4,365.5 524.0,365.7 524.7,366.3 525.4,367.2 526.2,368.3 529.2,373.8 530.1,375.7 531.0,378.1 531.7,380.5 532.3,382.9 532.7,386.2 533.6,394.8 533.9,396.9 534.2,398.1 534.3,398.3 534.5,398.3 534.8,398.0 535.1,397.6 535.7,396.4 537.0,393.0 537.4,392.2 537.8,391.8 538.9,391.8 539.9,392.3 540.8,393.2 541.6,394.8" fill="none" stroke="#111" stroke-width="1.1" stroke-linejoin="round" stroke-dasharray="3.0 2.6" />
<polyline points="496.0,399.0 496.2,399.0 498.5,396.0 500.6,393.7 501.7,392.7 504.5,390.4 506.0,389.0 507.1,387.6 508.2,386.1 508.6,385.3 509.2,383.7 511.2,377.2 511.8,375.8 512.7,374.1 514.0,371.9 516.9,367.4 517.4,366.9 518.5,365.9 519.1,365.6 519.9,365.3 520.0,364.9 520.3,362.5 520.7,355.7 520.9,355.7 521.5,364.2 521.8,365.5 522.8,366.1 525.0,368.5 526.3,370.1 527.5,371.8 528.6,374.2 531.4,381.0 534.0,386.6 535.4,388.9 535.9,389.6 536.4,390.0 537.1,390.4 539.3,391.4 540.8,392.6 541.6,393.7 542.7,395.1 544.9,398.9 545.0,399.0" fill="none" stroke="#3b7d3b" stroke-width="1.3" stroke-linejoin="round" />
<rect x="483.9" y="348.9" width="73.1" height="50.4" stroke="#262626" stroke-width="1.0" fill="none"/>
<line x1="520.45" y1="399.3" x2="520.45" y2="397.3" stroke="#262626" stroke-width="1.0" />
<line x1="520.45" y1="348.9" x2="520.45" y2="350.9" stroke="#262626" stroke-width="1.0" />
<line x1="483.9" y1="365.7" x2="485.9" y2="365.7" stroke="#262626" stroke-width="1.0" />
<line x1="557" y1="365.7" x2="555" y2="365.7" stroke="#262626" stroke-width="1.0" />
<line x1="483.9" y1="382.5" x2="485.9" y2="382.5" stroke="#262626" stroke-width="1.0" />
<line x1="557" y1="382.5" x2="555" y2="382.5" stroke="#262626" stroke-width="1.0" />
<text transform="translate(483.9 410) scale(1 1.1)" font-size="8" text-anchor="middle" fill="#262626" font-weight="normal" stroke="#262626" stroke-width="0.2" >770</text>
<text transform="translate(520.45 410) scale(1 1.1)" font-size="8" text-anchor="middle" fill="#262626" font-weight="normal" stroke="#262626" stroke-width="0.2" >785</text>
<text transform="translate(557 410) scale(1 1.1)" font-size="8" text-anchor="middle" fill="#262626" font-weight="normal" stroke="#262626" stroke-width="0.2" >800</text>
<text transform="translate(520.45 420.9) scale(1 1.1)" font-size="9.2" text-anchor="middle" fill="#262626" font-weight="normal" stroke="#262626" stroke-width="0.2" >Wavelength (nm)</text>
<text transform="translate(468.6 374.1) rotate(-90) scale(1 1.1)" font-size="9.2" text-anchor="middle" fill="#262626" font-weight="normal" stroke="#262626" stroke-width="0.2" >Power</text>
<text transform="translate(480 374.1) rotate(-90) scale(1 1.1)" font-size="9.2" text-anchor="middle" fill="#262626" font-weight="normal" stroke="#262626" stroke-width="0.2" >(20 dB/div)</text>
<polyline points="588.8,399.3 618.1,399.3 619.3,399.1 620.0,398.6 620.6,397.7 620.9,396.6 621.3,394.9 621.6,392.4 622.4,385.2 623.8,366.5 624.2,363.5 624.5,362.2 624.7,362.2 624.9,362.6 625.4,366.5 626.8,385.2 627.6,392.4 627.9,394.9 628.3,396.6 628.6,397.7 629.2,398.6 629.9,399.1 631.1,399.3 660.4,399.3" fill="none" stroke="#3b7d3b" stroke-width="1.2" stroke-linejoin="round" />
<polyline points="588.8,396.9 608.5,396.9 612.8,396.9 614.5,396.7 615.7,396.4 616.6,395.9 617.5,395.1 618.4,393.8 619.1,392.0 619.8,389.4 620.4,386.7 621.5,379.0 623.6,357.9 624.2,354.8 624.5,354.0 624.7,354.0 625.0,354.8 625.6,357.9 627.7,379.0 628.8,386.7 629.4,389.4 630.1,392.0 630.8,393.8 631.7,395.1 632.6,395.9 633.5,396.4 634.7,396.7 636.4,396.9 640.7,396.9 660.4,396.9" fill="none" stroke="#c8282d" stroke-width="1.2" stroke-linejoin="round" />
<line x1="588.8" y1="348.9" x2="660.4" y2="348.9" stroke="#262626" stroke-width="1.0" />
<line x1="588.8" y1="399.3" x2="660.4" y2="399.3" stroke="#555" stroke-width="1.0" />
<line x1="588.8" y1="348.9" x2="588.8" y2="399.3" stroke="#c8282d" stroke-width="1.0" />
<line x1="660.4" y1="348.9" x2="660.4" y2="399.3" stroke="#3b7d3b" stroke-width="1.0" />
<line x1="624.6" y1="399.3" x2="624.6" y2="397.3" stroke="#262626" stroke-width="1.0" />
<line x1="624.6" y1="348.9" x2="624.6" y2="350.9" stroke="#262626" stroke-width="1.0" />
<line x1="588.8" y1="399.3" x2="590.8" y2="399.3" stroke="#c8282d" stroke-width="1.0" />
<text transform="translate(586.6 402.2) scale(1 1.1)" font-size="8" text-anchor="end" fill="#c8282d" font-weight="normal" stroke="#c8282d" stroke-width="0.2" >0</text>
<line x1="588.8" y1="365.7" x2="590.8" y2="365.7" stroke="#c8282d" stroke-width="1.0" />
<text transform="translate(586.6 368.6) scale(1 1.1)" font-size="8" text-anchor="end" fill="#c8282d" font-weight="normal" stroke="#c8282d" stroke-width="0.2" >1</text>
<line x1="660.4" y1="399.3" x2="658.4" y2="399.3" stroke="#3b7d3b" stroke-width="1.0" />
<text transform="translate(662.6 402.2) scale(1 1.1)" font-size="8" text-anchor="start" fill="#3b7d3b" font-weight="normal" stroke="#3b7d3b" stroke-width="0.2" >0</text>
<line x1="660.4" y1="374.1" x2="658.4" y2="374.1" stroke="#3b7d3b" stroke-width="1.0" />
<text transform="translate(662.6 377) scale(1 1.1)" font-size="8" text-anchor="start" fill="#3b7d3b" font-weight="normal" stroke="#3b7d3b" stroke-width="0.2" >20</text>
<line x1="660.4" y1="348.9" x2="658.4" y2="348.9" stroke="#3b7d3b" stroke-width="1.0" />
<text transform="translate(662.6 351.8) scale(1 1.1)" font-size="8" text-anchor="start" fill="#3b7d3b" font-weight="normal" stroke="#3b7d3b" stroke-width="0.2" >40</text>
<text transform="translate(588.8 410) scale(1 1.1)" font-size="8" text-anchor="middle" fill="#262626" font-weight="normal" stroke="#262626" stroke-width="0.2" >-2</text>
<text transform="translate(624.6 410) scale(1 1.1)" font-size="8" text-anchor="middle" fill="#262626" font-weight="normal" stroke="#262626" stroke-width="0.2" >0</text>
<text transform="translate(660.4 410) scale(1 1.1)" font-size="8" text-anchor="middle" fill="#262626" font-weight="normal" stroke="#262626" stroke-width="0.2" >2</text>
<text transform="translate(624.6 420.9) scale(1 1.1)" font-size="9.2" text-anchor="middle" fill="#262626" font-weight="normal" stroke="#262626" stroke-width="0.2" >Time (ps)</text>
<text transform="translate(577.2 374.1) rotate(-90) scale(1 1.1)" font-size="9.2" text-anchor="middle" fill="#c8282d" font-weight="normal" stroke="#c8282d" stroke-width="0.2" >Power (kW)</text>
<text transform="translate(682.8 374.1) rotate(-90) scale(1 1.1)" font-size="9.2" text-anchor="middle" fill="#3b7d3b" font-weight="normal" stroke="#3b7d3b" stroke-width="0.2" >Power (W)</text>
<text transform="translate(624.6 344.3) scale(1 1.1)" font-size="9.2" text-anchor="middle" fill="#262626" font-weight="normal" stroke="#262626" stroke-width="0.2" >Simulated pulses</text>
<text transform="translate(350.6 341.8) scale(1 1.1)" font-size="10" text-anchor="middle" fill="#000" font-weight="bold" >j</text>
<polyline points="382.2,479.5 382.7,479.5 401.4,465.8 405.4,462.6 407.0,461.1 410.5,457.0 412.0,455.5 413.4,454.4 414.8,453.7 415.3,453.4 415.7,452.6 416.3,451.1 416.6,450.7 416.7,450.7 416.9,450.9 417.7,453.3 418.0,453.8 418.3,454.1 420.8,455.2 422.9,456.7 430.2,462.9 451.0,479.4 451.6,479.5" fill="none" stroke="#111" stroke-width="1.1" stroke-linejoin="round" stroke-dasharray="3.0 2.6" />
<polyline points="382.9,479.6 383.3,479.6 388.7,475.8 398.9,468.3 403.3,464.9 405.4,463.1 406.5,462.2 410.7,457.1 412.2,455.4 413.7,454.2 415.3,453.6 415.6,452.9 415.7,451.9 416.4,440.8 416.6,440.8 416.7,442.4 417.3,452.2 417.5,453.2 417.7,453.9 419.3,454.6 420.5,455.2 425.8,458.9 434.4,465.0 437.0,466.5 439.0,467.6 440.2,468.1 441.5,468.5 444.9,469.4 448.0,469.7 451.6,469.8" fill="none" stroke="#c8282d" stroke-width="1.35" stroke-linejoin="round" />
<rect x="380" y="429.5" width="72.3" height="50.4" stroke="#262626" stroke-width="1.0" fill="none"/>
<line x1="416.15" y1="479.9" x2="416.15" y2="477.9" stroke="#262626" stroke-width="1.0" />
<line x1="416.15" y1="429.5" x2="416.15" y2="431.5" stroke="#262626" stroke-width="1.0" />
<line x1="380" y1="442.1" x2="382" y2="442.1" stroke="#262626" stroke-width="1.0" />
<line x1="452.3" y1="442.1" x2="450.3" y2="442.1" stroke="#262626" stroke-width="1.0" />
<line x1="380" y1="454.7" x2="382" y2="454.7" stroke="#262626" stroke-width="1.0" />
<line x1="452.3" y1="454.7" x2="450.3" y2="454.7" stroke="#262626" stroke-width="1.0" />
<line x1="380" y1="467.3" x2="382" y2="467.3" stroke="#262626" stroke-width="1.0" />
<line x1="452.3" y1="467.3" x2="450.3" y2="467.3" stroke="#262626" stroke-width="1.0" />
<text transform="translate(380 490.6) scale(1 1.1)" font-size="8" text-anchor="middle" fill="#262626" font-weight="normal" stroke="#262626" stroke-width="0.2" >1540</text>
<text transform="translate(416.15 490.6) scale(1 1.1)" font-size="8" text-anchor="middle" fill="#262626" font-weight="normal" stroke="#262626" stroke-width="0.2" >1570</text>
<text transform="translate(452.3 490.6) scale(1 1.1)" font-size="8" text-anchor="middle" fill="#262626" font-weight="normal" stroke="#262626" stroke-width="0.2" >1600</text>
<text transform="translate(416.15 501.5) scale(1 1.1)" font-size="9.2" text-anchor="middle" fill="#262626" font-weight="normal" stroke="#262626" stroke-width="0.2" >Wavelength (nm)</text>
<text transform="translate(364.7 454.7) rotate(-90) scale(1 1.1)" font-size="9.2" text-anchor="middle" fill="#262626" font-weight="normal" stroke="#262626" stroke-width="0.2" >Power</text>
<text transform="translate(375.7 454.7) rotate(-90) scale(1 1.1)" font-size="9.2" text-anchor="middle" fill="#262626" font-weight="normal" stroke="#262626" stroke-width="0.2" >(20 dB/div)</text>
<text transform="translate(382.8 442) scale(1 1.1)" font-size="9.2" text-anchor="start" fill="#1a1a1a" font-weight="normal" stroke="#1a1a1a" stroke-width="0.2" font-family="Liberation Serif">&#958;</text>
<text transform="translate(387.2 442) scale(1 1.1)" font-size="9.2" text-anchor="start" fill="#1a1a1a" font-weight="normal" stroke="#1a1a1a" stroke-width="0.2" >=-2.0&#960;</text>
<polyline points="495.0,479.5 495.2,479.1 496.3,473.8 497.4,469.8 498.5,466.0 499.8,462.2 501.6,457.7 503.5,453.4 505.5,449.2 507.0,446.8 507.9,445.6 509.0,444.4 510.2,443.4 511.5,442.3 513.0,441.4 516.5,439.4 518.0,438.6 519.0,438.2 519.3,438.2 519.6,438.4 519.9,439.0 520.7,443.2 520.9,443.6 521.0,443.6 521.3,442.6 522.1,438.8 522.4,438.2 522.6,438.0 522.9,437.9 525.1,438.3 527.6,439.1 530.4,440.1 531.9,441.0 533.5,442.4 535.2,444.3 537.8,447.7 539.3,449.9 540.6,452.3 541.8,454.8 543.0,457.7 543.8,460.2 544.6,463.0 545.5,466.9 547.9,479.5" fill="none" stroke="#111" stroke-width="1.1" stroke-linejoin="round" stroke-dasharray="3.0 2.6" />
<polygon points="484.40,479.40 484.40,473.49 484.80,473.03 485.20,474.54 485.60,473.46 486.00,475.42 486.40,472.61 486.80,473.17 487.20,473.14 487.60,474.77 488.00,471.54 488.40,472.85 488.80,472.19 489.20,474.72 489.60,473.09 490.00,470.50 490.40,473.94 490.80,471.49 491.20,474.38 491.60,471.87 492.00,472.56 492.40,471.53 492.80,474.78 493.20,473.36 493.60,474.33 494.00,472.60 494.40,473.59 494.40,479.40" fill="#3b7d3b" stroke="#3b7d3b" stroke-width="0.6" stroke-linejoin="round"/>
<polygon points="549.03,479.40 549.03,473.06 549.43,473.17 549.83,473.54 550.23,472.91 550.63,472.21 551.03,475.05 551.43,474.31 551.83,473.23 552.23,475.55 552.63,474.09 553.03,474.48 553.43,474.07 553.83,473.85 554.23,473.21 554.63,474.09 555.03,474.92 555.43,471.52 555.83,473.85 556.23,474.08 556.23,479.40" fill="#3b7d3b" stroke="#3b7d3b" stroke-width="0.6" stroke-linejoin="round"/>
<polyline points="494.6,474.4 499.4,461.3 501.4,456.9 503.2,453.5 504.2,451.7 505.8,449.4 507.7,447.0 509.6,444.9 511.5,443.1 513.3,441.6 514.9,440.5 518.0,438.7 519.9,437.7 520.2,436.9 520.7,431.9 520.9,431.9 521.5,436.8 521.8,437.5 524.5,438.0 527.0,438.5 528.3,438.9 529.8,439.7 532.0,441.3 534.6,443.5 536.1,445.1 537.6,447.1 539.9,450.9 541.9,454.8 543.0,457.3 549.0,473.1" fill="none" stroke="#3b7d3b" stroke-width="1.3" stroke-linejoin="round" />
<rect x="483.9" y="429.5" width="73.1" height="50.4" stroke="#262626" stroke-width="1.0" fill="none"/>
<line x1="520.45" y1="479.9" x2="520.45" y2="477.9" stroke="#262626" stroke-width="1.0" />
<line x1="520.45" y1="429.5" x2="520.45" y2="431.5" stroke="#262626" stroke-width="1.0" />
<line x1="483.9" y1="446.3" x2="485.9" y2="446.3" stroke="#262626" stroke-width="1.0" />
<line x1="557" y1="446.3" x2="555" y2="446.3" stroke="#262626" stroke-width="1.0" />
<line x1="483.9" y1="463.1" x2="485.9" y2="463.1" stroke="#262626" stroke-width="1.0" />
<line x1="557" y1="463.1" x2="555" y2="463.1" stroke="#262626" stroke-width="1.0" />
<text transform="translate(483.9 490.6) scale(1 1.1)" font-size="8" text-anchor="middle" fill="#262626" font-weight="normal" stroke="#262626" stroke-width="0.2" >770</text>
<text transform="translate(520.45 490.6) scale(1 1.1)" font-size="8" text-anchor="middle" fill="#262626" font-weight="normal" stroke="#262626" stroke-width="0.2" >785</text>
<text transform="translate(557 490.6) scale(1 1.1)" font-size="8" text-anchor="middle" fill="#262626" font-weight="normal" stroke="#262626" stroke-width="0.2" >800</text>
<text transform="translate(520.45 501.5) scale(1 1.1)" font-size="9.2" text-anchor="middle" fill="#262626" font-weight="normal" stroke="#262626" stroke-width="0.2" >Wavelength (nm)</text>
<text transform="translate(468.6 454.7) rotate(-90) scale(1 1.1)" font-size="9.2" text-anchor="middle" fill="#262626" font-weight="normal" stroke="#262626" stroke-width="0.2" >Power</text>
<text transform="translate(480 454.7) rotate(-90) scale(1 1.1)" font-size="9.2" text-anchor="middle" fill="#262626" font-weight="normal" stroke="#262626" stroke-width="0.2" >(20 dB/div)</text>
<polyline points="588.8,479.9 618.8,479.9 619.8,479.8 620.6,479.5 621.1,478.7 621.5,477.6 621.8,475.8 622.2,473.0 622.7,466.7 624.0,448.3 624.3,445.3 624.5,444.7 624.7,444.7 624.9,445.3 625.2,448.3 626.5,466.7 627.2,474.5 627.6,476.8 627.9,478.2 628.3,479.1 628.6,479.5 629.4,479.8 630.4,479.9 660.4,479.9" fill="none" stroke="#3b7d3b" stroke-width="1.2" stroke-linejoin="round" />
<polyline points="588.8,479.5 614.3,479.4 615.7,479.3 616.8,479.0 617.7,478.6 618.4,477.9 619.1,476.9 619.8,475.2 620.6,472.4 621.1,469.4 622.0,462.1 623.6,444.9 624.2,441.1 624.5,440.0 624.7,440.0 624.9,440.4 625.4,443.4 627.2,462.1 627.7,466.8 628.3,470.5 628.8,473.2 629.4,475.2 630.1,476.9 630.8,477.9 631.5,478.6 632.4,479.0 633.5,479.3 634.9,479.4 660.4,479.5" fill="none" stroke="#c8282d" stroke-width="1.2" stroke-linejoin="round" />
<line x1="588.8" y1="429.5" x2="660.4" y2="429.5" stroke="#262626" stroke-width="1.0" />
<line x1="588.8" y1="479.9" x2="660.4" y2="479.9" stroke="#555" stroke-width="1.0" />
<line x1="588.8" y1="429.5" x2="588.8" y2="479.9" stroke="#c8282d" stroke-width="1.0" />
<line x1="660.4" y1="429.5" x2="660.4" y2="479.9" stroke="#3b7d3b" stroke-width="1.0" />
<line x1="624.6" y1="479.9" x2="624.6" y2="477.9" stroke="#262626" stroke-width="1.0" />
<line x1="624.6" y1="429.5" x2="624.6" y2="431.5" stroke="#262626" stroke-width="1.0" />
<line x1="588.8" y1="479.9" x2="590.8" y2="479.9" stroke="#c8282d" stroke-width="1.0" />
<text transform="translate(586.6 482.8) scale(1 1.1)" font-size="8" text-anchor="end" fill="#c8282d" font-weight="normal" stroke="#c8282d" stroke-width="0.2" >0</text>
<line x1="588.8" y1="437.9" x2="590.8" y2="437.9" stroke="#c8282d" stroke-width="1.0" />
<text transform="translate(586.6 440.8) scale(1 1.1)" font-size="8" text-anchor="end" fill="#c8282d" font-weight="normal" stroke="#c8282d" stroke-width="0.2" >5</text>
<line x1="660.4" y1="479.9" x2="658.4" y2="479.9" stroke="#3b7d3b" stroke-width="1.0" />
<text transform="translate(662.6 482.8) scale(1 1.1)" font-size="8" text-anchor="start" fill="#3b7d3b" font-weight="normal" stroke="#3b7d3b" stroke-width="0.2" >0</text>
<line x1="660.4" y1="448.4" x2="658.4" y2="448.4" stroke="#3b7d3b" stroke-width="1.0" />
<text transform="translate(662.6 451.3) scale(1 1.1)" font-size="8" text-anchor="start" fill="#3b7d3b" font-weight="normal" stroke="#3b7d3b" stroke-width="0.2" >50</text>
<text transform="translate(588.8 490.6) scale(1 1.1)" font-size="8" text-anchor="middle" fill="#262626" font-weight="normal" stroke="#262626" stroke-width="0.2" >-2</text>
<text transform="translate(624.6 490.6) scale(1 1.1)" font-size="8" text-anchor="middle" fill="#262626" font-weight="normal" stroke="#262626" stroke-width="0.2" >0</text>
<text transform="translate(660.4 490.6) scale(1 1.1)" font-size="8" text-anchor="middle" fill="#262626" font-weight="normal" stroke="#262626" stroke-width="0.2" >2</text>
<text transform="translate(624.6 501.5) scale(1 1.1)" font-size="9.2" text-anchor="middle" fill="#262626" font-weight="normal" stroke="#262626" stroke-width="0.2" >Time (ps)</text>
<text transform="translate(577.2 454.7) rotate(-90) scale(1 1.1)" font-size="9.2" text-anchor="middle" fill="#c8282d" font-weight="normal" stroke="#c8282d" stroke-width="0.2" >Power (kW)</text>
<text transform="translate(682.8 454.7) rotate(-90) scale(1 1.1)" font-size="9.2" text-anchor="middle" fill="#3b7d3b" font-weight="normal" stroke="#3b7d3b" stroke-width="0.2" >Power (W)</text>
<text transform="translate(350.6 427.7) scale(1 1.1)" font-size="10" text-anchor="middle" fill="#000" font-weight="bold" >k</text>
<polyline points="383.6,560.5 384.2,560.5 390.1,556.1 398.1,550.0 405.3,544.3 406.9,542.8 410.4,538.9 411.8,537.5 413.3,536.4 415.0,535.6 415.3,535.4 415.7,534.8 416.3,533.5 416.6,533.2 416.9,533.4 417.7,535.4 418.2,536.0 421.5,537.5 423.1,538.5 424.8,539.8 432.9,546.1 440.9,552.9 448.4,559.0 450.3,560.4 450.9,560.5" fill="none" stroke="#111" stroke-width="1.1" stroke-linejoin="round" stroke-dasharray="3.0 2.6" />
<polyline points="385.1,560.6 385.5,560.6 389.3,557.8 399.2,550.2 403.6,546.7 405.4,545.1 406.5,544.1 410.7,539.1 412.1,537.5 413.7,536.2 415.3,535.6 415.6,534.8 415.7,533.8 416.4,521.8 416.6,521.8 416.7,523.6 417.3,534.0 417.6,535.7 417.9,536.1 419.3,536.5 420.8,537.2 425.7,540.0 428.6,541.9 431.0,543.7 435.7,548.0 436.7,548.7 437.7,549.2 440.6,550.3 442.8,550.8 452.2,550.8" fill="none" stroke="#c8282d" stroke-width="1.35" stroke-linejoin="round" />
<rect x="380" y="510.5" width="72.3" height="50.4" stroke="#262626" stroke-width="1.0" fill="none"/>
<line x1="416.15" y1="560.9" x2="416.15" y2="558.9" stroke="#262626" stroke-width="1.0" />
<line x1="416.15" y1="510.5" x2="416.15" y2="512.5" stroke="#262626" stroke-width="1.0" />
<line x1="380" y1="523.1" x2="382" y2="523.1" stroke="#262626" stroke-width="1.0" />
<line x1="452.3" y1="523.1" x2="450.3" y2="523.1" stroke="#262626" stroke-width="1.0" />
<line x1="380" y1="535.7" x2="382" y2="535.7" stroke="#262626" stroke-width="1.0" />
<line x1="452.3" y1="535.7" x2="450.3" y2="535.7" stroke="#262626" stroke-width="1.0" />
<line x1="380" y1="548.3" x2="382" y2="548.3" stroke="#262626" stroke-width="1.0" />
<line x1="452.3" y1="548.3" x2="450.3" y2="548.3" stroke="#262626" stroke-width="1.0" />
<text transform="translate(380 571.6) scale(1 1.1)" font-size="8" text-anchor="middle" fill="#262626" font-weight="normal" stroke="#262626" stroke-width="0.2" >1540</text>
<text transform="translate(416.15 571.6) scale(1 1.1)" font-size="8" text-anchor="middle" fill="#262626" font-weight="normal" stroke="#262626" stroke-width="0.2" >1570</text>
<text transform="translate(452.3 571.6) scale(1 1.1)" font-size="8" text-anchor="middle" fill="#262626" font-weight="normal" stroke="#262626" stroke-width="0.2" >1600</text>
<text transform="translate(416.15 582.5) scale(1 1.1)" font-size="9.2" text-anchor="middle" fill="#262626" font-weight="normal" stroke="#262626" stroke-width="0.2" >Wavelength (nm)</text>
<text transform="translate(364.7 535.7) rotate(-90) scale(1 1.1)" font-size="9.2" text-anchor="middle" fill="#262626" font-weight="normal" stroke="#262626" stroke-width="0.2" >Power</text>
<text transform="translate(375.7 535.7) rotate(-90) scale(1 1.1)" font-size="9.2" text-anchor="middle" fill="#262626" font-weight="normal" stroke="#262626" stroke-width="0.2" >(20 dB/div)</text>
<text transform="translate(382.8 523) scale(1 1.1)" font-size="9.2" text-anchor="start" fill="#1a1a1a" font-weight="normal" stroke="#1a1a1a" stroke-width="0.2" font-family="Liberation Serif">&#958;</text>
<text transform="translate(387.2 523) scale(1 1.1)" font-size="9.2" text-anchor="start" fill="#1a1a1a" font-weight="normal" stroke="#1a1a1a" stroke-width="0.2" >=-2.4&#960;</text>
<polyline points="501.9,560.5 504.5,553.5 506.4,549.1 508.6,544.9 511.2,540.7 517.2,532.7 518.5,531.1 519.3,530.6 519.7,530.5 520.2,530.8 520.7,531.6 521.0,531.7 521.3,531.4 522.1,530.4 522.5,530.3 523.2,530.5 524.1,531.0 525.0,531.8 526.0,532.9 530.5,538.3 533.2,542.2 535.5,546.3 537.7,550.8 539.0,554.1 541.2,560.5" fill="none" stroke="#111" stroke-width="1.1" stroke-linejoin="round" stroke-dasharray="3.0 2.6" />
<polyline points="500.0,560.6 500.1,560.5 502.3,555.0 504.2,550.7 505.8,547.6 507.4,544.9 510.2,540.9 515.0,535.2 517.7,531.7 518.7,530.5 519.9,529.7 520.2,528.7 520.7,522.8 520.9,522.8 521.5,528.7 521.8,529.5 522.8,529.8 523.7,530.2 524.5,530.8 525.6,531.7 531.3,537.9 532.9,539.9 534.5,542.1 537.1,546.1 539.5,550.2 541.4,554.4 543.7,560.5" fill="none" stroke="#3b7d3b" stroke-width="1.3" stroke-linejoin="round" />
<rect x="483.9" y="510.5" width="73.1" height="50.4" stroke="#262626" stroke-width="1.0" fill="none"/>
<line x1="520.45" y1="560.9" x2="520.45" y2="558.9" stroke="#262626" stroke-width="1.0" />
<line x1="520.45" y1="510.5" x2="520.45" y2="512.5" stroke="#262626" stroke-width="1.0" />
<line x1="483.9" y1="527.3" x2="485.9" y2="527.3" stroke="#262626" stroke-width="1.0" />
<line x1="557" y1="527.3" x2="555" y2="527.3" stroke="#262626" stroke-width="1.0" />
<line x1="483.9" y1="544.1" x2="485.9" y2="544.1" stroke="#262626" stroke-width="1.0" />
<line x1="557" y1="544.1" x2="555" y2="544.1" stroke="#262626" stroke-width="1.0" />
<text transform="translate(483.9 571.6) scale(1 1.1)" font-size="8" text-anchor="middle" fill="#262626" font-weight="normal" stroke="#262626" stroke-width="0.2" >770</text>
<text transform="translate(520.45 571.6) scale(1 1.1)" font-size="8" text-anchor="middle" fill="#262626" font-weight="normal" stroke="#262626" stroke-width="0.2" >785</text>
<text transform="translate(557 571.6) scale(1 1.1)" font-size="8" text-anchor="middle" fill="#262626" font-weight="normal" stroke="#262626" stroke-width="0.2" >800</text>
<text transform="translate(520.45 582.5) scale(1 1.1)" font-size="9.2" text-anchor="middle" fill="#262626" font-weight="normal" stroke="#262626" stroke-width="0.2" >Wavelength (nm)</text>
<text transform="translate(468.6 535.7) rotate(-90) scale(1 1.1)" font-size="9.2" text-anchor="middle" fill="#262626" font-weight="normal" stroke="#262626" stroke-width="0.2" >Power</text>
<text transform="translate(480 535.7) rotate(-90) scale(1 1.1)" font-size="9.2" text-anchor="middle" fill="#262626" font-weight="normal" stroke="#262626" stroke-width="0.2" >(20 dB/div)</text>
<polyline points="588.8,560.9 618.8,560.9 619.8,560.8 620.6,560.5 621.1,559.8 621.5,558.8 621.8,557.1 622.2,554.5 622.7,548.7 624.0,531.5 624.3,528.8 624.5,528.2 624.7,528.2 624.9,528.8 625.2,531.5 626.5,548.7 627.2,555.9 627.6,558.0 627.9,559.4 628.3,560.1 628.6,560.5 629.4,560.8 630.4,560.9 660.4,560.9" fill="none" stroke="#3b7d3b" stroke-width="1.2" stroke-linejoin="round" />
<polyline points="588.8,557.2 609.4,557.2 613.6,557.1 615.2,556.9 616.3,556.7 617.2,556.2 618.1,555.4 618.8,554.2 619.5,552.4 620.2,549.7 620.7,546.8 621.8,538.3 623.6,519.7 624.2,516.2 624.5,515.2 624.7,515.2 625.0,516.2 625.6,519.7 627.4,538.3 628.5,546.8 629.0,549.7 629.7,552.4 630.4,554.2 631.1,555.4 632.0,556.2 632.9,556.7 634.0,556.9 635.6,557.1 639.8,557.2 660.4,557.2" fill="none" stroke="#c8282d" stroke-width="1.2" stroke-linejoin="round" />
<line x1="588.8" y1="510.5" x2="660.4" y2="510.5" stroke="#262626" stroke-width="1.0" />
<line x1="588.8" y1="560.9" x2="660.4" y2="560.9" stroke="#555" stroke-width="1.0" />
<line x1="588.8" y1="510.5" x2="588.8" y2="560.9" stroke="#c8282d" stroke-width="1.0" />
<line x1="660.4" y1="510.5" x2="660.4" y2="560.9" stroke="#3b7d3b" stroke-width="1.0" />
<line x1="624.6" y1="560.9" x2="624.6" y2="558.9" stroke="#262626" stroke-width="1.0" />
<line x1="624.6" y1="510.5" x2="624.6" y2="512.5" stroke="#262626" stroke-width="1.0" />
<line x1="588.8" y1="560.9" x2="590.8" y2="560.9" stroke="#c8282d" stroke-width="1.0" />
<text transform="translate(586.6 563.8) scale(1 1.1)" font-size="8" text-anchor="end" fill="#c8282d" font-weight="normal" stroke="#c8282d" stroke-width="0.2" >0</text>
<line x1="588.8" y1="527.3" x2="590.8" y2="527.3" stroke="#c8282d" stroke-width="1.0" />
<text transform="translate(586.6 530.2) scale(1 1.1)" font-size="8" text-anchor="end" fill="#c8282d" font-weight="normal" stroke="#c8282d" stroke-width="0.2" >2</text>
<line x1="660.4" y1="560.9" x2="658.4" y2="560.9" stroke="#3b7d3b" stroke-width="1.0" />
<text transform="translate(662.6 563.8) scale(1 1.1)" font-size="8" text-anchor="start" fill="#3b7d3b" font-weight="normal" stroke="#3b7d3b" stroke-width="0.2" >0</text>
<line x1="660.4" y1="538.22" x2="658.4" y2="538.22" stroke="#3b7d3b" stroke-width="1.0" />
<text transform="translate(662.6 541.12) scale(1 1.1)" font-size="8" text-anchor="start" fill="#3b7d3b" font-weight="normal" stroke="#3b7d3b" stroke-width="0.2" >90</text>
<text transform="translate(588.8 571.6) scale(1 1.1)" font-size="8" text-anchor="middle" fill="#262626" font-weight="normal" stroke="#262626" stroke-width="0.2" >-2</text>
<text transform="translate(624.6 571.6) scale(1 1.1)" font-size="8" text-anchor="middle" fill="#262626" font-weight="normal" stroke="#262626" stroke-width="0.2" >0</text>
<text transform="translate(660.4 571.6) scale(1 1.1)" font-size="8" text-anchor="middle" fill="#262626" font-weight="normal" stroke="#262626" stroke-width="0.2" >2</text>
<text transform="translate(624.6 582.5) scale(1 1.1)" font-size="9.2" text-anchor="middle" fill="#262626" font-weight="normal" stroke="#262626" stroke-width="0.2" >Time (ps)</text>
<text transform="translate(577.2 535.7) rotate(-90) scale(1 1.1)" font-size="9.2" text-anchor="middle" fill="#c8282d" font-weight="normal" stroke="#c8282d" stroke-width="0.2" >Power (kW)</text>
<text transform="translate(682.8 535.7) rotate(-90) scale(1 1.1)" font-size="9.2" text-anchor="middle" fill="#3b7d3b" font-weight="normal" stroke="#3b7d3b" stroke-width="0.2" >Power (W)</text>
<text transform="translate(350.6 507.2) scale(1 1.1)" font-size="10" text-anchor="middle" fill="#000" font-weight="bold" >l</text>
<line x1="379.4" y1="341" x2="394.6" y2="341" stroke="#c8282d" stroke-width="1.0" />
<text transform="translate(397.2 344.3) scale(1 1.1)" font-size="9.2" text-anchor="start" fill="#262626" font-weight="normal" stroke="#262626" stroke-width="0.2" >FF</text>
<line x1="424.4" y1="341" x2="439.3" y2="341" stroke="#3b7d3b" stroke-width="1.0" />
<text transform="translate(441 344.3) scale(1 1.1)" font-size="9.2" text-anchor="start" fill="#262626" font-weight="normal" stroke="#262626" stroke-width="0.2" >SH</text>
<line x1="470.4" y1="341.4" x2="486.5" y2="341.4" stroke="#111" stroke-width="1.2" stroke-dasharray="3.3 3.0"/>
<text transform="translate(487.8 344.8) scale(1 1.1)" font-size="9.2" text-anchor="start" fill="#262626" font-weight="normal" stroke="#262626" stroke-width="0.2" >Theory</text></svg></body></html>
